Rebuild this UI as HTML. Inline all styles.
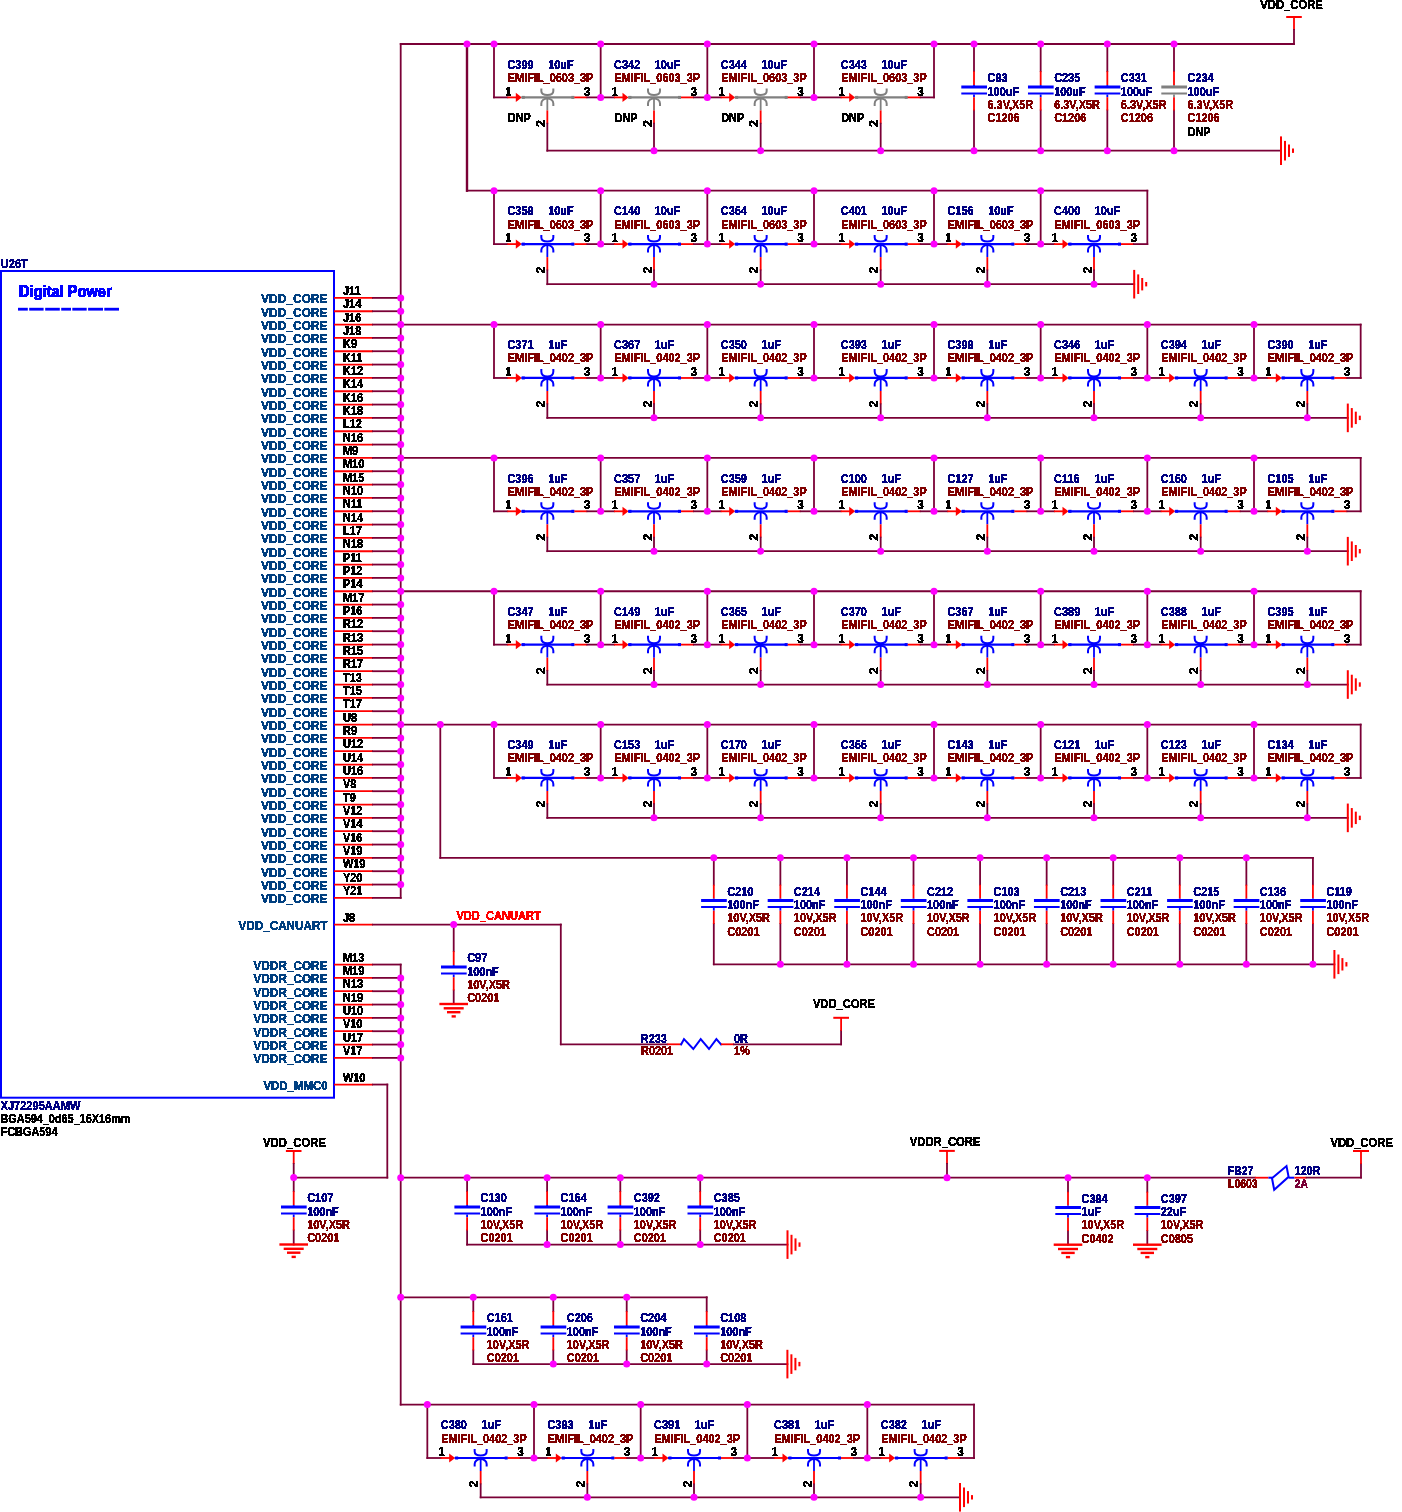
<!DOCTYPE html>
<html><head><meta charset="utf-8"><style>
html,body{margin:0;padding:0;background:#fff;width:1402px;height:1512px;overflow:hidden}
svg{display:block;font-family:"Liberation Sans",sans-serif}
text{stroke-width:0.2px}
</style></head><body>
<svg width="1402" height="1512" viewBox="0 0 1402 1512" font-family="Liberation Sans, sans-serif" font-weight="bold">
<defs><filter id="crisp" x="0" y="0" width="1402" height="1512" filterUnits="userSpaceOnUse"><feComponentTransfer><feFuncA type="discrete" tableValues="0 1 1"/></feComponentTransfer></filter></defs><rect x="1" y="271" width="333" height="826.7" fill="none" stroke="#0000ff" stroke-width="2"/>
<rect x="18" y="307.8" width="9.8" height="2.8" fill="#0000ff"/>
<rect x="29.2" y="307.8" width="14.4" height="2.8" fill="#0000ff"/>
<rect x="45.2" y="307.8" width="14.6" height="2.8" fill="#0000ff"/>
<rect x="61.2" y="307.8" width="9.8" height="2.8" fill="#0000ff"/>
<rect x="72.3" y="307.8" width="14.4" height="2.8" fill="#0000ff"/>
<rect x="88.1" y="307.8" width="14.9" height="2.8" fill="#0000ff"/>
<rect x="104.3" y="307.8" width="14.7" height="2.8" fill="#0000ff"/>
<line x1="334" y1="297.9" x2="373" y2="297.9" stroke="#ff0000" stroke-width="1.8"/>
<line x1="373" y1="297.9" x2="400.7" y2="297.9" stroke="#7a0036" stroke-width="1.8" stroke-linecap="square"/>
<line x1="334" y1="311.23" x2="373" y2="311.23" stroke="#ff0000" stroke-width="1.8"/>
<line x1="373" y1="311.23" x2="400.7" y2="311.23" stroke="#7a0036" stroke-width="1.8" stroke-linecap="square"/>
<line x1="334" y1="324.57" x2="373" y2="324.57" stroke="#ff0000" stroke-width="1.8"/>
<line x1="373" y1="324.57" x2="400.7" y2="324.57" stroke="#7a0036" stroke-width="1.8" stroke-linecap="square"/>
<line x1="334" y1="337.9" x2="373" y2="337.9" stroke="#ff0000" stroke-width="1.8"/>
<line x1="373" y1="337.9" x2="400.7" y2="337.9" stroke="#7a0036" stroke-width="1.8" stroke-linecap="square"/>
<line x1="334" y1="351.23" x2="373" y2="351.23" stroke="#ff0000" stroke-width="1.8"/>
<line x1="373" y1="351.23" x2="400.7" y2="351.23" stroke="#7a0036" stroke-width="1.8" stroke-linecap="square"/>
<line x1="334" y1="364.56" x2="373" y2="364.56" stroke="#ff0000" stroke-width="1.8"/>
<line x1="373" y1="364.56" x2="400.7" y2="364.56" stroke="#7a0036" stroke-width="1.8" stroke-linecap="square"/>
<line x1="334" y1="377.9" x2="373" y2="377.9" stroke="#ff0000" stroke-width="1.8"/>
<line x1="373" y1="377.9" x2="400.7" y2="377.9" stroke="#7a0036" stroke-width="1.8" stroke-linecap="square"/>
<line x1="334" y1="391.23" x2="373" y2="391.23" stroke="#ff0000" stroke-width="1.8"/>
<line x1="373" y1="391.23" x2="400.7" y2="391.23" stroke="#7a0036" stroke-width="1.8" stroke-linecap="square"/>
<line x1="334" y1="404.56" x2="373" y2="404.56" stroke="#ff0000" stroke-width="1.8"/>
<line x1="373" y1="404.56" x2="400.7" y2="404.56" stroke="#7a0036" stroke-width="1.8" stroke-linecap="square"/>
<line x1="334" y1="417.9" x2="373" y2="417.9" stroke="#ff0000" stroke-width="1.8"/>
<line x1="373" y1="417.9" x2="400.7" y2="417.9" stroke="#7a0036" stroke-width="1.8" stroke-linecap="square"/>
<line x1="334" y1="431.23" x2="373" y2="431.23" stroke="#ff0000" stroke-width="1.8"/>
<line x1="373" y1="431.23" x2="400.7" y2="431.23" stroke="#7a0036" stroke-width="1.8" stroke-linecap="square"/>
<line x1="334" y1="444.56" x2="373" y2="444.56" stroke="#ff0000" stroke-width="1.8"/>
<line x1="373" y1="444.56" x2="400.7" y2="444.56" stroke="#7a0036" stroke-width="1.8" stroke-linecap="square"/>
<line x1="334" y1="457.9" x2="373" y2="457.9" stroke="#ff0000" stroke-width="1.8"/>
<line x1="373" y1="457.9" x2="400.7" y2="457.9" stroke="#7a0036" stroke-width="1.8" stroke-linecap="square"/>
<line x1="334" y1="471.23" x2="373" y2="471.23" stroke="#ff0000" stroke-width="1.8"/>
<line x1="373" y1="471.23" x2="400.7" y2="471.23" stroke="#7a0036" stroke-width="1.8" stroke-linecap="square"/>
<line x1="334" y1="484.56" x2="373" y2="484.56" stroke="#ff0000" stroke-width="1.8"/>
<line x1="373" y1="484.56" x2="400.7" y2="484.56" stroke="#7a0036" stroke-width="1.8" stroke-linecap="square"/>
<line x1="334" y1="497.89" x2="373" y2="497.89" stroke="#ff0000" stroke-width="1.8"/>
<line x1="373" y1="497.89" x2="400.7" y2="497.89" stroke="#7a0036" stroke-width="1.8" stroke-linecap="square"/>
<line x1="334" y1="511.23" x2="373" y2="511.23" stroke="#ff0000" stroke-width="1.8"/>
<line x1="373" y1="511.23" x2="400.7" y2="511.23" stroke="#7a0036" stroke-width="1.8" stroke-linecap="square"/>
<line x1="334" y1="524.56" x2="373" y2="524.56" stroke="#ff0000" stroke-width="1.8"/>
<line x1="373" y1="524.56" x2="400.7" y2="524.56" stroke="#7a0036" stroke-width="1.8" stroke-linecap="square"/>
<line x1="334" y1="537.89" x2="373" y2="537.89" stroke="#ff0000" stroke-width="1.8"/>
<line x1="373" y1="537.89" x2="400.7" y2="537.89" stroke="#7a0036" stroke-width="1.8" stroke-linecap="square"/>
<line x1="334" y1="551.23" x2="373" y2="551.23" stroke="#ff0000" stroke-width="1.8"/>
<line x1="373" y1="551.23" x2="400.7" y2="551.23" stroke="#7a0036" stroke-width="1.8" stroke-linecap="square"/>
<line x1="334" y1="564.56" x2="373" y2="564.56" stroke="#ff0000" stroke-width="1.8"/>
<line x1="373" y1="564.56" x2="400.7" y2="564.56" stroke="#7a0036" stroke-width="1.8" stroke-linecap="square"/>
<line x1="334" y1="577.89" x2="373" y2="577.89" stroke="#ff0000" stroke-width="1.8"/>
<line x1="373" y1="577.89" x2="400.7" y2="577.89" stroke="#7a0036" stroke-width="1.8" stroke-linecap="square"/>
<line x1="334" y1="591.23" x2="373" y2="591.23" stroke="#ff0000" stroke-width="1.8"/>
<line x1="373" y1="591.23" x2="400.7" y2="591.23" stroke="#7a0036" stroke-width="1.8" stroke-linecap="square"/>
<line x1="334" y1="604.56" x2="373" y2="604.56" stroke="#ff0000" stroke-width="1.8"/>
<line x1="373" y1="604.56" x2="400.7" y2="604.56" stroke="#7a0036" stroke-width="1.8" stroke-linecap="square"/>
<line x1="334" y1="617.89" x2="373" y2="617.89" stroke="#ff0000" stroke-width="1.8"/>
<line x1="373" y1="617.89" x2="400.7" y2="617.89" stroke="#7a0036" stroke-width="1.8" stroke-linecap="square"/>
<line x1="334" y1="631.22" x2="373" y2="631.22" stroke="#ff0000" stroke-width="1.8"/>
<line x1="373" y1="631.22" x2="400.7" y2="631.22" stroke="#7a0036" stroke-width="1.8" stroke-linecap="square"/>
<line x1="334" y1="644.56" x2="373" y2="644.56" stroke="#ff0000" stroke-width="1.8"/>
<line x1="373" y1="644.56" x2="400.7" y2="644.56" stroke="#7a0036" stroke-width="1.8" stroke-linecap="square"/>
<line x1="334" y1="657.89" x2="373" y2="657.89" stroke="#ff0000" stroke-width="1.8"/>
<line x1="373" y1="657.89" x2="400.7" y2="657.89" stroke="#7a0036" stroke-width="1.8" stroke-linecap="square"/>
<line x1="334" y1="671.22" x2="373" y2="671.22" stroke="#ff0000" stroke-width="1.8"/>
<line x1="373" y1="671.22" x2="400.7" y2="671.22" stroke="#7a0036" stroke-width="1.8" stroke-linecap="square"/>
<line x1="334" y1="684.56" x2="373" y2="684.56" stroke="#ff0000" stroke-width="1.8"/>
<line x1="373" y1="684.56" x2="400.7" y2="684.56" stroke="#7a0036" stroke-width="1.8" stroke-linecap="square"/>
<line x1="334" y1="697.89" x2="373" y2="697.89" stroke="#ff0000" stroke-width="1.8"/>
<line x1="373" y1="697.89" x2="400.7" y2="697.89" stroke="#7a0036" stroke-width="1.8" stroke-linecap="square"/>
<line x1="334" y1="711.22" x2="373" y2="711.22" stroke="#ff0000" stroke-width="1.8"/>
<line x1="373" y1="711.22" x2="400.7" y2="711.22" stroke="#7a0036" stroke-width="1.8" stroke-linecap="square"/>
<line x1="334" y1="724.56" x2="373" y2="724.56" stroke="#ff0000" stroke-width="1.8"/>
<line x1="373" y1="724.56" x2="400.7" y2="724.56" stroke="#7a0036" stroke-width="1.8" stroke-linecap="square"/>
<line x1="334" y1="737.89" x2="373" y2="737.89" stroke="#ff0000" stroke-width="1.8"/>
<line x1="373" y1="737.89" x2="400.7" y2="737.89" stroke="#7a0036" stroke-width="1.8" stroke-linecap="square"/>
<line x1="334" y1="751.22" x2="373" y2="751.22" stroke="#ff0000" stroke-width="1.8"/>
<line x1="373" y1="751.22" x2="400.7" y2="751.22" stroke="#7a0036" stroke-width="1.8" stroke-linecap="square"/>
<line x1="334" y1="764.56" x2="373" y2="764.56" stroke="#ff0000" stroke-width="1.8"/>
<line x1="373" y1="764.56" x2="400.7" y2="764.56" stroke="#7a0036" stroke-width="1.8" stroke-linecap="square"/>
<line x1="334" y1="777.89" x2="373" y2="777.89" stroke="#ff0000" stroke-width="1.8"/>
<line x1="373" y1="777.89" x2="400.7" y2="777.89" stroke="#7a0036" stroke-width="1.8" stroke-linecap="square"/>
<line x1="334" y1="791.22" x2="373" y2="791.22" stroke="#ff0000" stroke-width="1.8"/>
<line x1="373" y1="791.22" x2="400.7" y2="791.22" stroke="#7a0036" stroke-width="1.8" stroke-linecap="square"/>
<line x1="334" y1="804.55" x2="373" y2="804.55" stroke="#ff0000" stroke-width="1.8"/>
<line x1="373" y1="804.55" x2="400.7" y2="804.55" stroke="#7a0036" stroke-width="1.8" stroke-linecap="square"/>
<line x1="334" y1="817.89" x2="373" y2="817.89" stroke="#ff0000" stroke-width="1.8"/>
<line x1="373" y1="817.89" x2="400.7" y2="817.89" stroke="#7a0036" stroke-width="1.8" stroke-linecap="square"/>
<line x1="334" y1="831.22" x2="373" y2="831.22" stroke="#ff0000" stroke-width="1.8"/>
<line x1="373" y1="831.22" x2="400.7" y2="831.22" stroke="#7a0036" stroke-width="1.8" stroke-linecap="square"/>
<line x1="334" y1="844.55" x2="373" y2="844.55" stroke="#ff0000" stroke-width="1.8"/>
<line x1="373" y1="844.55" x2="400.7" y2="844.55" stroke="#7a0036" stroke-width="1.8" stroke-linecap="square"/>
<line x1="334" y1="857.89" x2="373" y2="857.89" stroke="#ff0000" stroke-width="1.8"/>
<line x1="373" y1="857.89" x2="400.7" y2="857.89" stroke="#7a0036" stroke-width="1.8" stroke-linecap="square"/>
<line x1="334" y1="871.22" x2="373" y2="871.22" stroke="#ff0000" stroke-width="1.8"/>
<line x1="373" y1="871.22" x2="400.7" y2="871.22" stroke="#7a0036" stroke-width="1.8" stroke-linecap="square"/>
<line x1="334" y1="884.55" x2="373" y2="884.55" stroke="#ff0000" stroke-width="1.8"/>
<line x1="373" y1="884.55" x2="400.7" y2="884.55" stroke="#7a0036" stroke-width="1.8" stroke-linecap="square"/>
<line x1="334" y1="897.88" x2="373" y2="897.88" stroke="#ff0000" stroke-width="1.8"/>
<line x1="373" y1="897.88" x2="400.7" y2="897.88" stroke="#7a0036" stroke-width="1.8" stroke-linecap="square"/>
<line x1="400.7" y1="44" x2="400.7" y2="897.88" stroke="#7a0036" stroke-width="1.8" stroke-linecap="square"/>
<line x1="334" y1="924.55" x2="373" y2="924.55" stroke="#ff0000" stroke-width="1.8"/>
<line x1="373" y1="924.55" x2="560.8" y2="924.55" stroke="#7a0036" stroke-width="1.8" stroke-linecap="square"/>
<line x1="560.8" y1="924.55" x2="560.8" y2="1044.3" stroke="#7a0036" stroke-width="1.8" stroke-linecap="square"/>
<line x1="560.8" y1="1044.3" x2="667.3" y2="1044.3" stroke="#7a0036" stroke-width="1.8" stroke-linecap="square"/>
<line x1="334" y1="964.55" x2="373" y2="964.55" stroke="#ff0000" stroke-width="1.8"/>
<line x1="373" y1="964.55" x2="400.7" y2="964.55" stroke="#7a0036" stroke-width="1.8" stroke-linecap="square"/>
<line x1="334" y1="977.88" x2="373" y2="977.88" stroke="#ff0000" stroke-width="1.8"/>
<line x1="373" y1="977.88" x2="400.7" y2="977.88" stroke="#7a0036" stroke-width="1.8" stroke-linecap="square"/>
<line x1="334" y1="991.22" x2="373" y2="991.22" stroke="#ff0000" stroke-width="1.8"/>
<line x1="373" y1="991.22" x2="400.7" y2="991.22" stroke="#7a0036" stroke-width="1.8" stroke-linecap="square"/>
<line x1="334" y1="1004.55" x2="373" y2="1004.55" stroke="#ff0000" stroke-width="1.8"/>
<line x1="373" y1="1004.55" x2="400.7" y2="1004.55" stroke="#7a0036" stroke-width="1.8" stroke-linecap="square"/>
<line x1="334" y1="1017.88" x2="373" y2="1017.88" stroke="#ff0000" stroke-width="1.8"/>
<line x1="373" y1="1017.88" x2="400.7" y2="1017.88" stroke="#7a0036" stroke-width="1.8" stroke-linecap="square"/>
<line x1="334" y1="1031.22" x2="373" y2="1031.22" stroke="#ff0000" stroke-width="1.8"/>
<line x1="373" y1="1031.22" x2="400.7" y2="1031.22" stroke="#7a0036" stroke-width="1.8" stroke-linecap="square"/>
<line x1="334" y1="1044.55" x2="373" y2="1044.55" stroke="#ff0000" stroke-width="1.8"/>
<line x1="373" y1="1044.55" x2="400.7" y2="1044.55" stroke="#7a0036" stroke-width="1.8" stroke-linecap="square"/>
<line x1="334" y1="1057.88" x2="373" y2="1057.88" stroke="#ff0000" stroke-width="1.8"/>
<line x1="373" y1="1057.88" x2="400.7" y2="1057.88" stroke="#7a0036" stroke-width="1.8" stroke-linecap="square"/>
<line x1="400.7" y1="964.55" x2="400.7" y2="1404.6" stroke="#7a0036" stroke-width="1.8" stroke-linecap="square"/>
<line x1="334" y1="1084.55" x2="373" y2="1084.55" stroke="#ff0000" stroke-width="1.8"/>
<line x1="373" y1="1084.55" x2="387.3" y2="1084.55" stroke="#7a0036" stroke-width="1.8" stroke-linecap="square"/>
<line x1="387.3" y1="1084.55" x2="387.3" y2="1177.6" stroke="#7a0036" stroke-width="1.8" stroke-linecap="square"/>
<line x1="387.3" y1="1177.6" x2="293.7" y2="1177.6" stroke="#7a0036" stroke-width="1.8" stroke-linecap="square"/>
<line x1="400.7" y1="44" x2="1294" y2="44" stroke="#7a0036" stroke-width="1.8" stroke-linecap="square"/>
<line x1="467" y1="44" x2="467" y2="190.7" stroke="#7a0036" stroke-width="2.4" stroke-linecap="square"/>
<line x1="494" y1="44" x2="494" y2="97.4" stroke="#7a0036" stroke-width="1.8" stroke-linecap="square"/>
<line x1="600.67" y1="44" x2="600.67" y2="97.4" stroke="#7a0036" stroke-width="1.8" stroke-linecap="square"/>
<line x1="707.33" y1="44" x2="707.33" y2="97.4" stroke="#7a0036" stroke-width="1.8" stroke-linecap="square"/>
<line x1="814" y1="44" x2="814" y2="97.4" stroke="#7a0036" stroke-width="1.8" stroke-linecap="square"/>
<line x1="934" y1="44" x2="934" y2="97.4" stroke="#7a0036" stroke-width="1.8" stroke-linecap="square"/>
<line x1="494" y1="97.4" x2="507.33" y2="97.4" stroke="#7a0036" stroke-width="1.8" stroke-linecap="square"/>
<line x1="507.33" y1="97.4" x2="519.33" y2="97.4" stroke="#ff0000" stroke-width="1.8"/>
<polygon points="515.83,92.8 521.83,97.4 515.83,102" fill="#ff0000"/>
<line x1="521.33" y1="97.4" x2="574.33" y2="97.4" stroke="#808080" stroke-width="2.2"/>
<rect x="521.83" y="95.9" width="3" height="3" fill="#808080"/>
<rect x="571.33" y="95.9" width="3" height="3" fill="#808080"/>
<line x1="574.33" y1="97.4" x2="587.33" y2="97.4" stroke="#ff0000" stroke-width="1.8"/>
<line x1="587.33" y1="97.4" x2="600.67" y2="97.4" stroke="#7a0036" stroke-width="1.8" stroke-linecap="square"/>
<path d="M541.33,88.4 L541.33,90.9 C541.33,93.9 544.33,94.9 547.33,94.9 C550.33,94.9 553.33,93.9 553.33,90.9 L553.33,88.4" fill="none" stroke="#808080" stroke-width="2"/>
<path d="M541.33,105.9 L541.33,103.4 C541.33,100.4 544.33,98.4 547.33,98.4 C550.33,98.4 553.33,100.4 553.33,103.4 L553.33,105.9" fill="none" stroke="#808080" stroke-width="2"/>
<line x1="547.33" y1="97.4" x2="547.33" y2="110.4" stroke="#808080" stroke-width="1.8"/>
<line x1="547.33" y1="110.4" x2="547.33" y2="123.7" stroke="#ff0000" stroke-width="1.8"/>
<line x1="547.33" y1="123.7" x2="547.33" y2="150.7" stroke="#7a0036" stroke-width="1.8" stroke-linecap="square"/>
<line x1="600.67" y1="97.4" x2="614" y2="97.4" stroke="#7a0036" stroke-width="1.8" stroke-linecap="square"/>
<line x1="614" y1="97.4" x2="626" y2="97.4" stroke="#ff0000" stroke-width="1.8"/>
<polygon points="622.5,92.8 628.5,97.4 622.5,102" fill="#ff0000"/>
<line x1="628" y1="97.4" x2="681" y2="97.4" stroke="#808080" stroke-width="2.2"/>
<rect x="628.5" y="95.9" width="3" height="3" fill="#808080"/>
<rect x="678" y="95.9" width="3" height="3" fill="#808080"/>
<line x1="681" y1="97.4" x2="694" y2="97.4" stroke="#ff0000" stroke-width="1.8"/>
<line x1="694" y1="97.4" x2="707.33" y2="97.4" stroke="#7a0036" stroke-width="1.8" stroke-linecap="square"/>
<path d="M648,88.4 L648,90.9 C648,93.9 651,94.9 654,94.9 C657,94.9 660,93.9 660,90.9 L660,88.4" fill="none" stroke="#808080" stroke-width="2"/>
<path d="M648,105.9 L648,103.4 C648,100.4 651,98.4 654,98.4 C657,98.4 660,100.4 660,103.4 L660,105.9" fill="none" stroke="#808080" stroke-width="2"/>
<line x1="654" y1="97.4" x2="654" y2="110.4" stroke="#808080" stroke-width="1.8"/>
<line x1="654" y1="110.4" x2="654" y2="123.7" stroke="#ff0000" stroke-width="1.8"/>
<line x1="654" y1="123.7" x2="654" y2="150.7" stroke="#7a0036" stroke-width="1.8" stroke-linecap="square"/>
<line x1="707.33" y1="97.4" x2="720.66" y2="97.4" stroke="#7a0036" stroke-width="1.8" stroke-linecap="square"/>
<line x1="720.66" y1="97.4" x2="732.66" y2="97.4" stroke="#ff0000" stroke-width="1.8"/>
<polygon points="729.16,92.8 735.16,97.4 729.16,102" fill="#ff0000"/>
<line x1="734.66" y1="97.4" x2="787.66" y2="97.4" stroke="#808080" stroke-width="2.2"/>
<rect x="735.16" y="95.9" width="3" height="3" fill="#808080"/>
<rect x="784.66" y="95.9" width="3" height="3" fill="#808080"/>
<line x1="787.66" y1="97.4" x2="800.66" y2="97.4" stroke="#ff0000" stroke-width="1.8"/>
<line x1="800.66" y1="97.4" x2="814" y2="97.4" stroke="#7a0036" stroke-width="1.8" stroke-linecap="square"/>
<path d="M754.66,88.4 L754.66,90.9 C754.66,93.9 757.66,94.9 760.66,94.9 C763.66,94.9 766.66,93.9 766.66,90.9 L766.66,88.4" fill="none" stroke="#808080" stroke-width="2"/>
<path d="M754.66,105.9 L754.66,103.4 C754.66,100.4 757.66,98.4 760.66,98.4 C763.66,98.4 766.66,100.4 766.66,103.4 L766.66,105.9" fill="none" stroke="#808080" stroke-width="2"/>
<line x1="760.66" y1="97.4" x2="760.66" y2="110.4" stroke="#808080" stroke-width="1.8"/>
<line x1="760.66" y1="110.4" x2="760.66" y2="123.7" stroke="#ff0000" stroke-width="1.8"/>
<line x1="760.66" y1="123.7" x2="760.66" y2="150.7" stroke="#7a0036" stroke-width="1.8" stroke-linecap="square"/>
<line x1="814" y1="97.4" x2="840.67" y2="97.4" stroke="#7a0036" stroke-width="1.8" stroke-linecap="square"/>
<line x1="840.67" y1="97.4" x2="852.67" y2="97.4" stroke="#ff0000" stroke-width="1.8"/>
<polygon points="849.17,92.8 855.17,97.4 849.17,102" fill="#ff0000"/>
<line x1="854.67" y1="97.4" x2="907.67" y2="97.4" stroke="#808080" stroke-width="2.2"/>
<rect x="855.17" y="95.9" width="3" height="3" fill="#808080"/>
<rect x="904.67" y="95.9" width="3" height="3" fill="#808080"/>
<line x1="907.67" y1="97.4" x2="920.67" y2="97.4" stroke="#ff0000" stroke-width="1.8"/>
<line x1="920.67" y1="97.4" x2="934" y2="97.4" stroke="#7a0036" stroke-width="1.8" stroke-linecap="square"/>
<path d="M874.67,88.4 L874.67,90.9 C874.67,93.9 877.67,94.9 880.67,94.9 C883.67,94.9 886.67,93.9 886.67,90.9 L886.67,88.4" fill="none" stroke="#808080" stroke-width="2"/>
<path d="M874.67,105.9 L874.67,103.4 C874.67,100.4 877.67,98.4 880.67,98.4 C883.67,98.4 886.67,100.4 886.67,103.4 L886.67,105.9" fill="none" stroke="#808080" stroke-width="2"/>
<line x1="880.67" y1="97.4" x2="880.67" y2="110.4" stroke="#808080" stroke-width="1.8"/>
<line x1="880.67" y1="110.4" x2="880.67" y2="123.7" stroke="#ff0000" stroke-width="1.8"/>
<line x1="880.67" y1="123.7" x2="880.67" y2="150.7" stroke="#7a0036" stroke-width="1.8" stroke-linecap="square"/>
<line x1="547.33" y1="150.7" x2="1281" y2="150.7" stroke="#7a0036" stroke-width="1.8" stroke-linecap="square"/>
<rect x="1280" y="136.4" width="2" height="28.6" fill="#ff0000"/>
<rect x="1284" y="140.9" width="2" height="19.6" fill="#ff0000"/>
<rect x="1288" y="144.5" width="2" height="12.4" fill="#ff0000"/>
<rect x="1292" y="148.5" width="2" height="4.4" fill="#ff0000"/>
<line x1="974" y1="44" x2="974" y2="71.2" stroke="#7a0036" stroke-width="1.8" stroke-linecap="square"/>
<line x1="974" y1="110.4" x2="974" y2="150.7" stroke="#7a0036" stroke-width="1.8" stroke-linecap="square"/>
<line x1="974" y1="71.2" x2="974" y2="85.1" stroke="#ff0000" stroke-width="1.8"/>
<line x1="974" y1="85.1" x2="974" y2="86" stroke="#0000ff" stroke-width="1.8"/>
<rect x="961.3" y="85.5" width="25.7" height="3" fill="#0000ff"/>
<rect x="961.3" y="92.5" width="25.7" height="2" fill="#0000ff"/>
<line x1="974" y1="94.5" x2="974" y2="97.2" stroke="#0000ff" stroke-width="1.8"/>
<line x1="974" y1="97.2" x2="974" y2="110.4" stroke="#ff0000" stroke-width="1.8"/>
<line x1="1040.67" y1="44" x2="1040.67" y2="71.2" stroke="#7a0036" stroke-width="1.8" stroke-linecap="square"/>
<line x1="1040.67" y1="110.4" x2="1040.67" y2="150.7" stroke="#7a0036" stroke-width="1.8" stroke-linecap="square"/>
<line x1="1040.67" y1="71.2" x2="1040.67" y2="85.1" stroke="#ff0000" stroke-width="1.8"/>
<line x1="1040.67" y1="85.1" x2="1040.67" y2="86" stroke="#0000ff" stroke-width="1.8"/>
<rect x="1027.97" y="85.5" width="25.7" height="3" fill="#0000ff"/>
<rect x="1027.97" y="92.5" width="25.7" height="2" fill="#0000ff"/>
<line x1="1040.67" y1="94.5" x2="1040.67" y2="97.2" stroke="#0000ff" stroke-width="1.8"/>
<line x1="1040.67" y1="97.2" x2="1040.67" y2="110.4" stroke="#ff0000" stroke-width="1.8"/>
<line x1="1107.33" y1="44" x2="1107.33" y2="71.2" stroke="#7a0036" stroke-width="1.8" stroke-linecap="square"/>
<line x1="1107.33" y1="110.4" x2="1107.33" y2="150.7" stroke="#7a0036" stroke-width="1.8" stroke-linecap="square"/>
<line x1="1107.33" y1="71.2" x2="1107.33" y2="85.1" stroke="#ff0000" stroke-width="1.8"/>
<line x1="1107.33" y1="85.1" x2="1107.33" y2="86" stroke="#0000ff" stroke-width="1.8"/>
<rect x="1094.63" y="85.5" width="25.7" height="3" fill="#0000ff"/>
<rect x="1094.63" y="92.5" width="25.7" height="2" fill="#0000ff"/>
<line x1="1107.33" y1="94.5" x2="1107.33" y2="97.2" stroke="#0000ff" stroke-width="1.8"/>
<line x1="1107.33" y1="97.2" x2="1107.33" y2="110.4" stroke="#ff0000" stroke-width="1.8"/>
<line x1="1174" y1="44" x2="1174" y2="71.2" stroke="#7a0036" stroke-width="1.8" stroke-linecap="square"/>
<line x1="1174" y1="110.4" x2="1174" y2="150.7" stroke="#7a0036" stroke-width="1.8" stroke-linecap="square"/>
<line x1="1174" y1="71.2" x2="1174" y2="85.1" stroke="#ff0000" stroke-width="1.8"/>
<line x1="1174" y1="85.1" x2="1174" y2="86" stroke="#808080" stroke-width="1.8"/>
<rect x="1161.3" y="85.5" width="25.7" height="3" fill="#808080"/>
<rect x="1161.3" y="92.5" width="25.7" height="2" fill="#808080"/>
<line x1="1174" y1="94.5" x2="1174" y2="97.2" stroke="#808080" stroke-width="1.8"/>
<line x1="1174" y1="97.2" x2="1174" y2="110.4" stroke="#ff0000" stroke-width="1.8"/>
<rect x="1286.2" y="16" width="15.6" height="2" fill="#ff0000"/>
<line x1="1294" y1="17" x2="1294" y2="30" stroke="#ff0000" stroke-width="1.8"/>
<line x1="1294" y1="30" x2="1294" y2="44" stroke="#7a0036" stroke-width="1.8" stroke-linecap="square"/>
<line x1="467" y1="190.7" x2="1147.33" y2="190.7" stroke="#7a0036" stroke-width="1.8" stroke-linecap="square"/>
<line x1="494" y1="190.7" x2="494" y2="244.1" stroke="#7a0036" stroke-width="1.8" stroke-linecap="square"/>
<line x1="600.67" y1="190.7" x2="600.67" y2="244.1" stroke="#7a0036" stroke-width="1.8" stroke-linecap="square"/>
<line x1="707.33" y1="190.7" x2="707.33" y2="244.1" stroke="#7a0036" stroke-width="1.8" stroke-linecap="square"/>
<line x1="814" y1="190.7" x2="814" y2="244.1" stroke="#7a0036" stroke-width="1.8" stroke-linecap="square"/>
<line x1="934" y1="190.7" x2="934" y2="244.1" stroke="#7a0036" stroke-width="1.8" stroke-linecap="square"/>
<line x1="1040.67" y1="190.7" x2="1040.67" y2="244.1" stroke="#7a0036" stroke-width="1.8" stroke-linecap="square"/>
<line x1="1147.33" y1="190.7" x2="1147.33" y2="244.1" stroke="#7a0036" stroke-width="1.8" stroke-linecap="square"/>
<line x1="494" y1="244.1" x2="507.33" y2="244.1" stroke="#7a0036" stroke-width="1.8" stroke-linecap="square"/>
<line x1="507.33" y1="244.1" x2="519.33" y2="244.1" stroke="#ff0000" stroke-width="1.8"/>
<polygon points="515.83,239.5 521.83,244.1 515.83,248.7" fill="#ff0000"/>
<line x1="521.33" y1="244.1" x2="574.33" y2="244.1" stroke="#0000ff" stroke-width="2.2"/>
<rect x="521.83" y="242.6" width="3" height="3" fill="#0000ff"/>
<rect x="571.33" y="242.6" width="3" height="3" fill="#0000ff"/>
<line x1="574.33" y1="244.1" x2="587.33" y2="244.1" stroke="#ff0000" stroke-width="1.8"/>
<line x1="587.33" y1="244.1" x2="600.67" y2="244.1" stroke="#7a0036" stroke-width="1.8" stroke-linecap="square"/>
<path d="M541.33,235.1 L541.33,237.6 C541.33,240.6 544.33,241.6 547.33,241.6 C550.33,241.6 553.33,240.6 553.33,237.6 L553.33,235.1" fill="none" stroke="#0000ff" stroke-width="2"/>
<path d="M541.33,252.6 L541.33,250.1 C541.33,247.1 544.33,245.1 547.33,245.1 C550.33,245.1 553.33,247.1 553.33,250.1 L553.33,252.6" fill="none" stroke="#0000ff" stroke-width="2"/>
<line x1="547.33" y1="244.1" x2="547.33" y2="257.1" stroke="#0000ff" stroke-width="1.8"/>
<line x1="547.33" y1="257.1" x2="547.33" y2="270.4" stroke="#ff0000" stroke-width="1.8"/>
<line x1="547.33" y1="270.4" x2="547.33" y2="284.2" stroke="#7a0036" stroke-width="1.8" stroke-linecap="square"/>
<line x1="600.67" y1="244.1" x2="614" y2="244.1" stroke="#7a0036" stroke-width="1.8" stroke-linecap="square"/>
<line x1="614" y1="244.1" x2="626" y2="244.1" stroke="#ff0000" stroke-width="1.8"/>
<polygon points="622.5,239.5 628.5,244.1 622.5,248.7" fill="#ff0000"/>
<line x1="628" y1="244.1" x2="681" y2="244.1" stroke="#0000ff" stroke-width="2.2"/>
<rect x="628.5" y="242.6" width="3" height="3" fill="#0000ff"/>
<rect x="678" y="242.6" width="3" height="3" fill="#0000ff"/>
<line x1="681" y1="244.1" x2="694" y2="244.1" stroke="#ff0000" stroke-width="1.8"/>
<line x1="694" y1="244.1" x2="707.33" y2="244.1" stroke="#7a0036" stroke-width="1.8" stroke-linecap="square"/>
<path d="M648,235.1 L648,237.6 C648,240.6 651,241.6 654,241.6 C657,241.6 660,240.6 660,237.6 L660,235.1" fill="none" stroke="#0000ff" stroke-width="2"/>
<path d="M648,252.6 L648,250.1 C648,247.1 651,245.1 654,245.1 C657,245.1 660,247.1 660,250.1 L660,252.6" fill="none" stroke="#0000ff" stroke-width="2"/>
<line x1="654" y1="244.1" x2="654" y2="257.1" stroke="#0000ff" stroke-width="1.8"/>
<line x1="654" y1="257.1" x2="654" y2="270.4" stroke="#ff0000" stroke-width="1.8"/>
<line x1="654" y1="270.4" x2="654" y2="284.2" stroke="#7a0036" stroke-width="1.8" stroke-linecap="square"/>
<line x1="707.33" y1="244.1" x2="720.66" y2="244.1" stroke="#7a0036" stroke-width="1.8" stroke-linecap="square"/>
<line x1="720.66" y1="244.1" x2="732.66" y2="244.1" stroke="#ff0000" stroke-width="1.8"/>
<polygon points="729.16,239.5 735.16,244.1 729.16,248.7" fill="#ff0000"/>
<line x1="734.66" y1="244.1" x2="787.66" y2="244.1" stroke="#0000ff" stroke-width="2.2"/>
<rect x="735.16" y="242.6" width="3" height="3" fill="#0000ff"/>
<rect x="784.66" y="242.6" width="3" height="3" fill="#0000ff"/>
<line x1="787.66" y1="244.1" x2="800.66" y2="244.1" stroke="#ff0000" stroke-width="1.8"/>
<line x1="800.66" y1="244.1" x2="814" y2="244.1" stroke="#7a0036" stroke-width="1.8" stroke-linecap="square"/>
<path d="M754.66,235.1 L754.66,237.6 C754.66,240.6 757.66,241.6 760.66,241.6 C763.66,241.6 766.66,240.6 766.66,237.6 L766.66,235.1" fill="none" stroke="#0000ff" stroke-width="2"/>
<path d="M754.66,252.6 L754.66,250.1 C754.66,247.1 757.66,245.1 760.66,245.1 C763.66,245.1 766.66,247.1 766.66,250.1 L766.66,252.6" fill="none" stroke="#0000ff" stroke-width="2"/>
<line x1="760.66" y1="244.1" x2="760.66" y2="257.1" stroke="#0000ff" stroke-width="1.8"/>
<line x1="760.66" y1="257.1" x2="760.66" y2="270.4" stroke="#ff0000" stroke-width="1.8"/>
<line x1="760.66" y1="270.4" x2="760.66" y2="284.2" stroke="#7a0036" stroke-width="1.8" stroke-linecap="square"/>
<line x1="814" y1="244.1" x2="840.67" y2="244.1" stroke="#7a0036" stroke-width="1.8" stroke-linecap="square"/>
<line x1="840.67" y1="244.1" x2="852.67" y2="244.1" stroke="#ff0000" stroke-width="1.8"/>
<polygon points="849.17,239.5 855.17,244.1 849.17,248.7" fill="#ff0000"/>
<line x1="854.67" y1="244.1" x2="907.67" y2="244.1" stroke="#0000ff" stroke-width="2.2"/>
<rect x="855.17" y="242.6" width="3" height="3" fill="#0000ff"/>
<rect x="904.67" y="242.6" width="3" height="3" fill="#0000ff"/>
<line x1="907.67" y1="244.1" x2="920.67" y2="244.1" stroke="#ff0000" stroke-width="1.8"/>
<line x1="920.67" y1="244.1" x2="934" y2="244.1" stroke="#7a0036" stroke-width="1.8" stroke-linecap="square"/>
<path d="M874.67,235.1 L874.67,237.6 C874.67,240.6 877.67,241.6 880.67,241.6 C883.67,241.6 886.67,240.6 886.67,237.6 L886.67,235.1" fill="none" stroke="#0000ff" stroke-width="2"/>
<path d="M874.67,252.6 L874.67,250.1 C874.67,247.1 877.67,245.1 880.67,245.1 C883.67,245.1 886.67,247.1 886.67,250.1 L886.67,252.6" fill="none" stroke="#0000ff" stroke-width="2"/>
<line x1="880.67" y1="244.1" x2="880.67" y2="257.1" stroke="#0000ff" stroke-width="1.8"/>
<line x1="880.67" y1="257.1" x2="880.67" y2="270.4" stroke="#ff0000" stroke-width="1.8"/>
<line x1="880.67" y1="270.4" x2="880.67" y2="284.2" stroke="#7a0036" stroke-width="1.8" stroke-linecap="square"/>
<line x1="934" y1="244.1" x2="947.33" y2="244.1" stroke="#7a0036" stroke-width="1.8" stroke-linecap="square"/>
<line x1="947.33" y1="244.1" x2="959.33" y2="244.1" stroke="#ff0000" stroke-width="1.8"/>
<polygon points="955.83,239.5 961.83,244.1 955.83,248.7" fill="#ff0000"/>
<line x1="961.33" y1="244.1" x2="1014.33" y2="244.1" stroke="#0000ff" stroke-width="2.2"/>
<rect x="961.83" y="242.6" width="3" height="3" fill="#0000ff"/>
<rect x="1011.33" y="242.6" width="3" height="3" fill="#0000ff"/>
<line x1="1014.33" y1="244.1" x2="1027.33" y2="244.1" stroke="#ff0000" stroke-width="1.8"/>
<line x1="1027.33" y1="244.1" x2="1040.67" y2="244.1" stroke="#7a0036" stroke-width="1.8" stroke-linecap="square"/>
<path d="M981.33,235.1 L981.33,237.6 C981.33,240.6 984.33,241.6 987.33,241.6 C990.33,241.6 993.33,240.6 993.33,237.6 L993.33,235.1" fill="none" stroke="#0000ff" stroke-width="2"/>
<path d="M981.33,252.6 L981.33,250.1 C981.33,247.1 984.33,245.1 987.33,245.1 C990.33,245.1 993.33,247.1 993.33,250.1 L993.33,252.6" fill="none" stroke="#0000ff" stroke-width="2"/>
<line x1="987.33" y1="244.1" x2="987.33" y2="257.1" stroke="#0000ff" stroke-width="1.8"/>
<line x1="987.33" y1="257.1" x2="987.33" y2="270.4" stroke="#ff0000" stroke-width="1.8"/>
<line x1="987.33" y1="270.4" x2="987.33" y2="284.2" stroke="#7a0036" stroke-width="1.8" stroke-linecap="square"/>
<line x1="1040.67" y1="244.1" x2="1054" y2="244.1" stroke="#7a0036" stroke-width="1.8" stroke-linecap="square"/>
<line x1="1054" y1="244.1" x2="1066" y2="244.1" stroke="#ff0000" stroke-width="1.8"/>
<polygon points="1062.5,239.5 1068.5,244.1 1062.5,248.7" fill="#ff0000"/>
<line x1="1068" y1="244.1" x2="1121" y2="244.1" stroke="#0000ff" stroke-width="2.2"/>
<rect x="1068.5" y="242.6" width="3" height="3" fill="#0000ff"/>
<rect x="1118" y="242.6" width="3" height="3" fill="#0000ff"/>
<line x1="1121" y1="244.1" x2="1134" y2="244.1" stroke="#ff0000" stroke-width="1.8"/>
<line x1="1134" y1="244.1" x2="1147.33" y2="244.1" stroke="#7a0036" stroke-width="1.8" stroke-linecap="square"/>
<path d="M1088,235.1 L1088,237.6 C1088,240.6 1091,241.6 1094,241.6 C1097,241.6 1100,240.6 1100,237.6 L1100,235.1" fill="none" stroke="#0000ff" stroke-width="2"/>
<path d="M1088,252.6 L1088,250.1 C1088,247.1 1091,245.1 1094,245.1 C1097,245.1 1100,247.1 1100,250.1 L1100,252.6" fill="none" stroke="#0000ff" stroke-width="2"/>
<line x1="1094" y1="244.1" x2="1094" y2="257.1" stroke="#0000ff" stroke-width="1.8"/>
<line x1="1094" y1="257.1" x2="1094" y2="270.4" stroke="#ff0000" stroke-width="1.8"/>
<line x1="1094" y1="270.4" x2="1094" y2="284.2" stroke="#7a0036" stroke-width="1.8" stroke-linecap="square"/>
<line x1="547.33" y1="284.2" x2="1134.2" y2="284.2" stroke="#7a0036" stroke-width="1.8" stroke-linecap="square"/>
<rect x="1133.2" y="269.9" width="2" height="28.6" fill="#ff0000"/>
<rect x="1137.2" y="274.4" width="2" height="19.6" fill="#ff0000"/>
<rect x="1141.2" y="278" width="2" height="12.4" fill="#ff0000"/>
<rect x="1145.2" y="282" width="2" height="4.4" fill="#ff0000"/>
<line x1="400.7" y1="324.57" x2="1360.67" y2="324.57" stroke="#7a0036" stroke-width="1.8" stroke-linecap="square"/>
<line x1="494" y1="324.57" x2="494" y2="377.97" stroke="#7a0036" stroke-width="1.8" stroke-linecap="square"/>
<line x1="600.67" y1="324.57" x2="600.67" y2="377.97" stroke="#7a0036" stroke-width="1.8" stroke-linecap="square"/>
<line x1="707.33" y1="324.57" x2="707.33" y2="377.97" stroke="#7a0036" stroke-width="1.8" stroke-linecap="square"/>
<line x1="814" y1="324.57" x2="814" y2="377.97" stroke="#7a0036" stroke-width="1.8" stroke-linecap="square"/>
<line x1="934" y1="324.57" x2="934" y2="377.97" stroke="#7a0036" stroke-width="1.8" stroke-linecap="square"/>
<line x1="1040.67" y1="324.57" x2="1040.67" y2="377.97" stroke="#7a0036" stroke-width="1.8" stroke-linecap="square"/>
<line x1="1147.33" y1="324.57" x2="1147.33" y2="377.97" stroke="#7a0036" stroke-width="1.8" stroke-linecap="square"/>
<line x1="1254" y1="324.57" x2="1254" y2="377.97" stroke="#7a0036" stroke-width="1.8" stroke-linecap="square"/>
<line x1="1360.67" y1="324.57" x2="1360.67" y2="377.97" stroke="#7a0036" stroke-width="1.8" stroke-linecap="square"/>
<line x1="494" y1="377.97" x2="507.33" y2="377.97" stroke="#7a0036" stroke-width="1.8" stroke-linecap="square"/>
<line x1="507.33" y1="377.97" x2="519.33" y2="377.97" stroke="#ff0000" stroke-width="1.8"/>
<polygon points="515.83,373.37 521.83,377.97 515.83,382.57" fill="#ff0000"/>
<line x1="521.33" y1="377.97" x2="574.33" y2="377.97" stroke="#0000ff" stroke-width="2.2"/>
<rect x="521.83" y="376.47" width="3" height="3" fill="#0000ff"/>
<rect x="571.33" y="376.47" width="3" height="3" fill="#0000ff"/>
<line x1="574.33" y1="377.97" x2="587.33" y2="377.97" stroke="#ff0000" stroke-width="1.8"/>
<line x1="587.33" y1="377.97" x2="600.67" y2="377.97" stroke="#7a0036" stroke-width="1.8" stroke-linecap="square"/>
<path d="M541.33,368.97 L541.33,371.47 C541.33,375.47 544.33,376.47 547.33,376.47 C550.33,376.47 553.33,375.47 553.33,371.47 L553.33,368.97" fill="none" stroke="#0000ff" stroke-width="2"/>
<path d="M541.33,386.47 L541.33,383.97 C541.33,380.97 544.33,378.97 547.33,378.97 C550.33,378.97 553.33,380.97 553.33,383.97 L553.33,386.47" fill="none" stroke="#0000ff" stroke-width="2"/>
<line x1="547.33" y1="377.97" x2="547.33" y2="390.97" stroke="#0000ff" stroke-width="1.8"/>
<line x1="547.33" y1="390.97" x2="547.33" y2="404.27" stroke="#ff0000" stroke-width="1.8"/>
<line x1="547.33" y1="404.27" x2="547.33" y2="417.87" stroke="#7a0036" stroke-width="1.8" stroke-linecap="square"/>
<line x1="600.67" y1="377.97" x2="614" y2="377.97" stroke="#7a0036" stroke-width="1.8" stroke-linecap="square"/>
<line x1="614" y1="377.97" x2="626" y2="377.97" stroke="#ff0000" stroke-width="1.8"/>
<polygon points="622.5,373.37 628.5,377.97 622.5,382.57" fill="#ff0000"/>
<line x1="628" y1="377.97" x2="681" y2="377.97" stroke="#0000ff" stroke-width="2.2"/>
<rect x="628.5" y="376.47" width="3" height="3" fill="#0000ff"/>
<rect x="678" y="376.47" width="3" height="3" fill="#0000ff"/>
<line x1="681" y1="377.97" x2="694" y2="377.97" stroke="#ff0000" stroke-width="1.8"/>
<line x1="694" y1="377.97" x2="707.33" y2="377.97" stroke="#7a0036" stroke-width="1.8" stroke-linecap="square"/>
<path d="M648,368.97 L648,371.47 C648,375.47 651,376.47 654,376.47 C657,376.47 660,375.47 660,371.47 L660,368.97" fill="none" stroke="#0000ff" stroke-width="2"/>
<path d="M648,386.47 L648,383.97 C648,380.97 651,378.97 654,378.97 C657,378.97 660,380.97 660,383.97 L660,386.47" fill="none" stroke="#0000ff" stroke-width="2"/>
<line x1="654" y1="377.97" x2="654" y2="390.97" stroke="#0000ff" stroke-width="1.8"/>
<line x1="654" y1="390.97" x2="654" y2="404.27" stroke="#ff0000" stroke-width="1.8"/>
<line x1="654" y1="404.27" x2="654" y2="417.87" stroke="#7a0036" stroke-width="1.8" stroke-linecap="square"/>
<line x1="707.33" y1="377.97" x2="720.66" y2="377.97" stroke="#7a0036" stroke-width="1.8" stroke-linecap="square"/>
<line x1="720.66" y1="377.97" x2="732.66" y2="377.97" stroke="#ff0000" stroke-width="1.8"/>
<polygon points="729.16,373.37 735.16,377.97 729.16,382.57" fill="#ff0000"/>
<line x1="734.66" y1="377.97" x2="787.66" y2="377.97" stroke="#0000ff" stroke-width="2.2"/>
<rect x="735.16" y="376.47" width="3" height="3" fill="#0000ff"/>
<rect x="784.66" y="376.47" width="3" height="3" fill="#0000ff"/>
<line x1="787.66" y1="377.97" x2="800.66" y2="377.97" stroke="#ff0000" stroke-width="1.8"/>
<line x1="800.66" y1="377.97" x2="814" y2="377.97" stroke="#7a0036" stroke-width="1.8" stroke-linecap="square"/>
<path d="M754.66,368.97 L754.66,371.47 C754.66,375.47 757.66,376.47 760.66,376.47 C763.66,376.47 766.66,375.47 766.66,371.47 L766.66,368.97" fill="none" stroke="#0000ff" stroke-width="2"/>
<path d="M754.66,386.47 L754.66,383.97 C754.66,380.97 757.66,378.97 760.66,378.97 C763.66,378.97 766.66,380.97 766.66,383.97 L766.66,386.47" fill="none" stroke="#0000ff" stroke-width="2"/>
<line x1="760.66" y1="377.97" x2="760.66" y2="390.97" stroke="#0000ff" stroke-width="1.8"/>
<line x1="760.66" y1="390.97" x2="760.66" y2="404.27" stroke="#ff0000" stroke-width="1.8"/>
<line x1="760.66" y1="404.27" x2="760.66" y2="417.87" stroke="#7a0036" stroke-width="1.8" stroke-linecap="square"/>
<line x1="814" y1="377.97" x2="840.67" y2="377.97" stroke="#7a0036" stroke-width="1.8" stroke-linecap="square"/>
<line x1="840.67" y1="377.97" x2="852.67" y2="377.97" stroke="#ff0000" stroke-width="1.8"/>
<polygon points="849.17,373.37 855.17,377.97 849.17,382.57" fill="#ff0000"/>
<line x1="854.67" y1="377.97" x2="907.67" y2="377.97" stroke="#0000ff" stroke-width="2.2"/>
<rect x="855.17" y="376.47" width="3" height="3" fill="#0000ff"/>
<rect x="904.67" y="376.47" width="3" height="3" fill="#0000ff"/>
<line x1="907.67" y1="377.97" x2="920.67" y2="377.97" stroke="#ff0000" stroke-width="1.8"/>
<line x1="920.67" y1="377.97" x2="934" y2="377.97" stroke="#7a0036" stroke-width="1.8" stroke-linecap="square"/>
<path d="M874.67,368.97 L874.67,371.47 C874.67,375.47 877.67,376.47 880.67,376.47 C883.67,376.47 886.67,375.47 886.67,371.47 L886.67,368.97" fill="none" stroke="#0000ff" stroke-width="2"/>
<path d="M874.67,386.47 L874.67,383.97 C874.67,380.97 877.67,378.97 880.67,378.97 C883.67,378.97 886.67,380.97 886.67,383.97 L886.67,386.47" fill="none" stroke="#0000ff" stroke-width="2"/>
<line x1="880.67" y1="377.97" x2="880.67" y2="390.97" stroke="#0000ff" stroke-width="1.8"/>
<line x1="880.67" y1="390.97" x2="880.67" y2="404.27" stroke="#ff0000" stroke-width="1.8"/>
<line x1="880.67" y1="404.27" x2="880.67" y2="417.87" stroke="#7a0036" stroke-width="1.8" stroke-linecap="square"/>
<line x1="934" y1="377.97" x2="947.33" y2="377.97" stroke="#7a0036" stroke-width="1.8" stroke-linecap="square"/>
<line x1="947.33" y1="377.97" x2="959.33" y2="377.97" stroke="#ff0000" stroke-width="1.8"/>
<polygon points="955.83,373.37 961.83,377.97 955.83,382.57" fill="#ff0000"/>
<line x1="961.33" y1="377.97" x2="1014.33" y2="377.97" stroke="#0000ff" stroke-width="2.2"/>
<rect x="961.83" y="376.47" width="3" height="3" fill="#0000ff"/>
<rect x="1011.33" y="376.47" width="3" height="3" fill="#0000ff"/>
<line x1="1014.33" y1="377.97" x2="1027.33" y2="377.97" stroke="#ff0000" stroke-width="1.8"/>
<line x1="1027.33" y1="377.97" x2="1040.67" y2="377.97" stroke="#7a0036" stroke-width="1.8" stroke-linecap="square"/>
<path d="M981.33,368.97 L981.33,371.47 C981.33,375.47 984.33,376.47 987.33,376.47 C990.33,376.47 993.33,375.47 993.33,371.47 L993.33,368.97" fill="none" stroke="#0000ff" stroke-width="2"/>
<path d="M981.33,386.47 L981.33,383.97 C981.33,380.97 984.33,378.97 987.33,378.97 C990.33,378.97 993.33,380.97 993.33,383.97 L993.33,386.47" fill="none" stroke="#0000ff" stroke-width="2"/>
<line x1="987.33" y1="377.97" x2="987.33" y2="390.97" stroke="#0000ff" stroke-width="1.8"/>
<line x1="987.33" y1="390.97" x2="987.33" y2="404.27" stroke="#ff0000" stroke-width="1.8"/>
<line x1="987.33" y1="404.27" x2="987.33" y2="417.87" stroke="#7a0036" stroke-width="1.8" stroke-linecap="square"/>
<line x1="1040.67" y1="377.97" x2="1054" y2="377.97" stroke="#7a0036" stroke-width="1.8" stroke-linecap="square"/>
<line x1="1054" y1="377.97" x2="1066" y2="377.97" stroke="#ff0000" stroke-width="1.8"/>
<polygon points="1062.5,373.37 1068.5,377.97 1062.5,382.57" fill="#ff0000"/>
<line x1="1068" y1="377.97" x2="1121" y2="377.97" stroke="#0000ff" stroke-width="2.2"/>
<rect x="1068.5" y="376.47" width="3" height="3" fill="#0000ff"/>
<rect x="1118" y="376.47" width="3" height="3" fill="#0000ff"/>
<line x1="1121" y1="377.97" x2="1134" y2="377.97" stroke="#ff0000" stroke-width="1.8"/>
<line x1="1134" y1="377.97" x2="1147.33" y2="377.97" stroke="#7a0036" stroke-width="1.8" stroke-linecap="square"/>
<path d="M1088,368.97 L1088,371.47 C1088,375.47 1091,376.47 1094,376.47 C1097,376.47 1100,375.47 1100,371.47 L1100,368.97" fill="none" stroke="#0000ff" stroke-width="2"/>
<path d="M1088,386.47 L1088,383.97 C1088,380.97 1091,378.97 1094,378.97 C1097,378.97 1100,380.97 1100,383.97 L1100,386.47" fill="none" stroke="#0000ff" stroke-width="2"/>
<line x1="1094" y1="377.97" x2="1094" y2="390.97" stroke="#0000ff" stroke-width="1.8"/>
<line x1="1094" y1="390.97" x2="1094" y2="404.27" stroke="#ff0000" stroke-width="1.8"/>
<line x1="1094" y1="404.27" x2="1094" y2="417.87" stroke="#7a0036" stroke-width="1.8" stroke-linecap="square"/>
<line x1="1147.33" y1="377.97" x2="1160.66" y2="377.97" stroke="#7a0036" stroke-width="1.8" stroke-linecap="square"/>
<line x1="1160.66" y1="377.97" x2="1172.66" y2="377.97" stroke="#ff0000" stroke-width="1.8"/>
<polygon points="1169.16,373.37 1175.16,377.97 1169.16,382.57" fill="#ff0000"/>
<line x1="1174.66" y1="377.97" x2="1227.66" y2="377.97" stroke="#0000ff" stroke-width="2.2"/>
<rect x="1175.16" y="376.47" width="3" height="3" fill="#0000ff"/>
<rect x="1224.66" y="376.47" width="3" height="3" fill="#0000ff"/>
<line x1="1227.66" y1="377.97" x2="1240.66" y2="377.97" stroke="#ff0000" stroke-width="1.8"/>
<line x1="1240.66" y1="377.97" x2="1254" y2="377.97" stroke="#7a0036" stroke-width="1.8" stroke-linecap="square"/>
<path d="M1194.66,368.97 L1194.66,371.47 C1194.66,375.47 1197.66,376.47 1200.66,376.47 C1203.66,376.47 1206.66,375.47 1206.66,371.47 L1206.66,368.97" fill="none" stroke="#0000ff" stroke-width="2"/>
<path d="M1194.66,386.47 L1194.66,383.97 C1194.66,380.97 1197.66,378.97 1200.66,378.97 C1203.66,378.97 1206.66,380.97 1206.66,383.97 L1206.66,386.47" fill="none" stroke="#0000ff" stroke-width="2"/>
<line x1="1200.66" y1="377.97" x2="1200.66" y2="390.97" stroke="#0000ff" stroke-width="1.8"/>
<line x1="1200.66" y1="390.97" x2="1200.66" y2="404.27" stroke="#ff0000" stroke-width="1.8"/>
<line x1="1200.66" y1="404.27" x2="1200.66" y2="417.87" stroke="#7a0036" stroke-width="1.8" stroke-linecap="square"/>
<line x1="1254" y1="377.97" x2="1267.33" y2="377.97" stroke="#7a0036" stroke-width="1.8" stroke-linecap="square"/>
<line x1="1267.33" y1="377.97" x2="1279.33" y2="377.97" stroke="#ff0000" stroke-width="1.8"/>
<polygon points="1275.83,373.37 1281.83,377.97 1275.83,382.57" fill="#ff0000"/>
<line x1="1281.33" y1="377.97" x2="1334.33" y2="377.97" stroke="#0000ff" stroke-width="2.2"/>
<rect x="1281.83" y="376.47" width="3" height="3" fill="#0000ff"/>
<rect x="1331.33" y="376.47" width="3" height="3" fill="#0000ff"/>
<line x1="1334.33" y1="377.97" x2="1347.33" y2="377.97" stroke="#ff0000" stroke-width="1.8"/>
<line x1="1347.33" y1="377.97" x2="1360.67" y2="377.97" stroke="#7a0036" stroke-width="1.8" stroke-linecap="square"/>
<path d="M1301.33,368.97 L1301.33,371.47 C1301.33,375.47 1304.33,376.47 1307.33,376.47 C1310.33,376.47 1313.33,375.47 1313.33,371.47 L1313.33,368.97" fill="none" stroke="#0000ff" stroke-width="2"/>
<path d="M1301.33,386.47 L1301.33,383.97 C1301.33,380.97 1304.33,378.97 1307.33,378.97 C1310.33,378.97 1313.33,380.97 1313.33,383.97 L1313.33,386.47" fill="none" stroke="#0000ff" stroke-width="2"/>
<line x1="1307.33" y1="377.97" x2="1307.33" y2="390.97" stroke="#0000ff" stroke-width="1.8"/>
<line x1="1307.33" y1="390.97" x2="1307.33" y2="404.27" stroke="#ff0000" stroke-width="1.8"/>
<line x1="1307.33" y1="404.27" x2="1307.33" y2="417.87" stroke="#7a0036" stroke-width="1.8" stroke-linecap="square"/>
<line x1="547.33" y1="417.87" x2="1347.8" y2="417.87" stroke="#7a0036" stroke-width="1.8" stroke-linecap="square"/>
<rect x="1346.8" y="403.57" width="2" height="28.6" fill="#ff0000"/>
<rect x="1350.8" y="408.07" width="2" height="19.6" fill="#ff0000"/>
<rect x="1354.8" y="411.67" width="2" height="12.4" fill="#ff0000"/>
<rect x="1358.8" y="415.67" width="2" height="4.4" fill="#ff0000"/>
<line x1="400.7" y1="457.9" x2="1360.67" y2="457.9" stroke="#7a0036" stroke-width="1.8" stroke-linecap="square"/>
<line x1="494" y1="457.9" x2="494" y2="511.3" stroke="#7a0036" stroke-width="1.8" stroke-linecap="square"/>
<line x1="600.67" y1="457.9" x2="600.67" y2="511.3" stroke="#7a0036" stroke-width="1.8" stroke-linecap="square"/>
<line x1="707.33" y1="457.9" x2="707.33" y2="511.3" stroke="#7a0036" stroke-width="1.8" stroke-linecap="square"/>
<line x1="814" y1="457.9" x2="814" y2="511.3" stroke="#7a0036" stroke-width="1.8" stroke-linecap="square"/>
<line x1="934" y1="457.9" x2="934" y2="511.3" stroke="#7a0036" stroke-width="1.8" stroke-linecap="square"/>
<line x1="1040.67" y1="457.9" x2="1040.67" y2="511.3" stroke="#7a0036" stroke-width="1.8" stroke-linecap="square"/>
<line x1="1147.33" y1="457.9" x2="1147.33" y2="511.3" stroke="#7a0036" stroke-width="1.8" stroke-linecap="square"/>
<line x1="1254" y1="457.9" x2="1254" y2="511.3" stroke="#7a0036" stroke-width="1.8" stroke-linecap="square"/>
<line x1="1360.67" y1="457.9" x2="1360.67" y2="511.3" stroke="#7a0036" stroke-width="1.8" stroke-linecap="square"/>
<line x1="494" y1="511.3" x2="507.33" y2="511.3" stroke="#7a0036" stroke-width="1.8" stroke-linecap="square"/>
<line x1="507.33" y1="511.3" x2="519.33" y2="511.3" stroke="#ff0000" stroke-width="1.8"/>
<polygon points="515.83,506.7 521.83,511.3 515.83,515.9" fill="#ff0000"/>
<line x1="521.33" y1="511.3" x2="574.33" y2="511.3" stroke="#0000ff" stroke-width="2.2"/>
<rect x="521.83" y="509.8" width="3" height="3" fill="#0000ff"/>
<rect x="571.33" y="509.8" width="3" height="3" fill="#0000ff"/>
<line x1="574.33" y1="511.3" x2="587.33" y2="511.3" stroke="#ff0000" stroke-width="1.8"/>
<line x1="587.33" y1="511.3" x2="600.67" y2="511.3" stroke="#7a0036" stroke-width="1.8" stroke-linecap="square"/>
<path d="M541.33,502.3 L541.33,504.8 C541.33,507.8 544.33,508.8 547.33,508.8 C550.33,508.8 553.33,507.8 553.33,504.8 L553.33,502.3" fill="none" stroke="#0000ff" stroke-width="2"/>
<path d="M541.33,519.8 L541.33,517.3 C541.33,514.3 544.33,512.3 547.33,512.3 C550.33,512.3 553.33,514.3 553.33,517.3 L553.33,519.8" fill="none" stroke="#0000ff" stroke-width="2"/>
<line x1="547.33" y1="511.3" x2="547.33" y2="524.3" stroke="#0000ff" stroke-width="1.8"/>
<line x1="547.33" y1="524.3" x2="547.33" y2="537.6" stroke="#ff0000" stroke-width="1.8"/>
<line x1="547.33" y1="537.6" x2="547.33" y2="551.2" stroke="#7a0036" stroke-width="1.8" stroke-linecap="square"/>
<line x1="600.67" y1="511.3" x2="614" y2="511.3" stroke="#7a0036" stroke-width="1.8" stroke-linecap="square"/>
<line x1="614" y1="511.3" x2="626" y2="511.3" stroke="#ff0000" stroke-width="1.8"/>
<polygon points="622.5,506.7 628.5,511.3 622.5,515.9" fill="#ff0000"/>
<line x1="628" y1="511.3" x2="681" y2="511.3" stroke="#0000ff" stroke-width="2.2"/>
<rect x="628.5" y="509.8" width="3" height="3" fill="#0000ff"/>
<rect x="678" y="509.8" width="3" height="3" fill="#0000ff"/>
<line x1="681" y1="511.3" x2="694" y2="511.3" stroke="#ff0000" stroke-width="1.8"/>
<line x1="694" y1="511.3" x2="707.33" y2="511.3" stroke="#7a0036" stroke-width="1.8" stroke-linecap="square"/>
<path d="M648,502.3 L648,504.8 C648,507.8 651,508.8 654,508.8 C657,508.8 660,507.8 660,504.8 L660,502.3" fill="none" stroke="#0000ff" stroke-width="2"/>
<path d="M648,519.8 L648,517.3 C648,514.3 651,512.3 654,512.3 C657,512.3 660,514.3 660,517.3 L660,519.8" fill="none" stroke="#0000ff" stroke-width="2"/>
<line x1="654" y1="511.3" x2="654" y2="524.3" stroke="#0000ff" stroke-width="1.8"/>
<line x1="654" y1="524.3" x2="654" y2="537.6" stroke="#ff0000" stroke-width="1.8"/>
<line x1="654" y1="537.6" x2="654" y2="551.2" stroke="#7a0036" stroke-width="1.8" stroke-linecap="square"/>
<line x1="707.33" y1="511.3" x2="720.66" y2="511.3" stroke="#7a0036" stroke-width="1.8" stroke-linecap="square"/>
<line x1="720.66" y1="511.3" x2="732.66" y2="511.3" stroke="#ff0000" stroke-width="1.8"/>
<polygon points="729.16,506.7 735.16,511.3 729.16,515.9" fill="#ff0000"/>
<line x1="734.66" y1="511.3" x2="787.66" y2="511.3" stroke="#0000ff" stroke-width="2.2"/>
<rect x="735.16" y="509.8" width="3" height="3" fill="#0000ff"/>
<rect x="784.66" y="509.8" width="3" height="3" fill="#0000ff"/>
<line x1="787.66" y1="511.3" x2="800.66" y2="511.3" stroke="#ff0000" stroke-width="1.8"/>
<line x1="800.66" y1="511.3" x2="814" y2="511.3" stroke="#7a0036" stroke-width="1.8" stroke-linecap="square"/>
<path d="M754.66,502.3 L754.66,504.8 C754.66,507.8 757.66,508.8 760.66,508.8 C763.66,508.8 766.66,507.8 766.66,504.8 L766.66,502.3" fill="none" stroke="#0000ff" stroke-width="2"/>
<path d="M754.66,519.8 L754.66,517.3 C754.66,514.3 757.66,512.3 760.66,512.3 C763.66,512.3 766.66,514.3 766.66,517.3 L766.66,519.8" fill="none" stroke="#0000ff" stroke-width="2"/>
<line x1="760.66" y1="511.3" x2="760.66" y2="524.3" stroke="#0000ff" stroke-width="1.8"/>
<line x1="760.66" y1="524.3" x2="760.66" y2="537.6" stroke="#ff0000" stroke-width="1.8"/>
<line x1="760.66" y1="537.6" x2="760.66" y2="551.2" stroke="#7a0036" stroke-width="1.8" stroke-linecap="square"/>
<line x1="814" y1="511.3" x2="840.67" y2="511.3" stroke="#7a0036" stroke-width="1.8" stroke-linecap="square"/>
<line x1="840.67" y1="511.3" x2="852.67" y2="511.3" stroke="#ff0000" stroke-width="1.8"/>
<polygon points="849.17,506.7 855.17,511.3 849.17,515.9" fill="#ff0000"/>
<line x1="854.67" y1="511.3" x2="907.67" y2="511.3" stroke="#0000ff" stroke-width="2.2"/>
<rect x="855.17" y="509.8" width="3" height="3" fill="#0000ff"/>
<rect x="904.67" y="509.8" width="3" height="3" fill="#0000ff"/>
<line x1="907.67" y1="511.3" x2="920.67" y2="511.3" stroke="#ff0000" stroke-width="1.8"/>
<line x1="920.67" y1="511.3" x2="934" y2="511.3" stroke="#7a0036" stroke-width="1.8" stroke-linecap="square"/>
<path d="M874.67,502.3 L874.67,504.8 C874.67,507.8 877.67,508.8 880.67,508.8 C883.67,508.8 886.67,507.8 886.67,504.8 L886.67,502.3" fill="none" stroke="#0000ff" stroke-width="2"/>
<path d="M874.67,519.8 L874.67,517.3 C874.67,514.3 877.67,512.3 880.67,512.3 C883.67,512.3 886.67,514.3 886.67,517.3 L886.67,519.8" fill="none" stroke="#0000ff" stroke-width="2"/>
<line x1="880.67" y1="511.3" x2="880.67" y2="524.3" stroke="#0000ff" stroke-width="1.8"/>
<line x1="880.67" y1="524.3" x2="880.67" y2="537.6" stroke="#ff0000" stroke-width="1.8"/>
<line x1="880.67" y1="537.6" x2="880.67" y2="551.2" stroke="#7a0036" stroke-width="1.8" stroke-linecap="square"/>
<line x1="934" y1="511.3" x2="947.33" y2="511.3" stroke="#7a0036" stroke-width="1.8" stroke-linecap="square"/>
<line x1="947.33" y1="511.3" x2="959.33" y2="511.3" stroke="#ff0000" stroke-width="1.8"/>
<polygon points="955.83,506.7 961.83,511.3 955.83,515.9" fill="#ff0000"/>
<line x1="961.33" y1="511.3" x2="1014.33" y2="511.3" stroke="#0000ff" stroke-width="2.2"/>
<rect x="961.83" y="509.8" width="3" height="3" fill="#0000ff"/>
<rect x="1011.33" y="509.8" width="3" height="3" fill="#0000ff"/>
<line x1="1014.33" y1="511.3" x2="1027.33" y2="511.3" stroke="#ff0000" stroke-width="1.8"/>
<line x1="1027.33" y1="511.3" x2="1040.67" y2="511.3" stroke="#7a0036" stroke-width="1.8" stroke-linecap="square"/>
<path d="M981.33,502.3 L981.33,504.8 C981.33,507.8 984.33,508.8 987.33,508.8 C990.33,508.8 993.33,507.8 993.33,504.8 L993.33,502.3" fill="none" stroke="#0000ff" stroke-width="2"/>
<path d="M981.33,519.8 L981.33,517.3 C981.33,514.3 984.33,512.3 987.33,512.3 C990.33,512.3 993.33,514.3 993.33,517.3 L993.33,519.8" fill="none" stroke="#0000ff" stroke-width="2"/>
<line x1="987.33" y1="511.3" x2="987.33" y2="524.3" stroke="#0000ff" stroke-width="1.8"/>
<line x1="987.33" y1="524.3" x2="987.33" y2="537.6" stroke="#ff0000" stroke-width="1.8"/>
<line x1="987.33" y1="537.6" x2="987.33" y2="551.2" stroke="#7a0036" stroke-width="1.8" stroke-linecap="square"/>
<line x1="1040.67" y1="511.3" x2="1054" y2="511.3" stroke="#7a0036" stroke-width="1.8" stroke-linecap="square"/>
<line x1="1054" y1="511.3" x2="1066" y2="511.3" stroke="#ff0000" stroke-width="1.8"/>
<polygon points="1062.5,506.7 1068.5,511.3 1062.5,515.9" fill="#ff0000"/>
<line x1="1068" y1="511.3" x2="1121" y2="511.3" stroke="#0000ff" stroke-width="2.2"/>
<rect x="1068.5" y="509.8" width="3" height="3" fill="#0000ff"/>
<rect x="1118" y="509.8" width="3" height="3" fill="#0000ff"/>
<line x1="1121" y1="511.3" x2="1134" y2="511.3" stroke="#ff0000" stroke-width="1.8"/>
<line x1="1134" y1="511.3" x2="1147.33" y2="511.3" stroke="#7a0036" stroke-width="1.8" stroke-linecap="square"/>
<path d="M1088,502.3 L1088,504.8 C1088,507.8 1091,508.8 1094,508.8 C1097,508.8 1100,507.8 1100,504.8 L1100,502.3" fill="none" stroke="#0000ff" stroke-width="2"/>
<path d="M1088,519.8 L1088,517.3 C1088,514.3 1091,512.3 1094,512.3 C1097,512.3 1100,514.3 1100,517.3 L1100,519.8" fill="none" stroke="#0000ff" stroke-width="2"/>
<line x1="1094" y1="511.3" x2="1094" y2="524.3" stroke="#0000ff" stroke-width="1.8"/>
<line x1="1094" y1="524.3" x2="1094" y2="537.6" stroke="#ff0000" stroke-width="1.8"/>
<line x1="1094" y1="537.6" x2="1094" y2="551.2" stroke="#7a0036" stroke-width="1.8" stroke-linecap="square"/>
<line x1="1147.33" y1="511.3" x2="1160.66" y2="511.3" stroke="#7a0036" stroke-width="1.8" stroke-linecap="square"/>
<line x1="1160.66" y1="511.3" x2="1172.66" y2="511.3" stroke="#ff0000" stroke-width="1.8"/>
<polygon points="1169.16,506.7 1175.16,511.3 1169.16,515.9" fill="#ff0000"/>
<line x1="1174.66" y1="511.3" x2="1227.66" y2="511.3" stroke="#0000ff" stroke-width="2.2"/>
<rect x="1175.16" y="509.8" width="3" height="3" fill="#0000ff"/>
<rect x="1224.66" y="509.8" width="3" height="3" fill="#0000ff"/>
<line x1="1227.66" y1="511.3" x2="1240.66" y2="511.3" stroke="#ff0000" stroke-width="1.8"/>
<line x1="1240.66" y1="511.3" x2="1254" y2="511.3" stroke="#7a0036" stroke-width="1.8" stroke-linecap="square"/>
<path d="M1194.66,502.3 L1194.66,504.8 C1194.66,507.8 1197.66,508.8 1200.66,508.8 C1203.66,508.8 1206.66,507.8 1206.66,504.8 L1206.66,502.3" fill="none" stroke="#0000ff" stroke-width="2"/>
<path d="M1194.66,519.8 L1194.66,517.3 C1194.66,514.3 1197.66,512.3 1200.66,512.3 C1203.66,512.3 1206.66,514.3 1206.66,517.3 L1206.66,519.8" fill="none" stroke="#0000ff" stroke-width="2"/>
<line x1="1200.66" y1="511.3" x2="1200.66" y2="524.3" stroke="#0000ff" stroke-width="1.8"/>
<line x1="1200.66" y1="524.3" x2="1200.66" y2="537.6" stroke="#ff0000" stroke-width="1.8"/>
<line x1="1200.66" y1="537.6" x2="1200.66" y2="551.2" stroke="#7a0036" stroke-width="1.8" stroke-linecap="square"/>
<line x1="1254" y1="511.3" x2="1267.33" y2="511.3" stroke="#7a0036" stroke-width="1.8" stroke-linecap="square"/>
<line x1="1267.33" y1="511.3" x2="1279.33" y2="511.3" stroke="#ff0000" stroke-width="1.8"/>
<polygon points="1275.83,506.7 1281.83,511.3 1275.83,515.9" fill="#ff0000"/>
<line x1="1281.33" y1="511.3" x2="1334.33" y2="511.3" stroke="#0000ff" stroke-width="2.2"/>
<rect x="1281.83" y="509.8" width="3" height="3" fill="#0000ff"/>
<rect x="1331.33" y="509.8" width="3" height="3" fill="#0000ff"/>
<line x1="1334.33" y1="511.3" x2="1347.33" y2="511.3" stroke="#ff0000" stroke-width="1.8"/>
<line x1="1347.33" y1="511.3" x2="1360.67" y2="511.3" stroke="#7a0036" stroke-width="1.8" stroke-linecap="square"/>
<path d="M1301.33,502.3 L1301.33,504.8 C1301.33,507.8 1304.33,508.8 1307.33,508.8 C1310.33,508.8 1313.33,507.8 1313.33,504.8 L1313.33,502.3" fill="none" stroke="#0000ff" stroke-width="2"/>
<path d="M1301.33,519.8 L1301.33,517.3 C1301.33,514.3 1304.33,512.3 1307.33,512.3 C1310.33,512.3 1313.33,514.3 1313.33,517.3 L1313.33,519.8" fill="none" stroke="#0000ff" stroke-width="2"/>
<line x1="1307.33" y1="511.3" x2="1307.33" y2="524.3" stroke="#0000ff" stroke-width="1.8"/>
<line x1="1307.33" y1="524.3" x2="1307.33" y2="537.6" stroke="#ff0000" stroke-width="1.8"/>
<line x1="1307.33" y1="537.6" x2="1307.33" y2="551.2" stroke="#7a0036" stroke-width="1.8" stroke-linecap="square"/>
<line x1="547.33" y1="551.2" x2="1347.8" y2="551.2" stroke="#7a0036" stroke-width="1.8" stroke-linecap="square"/>
<rect x="1346.8" y="536.9" width="2" height="28.6" fill="#ff0000"/>
<rect x="1350.8" y="541.4" width="2" height="19.6" fill="#ff0000"/>
<rect x="1354.8" y="545" width="2" height="12.4" fill="#ff0000"/>
<rect x="1358.8" y="549" width="2" height="4.4" fill="#ff0000"/>
<line x1="400.7" y1="591.23" x2="1360.67" y2="591.23" stroke="#7a0036" stroke-width="1.8" stroke-linecap="square"/>
<line x1="494" y1="591.23" x2="494" y2="644.63" stroke="#7a0036" stroke-width="1.8" stroke-linecap="square"/>
<line x1="600.67" y1="591.23" x2="600.67" y2="644.63" stroke="#7a0036" stroke-width="1.8" stroke-linecap="square"/>
<line x1="707.33" y1="591.23" x2="707.33" y2="644.63" stroke="#7a0036" stroke-width="1.8" stroke-linecap="square"/>
<line x1="814" y1="591.23" x2="814" y2="644.63" stroke="#7a0036" stroke-width="1.8" stroke-linecap="square"/>
<line x1="934" y1="591.23" x2="934" y2="644.63" stroke="#7a0036" stroke-width="1.8" stroke-linecap="square"/>
<line x1="1040.67" y1="591.23" x2="1040.67" y2="644.63" stroke="#7a0036" stroke-width="1.8" stroke-linecap="square"/>
<line x1="1147.33" y1="591.23" x2="1147.33" y2="644.63" stroke="#7a0036" stroke-width="1.8" stroke-linecap="square"/>
<line x1="1254" y1="591.23" x2="1254" y2="644.63" stroke="#7a0036" stroke-width="1.8" stroke-linecap="square"/>
<line x1="1360.67" y1="591.23" x2="1360.67" y2="644.63" stroke="#7a0036" stroke-width="1.8" stroke-linecap="square"/>
<line x1="494" y1="644.63" x2="507.33" y2="644.63" stroke="#7a0036" stroke-width="1.8" stroke-linecap="square"/>
<line x1="507.33" y1="644.63" x2="519.33" y2="644.63" stroke="#ff0000" stroke-width="1.8"/>
<polygon points="515.83,640.03 521.83,644.63 515.83,649.23" fill="#ff0000"/>
<line x1="521.33" y1="644.63" x2="574.33" y2="644.63" stroke="#0000ff" stroke-width="2.2"/>
<rect x="521.83" y="643.13" width="3" height="3" fill="#0000ff"/>
<rect x="571.33" y="643.13" width="3" height="3" fill="#0000ff"/>
<line x1="574.33" y1="644.63" x2="587.33" y2="644.63" stroke="#ff0000" stroke-width="1.8"/>
<line x1="587.33" y1="644.63" x2="600.67" y2="644.63" stroke="#7a0036" stroke-width="1.8" stroke-linecap="square"/>
<path d="M541.33,635.63 L541.33,638.13 C541.33,642.13 544.33,643.13 547.33,643.13 C550.33,643.13 553.33,642.13 553.33,638.13 L553.33,635.63" fill="none" stroke="#0000ff" stroke-width="2"/>
<path d="M541.33,653.13 L541.33,650.63 C541.33,647.63 544.33,645.63 547.33,645.63 C550.33,645.63 553.33,647.63 553.33,650.63 L553.33,653.13" fill="none" stroke="#0000ff" stroke-width="2"/>
<line x1="547.33" y1="644.63" x2="547.33" y2="657.63" stroke="#0000ff" stroke-width="1.8"/>
<line x1="547.33" y1="657.63" x2="547.33" y2="670.93" stroke="#ff0000" stroke-width="1.8"/>
<line x1="547.33" y1="670.93" x2="547.33" y2="684.53" stroke="#7a0036" stroke-width="1.8" stroke-linecap="square"/>
<line x1="600.67" y1="644.63" x2="614" y2="644.63" stroke="#7a0036" stroke-width="1.8" stroke-linecap="square"/>
<line x1="614" y1="644.63" x2="626" y2="644.63" stroke="#ff0000" stroke-width="1.8"/>
<polygon points="622.5,640.03 628.5,644.63 622.5,649.23" fill="#ff0000"/>
<line x1="628" y1="644.63" x2="681" y2="644.63" stroke="#0000ff" stroke-width="2.2"/>
<rect x="628.5" y="643.13" width="3" height="3" fill="#0000ff"/>
<rect x="678" y="643.13" width="3" height="3" fill="#0000ff"/>
<line x1="681" y1="644.63" x2="694" y2="644.63" stroke="#ff0000" stroke-width="1.8"/>
<line x1="694" y1="644.63" x2="707.33" y2="644.63" stroke="#7a0036" stroke-width="1.8" stroke-linecap="square"/>
<path d="M648,635.63 L648,638.13 C648,642.13 651,643.13 654,643.13 C657,643.13 660,642.13 660,638.13 L660,635.63" fill="none" stroke="#0000ff" stroke-width="2"/>
<path d="M648,653.13 L648,650.63 C648,647.63 651,645.63 654,645.63 C657,645.63 660,647.63 660,650.63 L660,653.13" fill="none" stroke="#0000ff" stroke-width="2"/>
<line x1="654" y1="644.63" x2="654" y2="657.63" stroke="#0000ff" stroke-width="1.8"/>
<line x1="654" y1="657.63" x2="654" y2="670.93" stroke="#ff0000" stroke-width="1.8"/>
<line x1="654" y1="670.93" x2="654" y2="684.53" stroke="#7a0036" stroke-width="1.8" stroke-linecap="square"/>
<line x1="707.33" y1="644.63" x2="720.66" y2="644.63" stroke="#7a0036" stroke-width="1.8" stroke-linecap="square"/>
<line x1="720.66" y1="644.63" x2="732.66" y2="644.63" stroke="#ff0000" stroke-width="1.8"/>
<polygon points="729.16,640.03 735.16,644.63 729.16,649.23" fill="#ff0000"/>
<line x1="734.66" y1="644.63" x2="787.66" y2="644.63" stroke="#0000ff" stroke-width="2.2"/>
<rect x="735.16" y="643.13" width="3" height="3" fill="#0000ff"/>
<rect x="784.66" y="643.13" width="3" height="3" fill="#0000ff"/>
<line x1="787.66" y1="644.63" x2="800.66" y2="644.63" stroke="#ff0000" stroke-width="1.8"/>
<line x1="800.66" y1="644.63" x2="814" y2="644.63" stroke="#7a0036" stroke-width="1.8" stroke-linecap="square"/>
<path d="M754.66,635.63 L754.66,638.13 C754.66,642.13 757.66,643.13 760.66,643.13 C763.66,643.13 766.66,642.13 766.66,638.13 L766.66,635.63" fill="none" stroke="#0000ff" stroke-width="2"/>
<path d="M754.66,653.13 L754.66,650.63 C754.66,647.63 757.66,645.63 760.66,645.63 C763.66,645.63 766.66,647.63 766.66,650.63 L766.66,653.13" fill="none" stroke="#0000ff" stroke-width="2"/>
<line x1="760.66" y1="644.63" x2="760.66" y2="657.63" stroke="#0000ff" stroke-width="1.8"/>
<line x1="760.66" y1="657.63" x2="760.66" y2="670.93" stroke="#ff0000" stroke-width="1.8"/>
<line x1="760.66" y1="670.93" x2="760.66" y2="684.53" stroke="#7a0036" stroke-width="1.8" stroke-linecap="square"/>
<line x1="814" y1="644.63" x2="840.67" y2="644.63" stroke="#7a0036" stroke-width="1.8" stroke-linecap="square"/>
<line x1="840.67" y1="644.63" x2="852.67" y2="644.63" stroke="#ff0000" stroke-width="1.8"/>
<polygon points="849.17,640.03 855.17,644.63 849.17,649.23" fill="#ff0000"/>
<line x1="854.67" y1="644.63" x2="907.67" y2="644.63" stroke="#0000ff" stroke-width="2.2"/>
<rect x="855.17" y="643.13" width="3" height="3" fill="#0000ff"/>
<rect x="904.67" y="643.13" width="3" height="3" fill="#0000ff"/>
<line x1="907.67" y1="644.63" x2="920.67" y2="644.63" stroke="#ff0000" stroke-width="1.8"/>
<line x1="920.67" y1="644.63" x2="934" y2="644.63" stroke="#7a0036" stroke-width="1.8" stroke-linecap="square"/>
<path d="M874.67,635.63 L874.67,638.13 C874.67,642.13 877.67,643.13 880.67,643.13 C883.67,643.13 886.67,642.13 886.67,638.13 L886.67,635.63" fill="none" stroke="#0000ff" stroke-width="2"/>
<path d="M874.67,653.13 L874.67,650.63 C874.67,647.63 877.67,645.63 880.67,645.63 C883.67,645.63 886.67,647.63 886.67,650.63 L886.67,653.13" fill="none" stroke="#0000ff" stroke-width="2"/>
<line x1="880.67" y1="644.63" x2="880.67" y2="657.63" stroke="#0000ff" stroke-width="1.8"/>
<line x1="880.67" y1="657.63" x2="880.67" y2="670.93" stroke="#ff0000" stroke-width="1.8"/>
<line x1="880.67" y1="670.93" x2="880.67" y2="684.53" stroke="#7a0036" stroke-width="1.8" stroke-linecap="square"/>
<line x1="934" y1="644.63" x2="947.33" y2="644.63" stroke="#7a0036" stroke-width="1.8" stroke-linecap="square"/>
<line x1="947.33" y1="644.63" x2="959.33" y2="644.63" stroke="#ff0000" stroke-width="1.8"/>
<polygon points="955.83,640.03 961.83,644.63 955.83,649.23" fill="#ff0000"/>
<line x1="961.33" y1="644.63" x2="1014.33" y2="644.63" stroke="#0000ff" stroke-width="2.2"/>
<rect x="961.83" y="643.13" width="3" height="3" fill="#0000ff"/>
<rect x="1011.33" y="643.13" width="3" height="3" fill="#0000ff"/>
<line x1="1014.33" y1="644.63" x2="1027.33" y2="644.63" stroke="#ff0000" stroke-width="1.8"/>
<line x1="1027.33" y1="644.63" x2="1040.67" y2="644.63" stroke="#7a0036" stroke-width="1.8" stroke-linecap="square"/>
<path d="M981.33,635.63 L981.33,638.13 C981.33,642.13 984.33,643.13 987.33,643.13 C990.33,643.13 993.33,642.13 993.33,638.13 L993.33,635.63" fill="none" stroke="#0000ff" stroke-width="2"/>
<path d="M981.33,653.13 L981.33,650.63 C981.33,647.63 984.33,645.63 987.33,645.63 C990.33,645.63 993.33,647.63 993.33,650.63 L993.33,653.13" fill="none" stroke="#0000ff" stroke-width="2"/>
<line x1="987.33" y1="644.63" x2="987.33" y2="657.63" stroke="#0000ff" stroke-width="1.8"/>
<line x1="987.33" y1="657.63" x2="987.33" y2="670.93" stroke="#ff0000" stroke-width="1.8"/>
<line x1="987.33" y1="670.93" x2="987.33" y2="684.53" stroke="#7a0036" stroke-width="1.8" stroke-linecap="square"/>
<line x1="1040.67" y1="644.63" x2="1054" y2="644.63" stroke="#7a0036" stroke-width="1.8" stroke-linecap="square"/>
<line x1="1054" y1="644.63" x2="1066" y2="644.63" stroke="#ff0000" stroke-width="1.8"/>
<polygon points="1062.5,640.03 1068.5,644.63 1062.5,649.23" fill="#ff0000"/>
<line x1="1068" y1="644.63" x2="1121" y2="644.63" stroke="#0000ff" stroke-width="2.2"/>
<rect x="1068.5" y="643.13" width="3" height="3" fill="#0000ff"/>
<rect x="1118" y="643.13" width="3" height="3" fill="#0000ff"/>
<line x1="1121" y1="644.63" x2="1134" y2="644.63" stroke="#ff0000" stroke-width="1.8"/>
<line x1="1134" y1="644.63" x2="1147.33" y2="644.63" stroke="#7a0036" stroke-width="1.8" stroke-linecap="square"/>
<path d="M1088,635.63 L1088,638.13 C1088,642.13 1091,643.13 1094,643.13 C1097,643.13 1100,642.13 1100,638.13 L1100,635.63" fill="none" stroke="#0000ff" stroke-width="2"/>
<path d="M1088,653.13 L1088,650.63 C1088,647.63 1091,645.63 1094,645.63 C1097,645.63 1100,647.63 1100,650.63 L1100,653.13" fill="none" stroke="#0000ff" stroke-width="2"/>
<line x1="1094" y1="644.63" x2="1094" y2="657.63" stroke="#0000ff" stroke-width="1.8"/>
<line x1="1094" y1="657.63" x2="1094" y2="670.93" stroke="#ff0000" stroke-width="1.8"/>
<line x1="1094" y1="670.93" x2="1094" y2="684.53" stroke="#7a0036" stroke-width="1.8" stroke-linecap="square"/>
<line x1="1147.33" y1="644.63" x2="1160.66" y2="644.63" stroke="#7a0036" stroke-width="1.8" stroke-linecap="square"/>
<line x1="1160.66" y1="644.63" x2="1172.66" y2="644.63" stroke="#ff0000" stroke-width="1.8"/>
<polygon points="1169.16,640.03 1175.16,644.63 1169.16,649.23" fill="#ff0000"/>
<line x1="1174.66" y1="644.63" x2="1227.66" y2="644.63" stroke="#0000ff" stroke-width="2.2"/>
<rect x="1175.16" y="643.13" width="3" height="3" fill="#0000ff"/>
<rect x="1224.66" y="643.13" width="3" height="3" fill="#0000ff"/>
<line x1="1227.66" y1="644.63" x2="1240.66" y2="644.63" stroke="#ff0000" stroke-width="1.8"/>
<line x1="1240.66" y1="644.63" x2="1254" y2="644.63" stroke="#7a0036" stroke-width="1.8" stroke-linecap="square"/>
<path d="M1194.66,635.63 L1194.66,638.13 C1194.66,642.13 1197.66,643.13 1200.66,643.13 C1203.66,643.13 1206.66,642.13 1206.66,638.13 L1206.66,635.63" fill="none" stroke="#0000ff" stroke-width="2"/>
<path d="M1194.66,653.13 L1194.66,650.63 C1194.66,647.63 1197.66,645.63 1200.66,645.63 C1203.66,645.63 1206.66,647.63 1206.66,650.63 L1206.66,653.13" fill="none" stroke="#0000ff" stroke-width="2"/>
<line x1="1200.66" y1="644.63" x2="1200.66" y2="657.63" stroke="#0000ff" stroke-width="1.8"/>
<line x1="1200.66" y1="657.63" x2="1200.66" y2="670.93" stroke="#ff0000" stroke-width="1.8"/>
<line x1="1200.66" y1="670.93" x2="1200.66" y2="684.53" stroke="#7a0036" stroke-width="1.8" stroke-linecap="square"/>
<line x1="1254" y1="644.63" x2="1267.33" y2="644.63" stroke="#7a0036" stroke-width="1.8" stroke-linecap="square"/>
<line x1="1267.33" y1="644.63" x2="1279.33" y2="644.63" stroke="#ff0000" stroke-width="1.8"/>
<polygon points="1275.83,640.03 1281.83,644.63 1275.83,649.23" fill="#ff0000"/>
<line x1="1281.33" y1="644.63" x2="1334.33" y2="644.63" stroke="#0000ff" stroke-width="2.2"/>
<rect x="1281.83" y="643.13" width="3" height="3" fill="#0000ff"/>
<rect x="1331.33" y="643.13" width="3" height="3" fill="#0000ff"/>
<line x1="1334.33" y1="644.63" x2="1347.33" y2="644.63" stroke="#ff0000" stroke-width="1.8"/>
<line x1="1347.33" y1="644.63" x2="1360.67" y2="644.63" stroke="#7a0036" stroke-width="1.8" stroke-linecap="square"/>
<path d="M1301.33,635.63 L1301.33,638.13 C1301.33,642.13 1304.33,643.13 1307.33,643.13 C1310.33,643.13 1313.33,642.13 1313.33,638.13 L1313.33,635.63" fill="none" stroke="#0000ff" stroke-width="2"/>
<path d="M1301.33,653.13 L1301.33,650.63 C1301.33,647.63 1304.33,645.63 1307.33,645.63 C1310.33,645.63 1313.33,647.63 1313.33,650.63 L1313.33,653.13" fill="none" stroke="#0000ff" stroke-width="2"/>
<line x1="1307.33" y1="644.63" x2="1307.33" y2="657.63" stroke="#0000ff" stroke-width="1.8"/>
<line x1="1307.33" y1="657.63" x2="1307.33" y2="670.93" stroke="#ff0000" stroke-width="1.8"/>
<line x1="1307.33" y1="670.93" x2="1307.33" y2="684.53" stroke="#7a0036" stroke-width="1.8" stroke-linecap="square"/>
<line x1="547.33" y1="684.53" x2="1347.8" y2="684.53" stroke="#7a0036" stroke-width="1.8" stroke-linecap="square"/>
<rect x="1346.8" y="670.23" width="2" height="28.6" fill="#ff0000"/>
<rect x="1350.8" y="674.73" width="2" height="19.6" fill="#ff0000"/>
<rect x="1354.8" y="678.33" width="2" height="12.4" fill="#ff0000"/>
<rect x="1358.8" y="682.33" width="2" height="4.4" fill="#ff0000"/>
<line x1="400.7" y1="724.56" x2="1360.67" y2="724.56" stroke="#7a0036" stroke-width="1.8" stroke-linecap="square"/>
<line x1="494" y1="724.56" x2="494" y2="777.96" stroke="#7a0036" stroke-width="1.8" stroke-linecap="square"/>
<line x1="600.67" y1="724.56" x2="600.67" y2="777.96" stroke="#7a0036" stroke-width="1.8" stroke-linecap="square"/>
<line x1="707.33" y1="724.56" x2="707.33" y2="777.96" stroke="#7a0036" stroke-width="1.8" stroke-linecap="square"/>
<line x1="814" y1="724.56" x2="814" y2="777.96" stroke="#7a0036" stroke-width="1.8" stroke-linecap="square"/>
<line x1="934" y1="724.56" x2="934" y2="777.96" stroke="#7a0036" stroke-width="1.8" stroke-linecap="square"/>
<line x1="1040.67" y1="724.56" x2="1040.67" y2="777.96" stroke="#7a0036" stroke-width="1.8" stroke-linecap="square"/>
<line x1="1147.33" y1="724.56" x2="1147.33" y2="777.96" stroke="#7a0036" stroke-width="1.8" stroke-linecap="square"/>
<line x1="1254" y1="724.56" x2="1254" y2="777.96" stroke="#7a0036" stroke-width="1.8" stroke-linecap="square"/>
<line x1="1360.67" y1="724.56" x2="1360.67" y2="777.96" stroke="#7a0036" stroke-width="1.8" stroke-linecap="square"/>
<line x1="494" y1="777.96" x2="507.33" y2="777.96" stroke="#7a0036" stroke-width="1.8" stroke-linecap="square"/>
<line x1="507.33" y1="777.96" x2="519.33" y2="777.96" stroke="#ff0000" stroke-width="1.8"/>
<polygon points="515.83,773.36 521.83,777.96 515.83,782.56" fill="#ff0000"/>
<line x1="521.33" y1="777.96" x2="574.33" y2="777.96" stroke="#0000ff" stroke-width="2.2"/>
<rect x="521.83" y="776.46" width="3" height="3" fill="#0000ff"/>
<rect x="571.33" y="776.46" width="3" height="3" fill="#0000ff"/>
<line x1="574.33" y1="777.96" x2="587.33" y2="777.96" stroke="#ff0000" stroke-width="1.8"/>
<line x1="587.33" y1="777.96" x2="600.67" y2="777.96" stroke="#7a0036" stroke-width="1.8" stroke-linecap="square"/>
<path d="M541.33,768.96 L541.33,771.46 C541.33,774.46 544.33,775.46 547.33,775.46 C550.33,775.46 553.33,774.46 553.33,771.46 L553.33,768.96" fill="none" stroke="#0000ff" stroke-width="2"/>
<path d="M541.33,786.46 L541.33,783.96 C541.33,780.96 544.33,778.96 547.33,778.96 C550.33,778.96 553.33,780.96 553.33,783.96 L553.33,786.46" fill="none" stroke="#0000ff" stroke-width="2"/>
<line x1="547.33" y1="777.96" x2="547.33" y2="790.96" stroke="#0000ff" stroke-width="1.8"/>
<line x1="547.33" y1="790.96" x2="547.33" y2="804.26" stroke="#ff0000" stroke-width="1.8"/>
<line x1="547.33" y1="804.26" x2="547.33" y2="817.86" stroke="#7a0036" stroke-width="1.8" stroke-linecap="square"/>
<line x1="600.67" y1="777.96" x2="614" y2="777.96" stroke="#7a0036" stroke-width="1.8" stroke-linecap="square"/>
<line x1="614" y1="777.96" x2="626" y2="777.96" stroke="#ff0000" stroke-width="1.8"/>
<polygon points="622.5,773.36 628.5,777.96 622.5,782.56" fill="#ff0000"/>
<line x1="628" y1="777.96" x2="681" y2="777.96" stroke="#0000ff" stroke-width="2.2"/>
<rect x="628.5" y="776.46" width="3" height="3" fill="#0000ff"/>
<rect x="678" y="776.46" width="3" height="3" fill="#0000ff"/>
<line x1="681" y1="777.96" x2="694" y2="777.96" stroke="#ff0000" stroke-width="1.8"/>
<line x1="694" y1="777.96" x2="707.33" y2="777.96" stroke="#7a0036" stroke-width="1.8" stroke-linecap="square"/>
<path d="M648,768.96 L648,771.46 C648,774.46 651,775.46 654,775.46 C657,775.46 660,774.46 660,771.46 L660,768.96" fill="none" stroke="#0000ff" stroke-width="2"/>
<path d="M648,786.46 L648,783.96 C648,780.96 651,778.96 654,778.96 C657,778.96 660,780.96 660,783.96 L660,786.46" fill="none" stroke="#0000ff" stroke-width="2"/>
<line x1="654" y1="777.96" x2="654" y2="790.96" stroke="#0000ff" stroke-width="1.8"/>
<line x1="654" y1="790.96" x2="654" y2="804.26" stroke="#ff0000" stroke-width="1.8"/>
<line x1="654" y1="804.26" x2="654" y2="817.86" stroke="#7a0036" stroke-width="1.8" stroke-linecap="square"/>
<line x1="707.33" y1="777.96" x2="720.66" y2="777.96" stroke="#7a0036" stroke-width="1.8" stroke-linecap="square"/>
<line x1="720.66" y1="777.96" x2="732.66" y2="777.96" stroke="#ff0000" stroke-width="1.8"/>
<polygon points="729.16,773.36 735.16,777.96 729.16,782.56" fill="#ff0000"/>
<line x1="734.66" y1="777.96" x2="787.66" y2="777.96" stroke="#0000ff" stroke-width="2.2"/>
<rect x="735.16" y="776.46" width="3" height="3" fill="#0000ff"/>
<rect x="784.66" y="776.46" width="3" height="3" fill="#0000ff"/>
<line x1="787.66" y1="777.96" x2="800.66" y2="777.96" stroke="#ff0000" stroke-width="1.8"/>
<line x1="800.66" y1="777.96" x2="814" y2="777.96" stroke="#7a0036" stroke-width="1.8" stroke-linecap="square"/>
<path d="M754.66,768.96 L754.66,771.46 C754.66,774.46 757.66,775.46 760.66,775.46 C763.66,775.46 766.66,774.46 766.66,771.46 L766.66,768.96" fill="none" stroke="#0000ff" stroke-width="2"/>
<path d="M754.66,786.46 L754.66,783.96 C754.66,780.96 757.66,778.96 760.66,778.96 C763.66,778.96 766.66,780.96 766.66,783.96 L766.66,786.46" fill="none" stroke="#0000ff" stroke-width="2"/>
<line x1="760.66" y1="777.96" x2="760.66" y2="790.96" stroke="#0000ff" stroke-width="1.8"/>
<line x1="760.66" y1="790.96" x2="760.66" y2="804.26" stroke="#ff0000" stroke-width="1.8"/>
<line x1="760.66" y1="804.26" x2="760.66" y2="817.86" stroke="#7a0036" stroke-width="1.8" stroke-linecap="square"/>
<line x1="814" y1="777.96" x2="840.67" y2="777.96" stroke="#7a0036" stroke-width="1.8" stroke-linecap="square"/>
<line x1="840.67" y1="777.96" x2="852.67" y2="777.96" stroke="#ff0000" stroke-width="1.8"/>
<polygon points="849.17,773.36 855.17,777.96 849.17,782.56" fill="#ff0000"/>
<line x1="854.67" y1="777.96" x2="907.67" y2="777.96" stroke="#0000ff" stroke-width="2.2"/>
<rect x="855.17" y="776.46" width="3" height="3" fill="#0000ff"/>
<rect x="904.67" y="776.46" width="3" height="3" fill="#0000ff"/>
<line x1="907.67" y1="777.96" x2="920.67" y2="777.96" stroke="#ff0000" stroke-width="1.8"/>
<line x1="920.67" y1="777.96" x2="934" y2="777.96" stroke="#7a0036" stroke-width="1.8" stroke-linecap="square"/>
<path d="M874.67,768.96 L874.67,771.46 C874.67,774.46 877.67,775.46 880.67,775.46 C883.67,775.46 886.67,774.46 886.67,771.46 L886.67,768.96" fill="none" stroke="#0000ff" stroke-width="2"/>
<path d="M874.67,786.46 L874.67,783.96 C874.67,780.96 877.67,778.96 880.67,778.96 C883.67,778.96 886.67,780.96 886.67,783.96 L886.67,786.46" fill="none" stroke="#0000ff" stroke-width="2"/>
<line x1="880.67" y1="777.96" x2="880.67" y2="790.96" stroke="#0000ff" stroke-width="1.8"/>
<line x1="880.67" y1="790.96" x2="880.67" y2="804.26" stroke="#ff0000" stroke-width="1.8"/>
<line x1="880.67" y1="804.26" x2="880.67" y2="817.86" stroke="#7a0036" stroke-width="1.8" stroke-linecap="square"/>
<line x1="934" y1="777.96" x2="947.33" y2="777.96" stroke="#7a0036" stroke-width="1.8" stroke-linecap="square"/>
<line x1="947.33" y1="777.96" x2="959.33" y2="777.96" stroke="#ff0000" stroke-width="1.8"/>
<polygon points="955.83,773.36 961.83,777.96 955.83,782.56" fill="#ff0000"/>
<line x1="961.33" y1="777.96" x2="1014.33" y2="777.96" stroke="#0000ff" stroke-width="2.2"/>
<rect x="961.83" y="776.46" width="3" height="3" fill="#0000ff"/>
<rect x="1011.33" y="776.46" width="3" height="3" fill="#0000ff"/>
<line x1="1014.33" y1="777.96" x2="1027.33" y2="777.96" stroke="#ff0000" stroke-width="1.8"/>
<line x1="1027.33" y1="777.96" x2="1040.67" y2="777.96" stroke="#7a0036" stroke-width="1.8" stroke-linecap="square"/>
<path d="M981.33,768.96 L981.33,771.46 C981.33,774.46 984.33,775.46 987.33,775.46 C990.33,775.46 993.33,774.46 993.33,771.46 L993.33,768.96" fill="none" stroke="#0000ff" stroke-width="2"/>
<path d="M981.33,786.46 L981.33,783.96 C981.33,780.96 984.33,778.96 987.33,778.96 C990.33,778.96 993.33,780.96 993.33,783.96 L993.33,786.46" fill="none" stroke="#0000ff" stroke-width="2"/>
<line x1="987.33" y1="777.96" x2="987.33" y2="790.96" stroke="#0000ff" stroke-width="1.8"/>
<line x1="987.33" y1="790.96" x2="987.33" y2="804.26" stroke="#ff0000" stroke-width="1.8"/>
<line x1="987.33" y1="804.26" x2="987.33" y2="817.86" stroke="#7a0036" stroke-width="1.8" stroke-linecap="square"/>
<line x1="1040.67" y1="777.96" x2="1054" y2="777.96" stroke="#7a0036" stroke-width="1.8" stroke-linecap="square"/>
<line x1="1054" y1="777.96" x2="1066" y2="777.96" stroke="#ff0000" stroke-width="1.8"/>
<polygon points="1062.5,773.36 1068.5,777.96 1062.5,782.56" fill="#ff0000"/>
<line x1="1068" y1="777.96" x2="1121" y2="777.96" stroke="#0000ff" stroke-width="2.2"/>
<rect x="1068.5" y="776.46" width="3" height="3" fill="#0000ff"/>
<rect x="1118" y="776.46" width="3" height="3" fill="#0000ff"/>
<line x1="1121" y1="777.96" x2="1134" y2="777.96" stroke="#ff0000" stroke-width="1.8"/>
<line x1="1134" y1="777.96" x2="1147.33" y2="777.96" stroke="#7a0036" stroke-width="1.8" stroke-linecap="square"/>
<path d="M1088,768.96 L1088,771.46 C1088,774.46 1091,775.46 1094,775.46 C1097,775.46 1100,774.46 1100,771.46 L1100,768.96" fill="none" stroke="#0000ff" stroke-width="2"/>
<path d="M1088,786.46 L1088,783.96 C1088,780.96 1091,778.96 1094,778.96 C1097,778.96 1100,780.96 1100,783.96 L1100,786.46" fill="none" stroke="#0000ff" stroke-width="2"/>
<line x1="1094" y1="777.96" x2="1094" y2="790.96" stroke="#0000ff" stroke-width="1.8"/>
<line x1="1094" y1="790.96" x2="1094" y2="804.26" stroke="#ff0000" stroke-width="1.8"/>
<line x1="1094" y1="804.26" x2="1094" y2="817.86" stroke="#7a0036" stroke-width="1.8" stroke-linecap="square"/>
<line x1="1147.33" y1="777.96" x2="1160.66" y2="777.96" stroke="#7a0036" stroke-width="1.8" stroke-linecap="square"/>
<line x1="1160.66" y1="777.96" x2="1172.66" y2="777.96" stroke="#ff0000" stroke-width="1.8"/>
<polygon points="1169.16,773.36 1175.16,777.96 1169.16,782.56" fill="#ff0000"/>
<line x1="1174.66" y1="777.96" x2="1227.66" y2="777.96" stroke="#0000ff" stroke-width="2.2"/>
<rect x="1175.16" y="776.46" width="3" height="3" fill="#0000ff"/>
<rect x="1224.66" y="776.46" width="3" height="3" fill="#0000ff"/>
<line x1="1227.66" y1="777.96" x2="1240.66" y2="777.96" stroke="#ff0000" stroke-width="1.8"/>
<line x1="1240.66" y1="777.96" x2="1254" y2="777.96" stroke="#7a0036" stroke-width="1.8" stroke-linecap="square"/>
<path d="M1194.66,768.96 L1194.66,771.46 C1194.66,774.46 1197.66,775.46 1200.66,775.46 C1203.66,775.46 1206.66,774.46 1206.66,771.46 L1206.66,768.96" fill="none" stroke="#0000ff" stroke-width="2"/>
<path d="M1194.66,786.46 L1194.66,783.96 C1194.66,780.96 1197.66,778.96 1200.66,778.96 C1203.66,778.96 1206.66,780.96 1206.66,783.96 L1206.66,786.46" fill="none" stroke="#0000ff" stroke-width="2"/>
<line x1="1200.66" y1="777.96" x2="1200.66" y2="790.96" stroke="#0000ff" stroke-width="1.8"/>
<line x1="1200.66" y1="790.96" x2="1200.66" y2="804.26" stroke="#ff0000" stroke-width="1.8"/>
<line x1="1200.66" y1="804.26" x2="1200.66" y2="817.86" stroke="#7a0036" stroke-width="1.8" stroke-linecap="square"/>
<line x1="1254" y1="777.96" x2="1267.33" y2="777.96" stroke="#7a0036" stroke-width="1.8" stroke-linecap="square"/>
<line x1="1267.33" y1="777.96" x2="1279.33" y2="777.96" stroke="#ff0000" stroke-width="1.8"/>
<polygon points="1275.83,773.36 1281.83,777.96 1275.83,782.56" fill="#ff0000"/>
<line x1="1281.33" y1="777.96" x2="1334.33" y2="777.96" stroke="#0000ff" stroke-width="2.2"/>
<rect x="1281.83" y="776.46" width="3" height="3" fill="#0000ff"/>
<rect x="1331.33" y="776.46" width="3" height="3" fill="#0000ff"/>
<line x1="1334.33" y1="777.96" x2="1347.33" y2="777.96" stroke="#ff0000" stroke-width="1.8"/>
<line x1="1347.33" y1="777.96" x2="1360.67" y2="777.96" stroke="#7a0036" stroke-width="1.8" stroke-linecap="square"/>
<path d="M1301.33,768.96 L1301.33,771.46 C1301.33,774.46 1304.33,775.46 1307.33,775.46 C1310.33,775.46 1313.33,774.46 1313.33,771.46 L1313.33,768.96" fill="none" stroke="#0000ff" stroke-width="2"/>
<path d="M1301.33,786.46 L1301.33,783.96 C1301.33,780.96 1304.33,778.96 1307.33,778.96 C1310.33,778.96 1313.33,780.96 1313.33,783.96 L1313.33,786.46" fill="none" stroke="#0000ff" stroke-width="2"/>
<line x1="1307.33" y1="777.96" x2="1307.33" y2="790.96" stroke="#0000ff" stroke-width="1.8"/>
<line x1="1307.33" y1="790.96" x2="1307.33" y2="804.26" stroke="#ff0000" stroke-width="1.8"/>
<line x1="1307.33" y1="804.26" x2="1307.33" y2="817.86" stroke="#7a0036" stroke-width="1.8" stroke-linecap="square"/>
<line x1="547.33" y1="817.86" x2="1347.8" y2="817.86" stroke="#7a0036" stroke-width="1.8" stroke-linecap="square"/>
<rect x="1346.8" y="803.56" width="2" height="28.6" fill="#ff0000"/>
<rect x="1350.8" y="808.06" width="2" height="19.6" fill="#ff0000"/>
<rect x="1354.8" y="811.66" width="2" height="12.4" fill="#ff0000"/>
<rect x="1358.8" y="815.66" width="2" height="4.4" fill="#ff0000"/>
<line x1="440.3" y1="724.56" x2="440.3" y2="857.8" stroke="#7a0036" stroke-width="1.8" stroke-linecap="square"/>
<line x1="440.3" y1="857.8" x2="1312.93" y2="857.8" stroke="#7a0036" stroke-width="1.8" stroke-linecap="square"/>
<line x1="713.8" y1="857.8" x2="713.8" y2="884.7" stroke="#7a0036" stroke-width="1.8" stroke-linecap="square"/>
<line x1="713.8" y1="923.9" x2="713.8" y2="964.3" stroke="#7a0036" stroke-width="1.8" stroke-linecap="square"/>
<line x1="713.8" y1="884.7" x2="713.8" y2="898.6" stroke="#ff0000" stroke-width="1.8"/>
<line x1="713.8" y1="898.6" x2="713.8" y2="899.5" stroke="#0000ff" stroke-width="1.8"/>
<rect x="701.1" y="899" width="25.7" height="3" fill="#0000ff"/>
<rect x="701.1" y="906" width="25.7" height="2" fill="#0000ff"/>
<line x1="713.8" y1="908" x2="713.8" y2="910.7" stroke="#0000ff" stroke-width="1.8"/>
<line x1="713.8" y1="910.7" x2="713.8" y2="923.9" stroke="#ff0000" stroke-width="1.8"/>
<line x1="780.37" y1="857.8" x2="780.37" y2="884.7" stroke="#7a0036" stroke-width="1.8" stroke-linecap="square"/>
<line x1="780.37" y1="923.9" x2="780.37" y2="964.3" stroke="#7a0036" stroke-width="1.8" stroke-linecap="square"/>
<line x1="780.37" y1="884.7" x2="780.37" y2="898.6" stroke="#ff0000" stroke-width="1.8"/>
<line x1="780.37" y1="898.6" x2="780.37" y2="899.5" stroke="#0000ff" stroke-width="1.8"/>
<rect x="767.67" y="899" width="25.7" height="3" fill="#0000ff"/>
<rect x="767.67" y="906" width="25.7" height="2" fill="#0000ff"/>
<line x1="780.37" y1="908" x2="780.37" y2="910.7" stroke="#0000ff" stroke-width="1.8"/>
<line x1="780.37" y1="910.7" x2="780.37" y2="923.9" stroke="#ff0000" stroke-width="1.8"/>
<line x1="846.94" y1="857.8" x2="846.94" y2="884.7" stroke="#7a0036" stroke-width="1.8" stroke-linecap="square"/>
<line x1="846.94" y1="923.9" x2="846.94" y2="964.3" stroke="#7a0036" stroke-width="1.8" stroke-linecap="square"/>
<line x1="846.94" y1="884.7" x2="846.94" y2="898.6" stroke="#ff0000" stroke-width="1.8"/>
<line x1="846.94" y1="898.6" x2="846.94" y2="899.5" stroke="#0000ff" stroke-width="1.8"/>
<rect x="834.24" y="899" width="25.7" height="3" fill="#0000ff"/>
<rect x="834.24" y="906" width="25.7" height="2" fill="#0000ff"/>
<line x1="846.94" y1="908" x2="846.94" y2="910.7" stroke="#0000ff" stroke-width="1.8"/>
<line x1="846.94" y1="910.7" x2="846.94" y2="923.9" stroke="#ff0000" stroke-width="1.8"/>
<line x1="913.51" y1="857.8" x2="913.51" y2="884.7" stroke="#7a0036" stroke-width="1.8" stroke-linecap="square"/>
<line x1="913.51" y1="923.9" x2="913.51" y2="964.3" stroke="#7a0036" stroke-width="1.8" stroke-linecap="square"/>
<line x1="913.51" y1="884.7" x2="913.51" y2="898.6" stroke="#ff0000" stroke-width="1.8"/>
<line x1="913.51" y1="898.6" x2="913.51" y2="899.5" stroke="#0000ff" stroke-width="1.8"/>
<rect x="900.81" y="899" width="25.7" height="3" fill="#0000ff"/>
<rect x="900.81" y="906" width="25.7" height="2" fill="#0000ff"/>
<line x1="913.51" y1="908" x2="913.51" y2="910.7" stroke="#0000ff" stroke-width="1.8"/>
<line x1="913.51" y1="910.7" x2="913.51" y2="923.9" stroke="#ff0000" stroke-width="1.8"/>
<line x1="980.08" y1="857.8" x2="980.08" y2="884.7" stroke="#7a0036" stroke-width="1.8" stroke-linecap="square"/>
<line x1="980.08" y1="923.9" x2="980.08" y2="964.3" stroke="#7a0036" stroke-width="1.8" stroke-linecap="square"/>
<line x1="980.08" y1="884.7" x2="980.08" y2="898.6" stroke="#ff0000" stroke-width="1.8"/>
<line x1="980.08" y1="898.6" x2="980.08" y2="899.5" stroke="#0000ff" stroke-width="1.8"/>
<rect x="967.38" y="899" width="25.7" height="3" fill="#0000ff"/>
<rect x="967.38" y="906" width="25.7" height="2" fill="#0000ff"/>
<line x1="980.08" y1="908" x2="980.08" y2="910.7" stroke="#0000ff" stroke-width="1.8"/>
<line x1="980.08" y1="910.7" x2="980.08" y2="923.9" stroke="#ff0000" stroke-width="1.8"/>
<line x1="1046.65" y1="857.8" x2="1046.65" y2="884.7" stroke="#7a0036" stroke-width="1.8" stroke-linecap="square"/>
<line x1="1046.65" y1="923.9" x2="1046.65" y2="964.3" stroke="#7a0036" stroke-width="1.8" stroke-linecap="square"/>
<line x1="1046.65" y1="884.7" x2="1046.65" y2="898.6" stroke="#ff0000" stroke-width="1.8"/>
<line x1="1046.65" y1="898.6" x2="1046.65" y2="899.5" stroke="#0000ff" stroke-width="1.8"/>
<rect x="1033.95" y="899" width="25.7" height="3" fill="#0000ff"/>
<rect x="1033.95" y="906" width="25.7" height="2" fill="#0000ff"/>
<line x1="1046.65" y1="908" x2="1046.65" y2="910.7" stroke="#0000ff" stroke-width="1.8"/>
<line x1="1046.65" y1="910.7" x2="1046.65" y2="923.9" stroke="#ff0000" stroke-width="1.8"/>
<line x1="1113.22" y1="857.8" x2="1113.22" y2="884.7" stroke="#7a0036" stroke-width="1.8" stroke-linecap="square"/>
<line x1="1113.22" y1="923.9" x2="1113.22" y2="964.3" stroke="#7a0036" stroke-width="1.8" stroke-linecap="square"/>
<line x1="1113.22" y1="884.7" x2="1113.22" y2="898.6" stroke="#ff0000" stroke-width="1.8"/>
<line x1="1113.22" y1="898.6" x2="1113.22" y2="899.5" stroke="#0000ff" stroke-width="1.8"/>
<rect x="1100.52" y="899" width="25.7" height="3" fill="#0000ff"/>
<rect x="1100.52" y="906" width="25.7" height="2" fill="#0000ff"/>
<line x1="1113.22" y1="908" x2="1113.22" y2="910.7" stroke="#0000ff" stroke-width="1.8"/>
<line x1="1113.22" y1="910.7" x2="1113.22" y2="923.9" stroke="#ff0000" stroke-width="1.8"/>
<line x1="1179.79" y1="857.8" x2="1179.79" y2="884.7" stroke="#7a0036" stroke-width="1.8" stroke-linecap="square"/>
<line x1="1179.79" y1="923.9" x2="1179.79" y2="964.3" stroke="#7a0036" stroke-width="1.8" stroke-linecap="square"/>
<line x1="1179.79" y1="884.7" x2="1179.79" y2="898.6" stroke="#ff0000" stroke-width="1.8"/>
<line x1="1179.79" y1="898.6" x2="1179.79" y2="899.5" stroke="#0000ff" stroke-width="1.8"/>
<rect x="1167.09" y="899" width="25.7" height="3" fill="#0000ff"/>
<rect x="1167.09" y="906" width="25.7" height="2" fill="#0000ff"/>
<line x1="1179.79" y1="908" x2="1179.79" y2="910.7" stroke="#0000ff" stroke-width="1.8"/>
<line x1="1179.79" y1="910.7" x2="1179.79" y2="923.9" stroke="#ff0000" stroke-width="1.8"/>
<line x1="1246.36" y1="857.8" x2="1246.36" y2="884.7" stroke="#7a0036" stroke-width="1.8" stroke-linecap="square"/>
<line x1="1246.36" y1="923.9" x2="1246.36" y2="964.3" stroke="#7a0036" stroke-width="1.8" stroke-linecap="square"/>
<line x1="1246.36" y1="884.7" x2="1246.36" y2="898.6" stroke="#ff0000" stroke-width="1.8"/>
<line x1="1246.36" y1="898.6" x2="1246.36" y2="899.5" stroke="#0000ff" stroke-width="1.8"/>
<rect x="1233.66" y="899" width="25.7" height="3" fill="#0000ff"/>
<rect x="1233.66" y="906" width="25.7" height="2" fill="#0000ff"/>
<line x1="1246.36" y1="908" x2="1246.36" y2="910.7" stroke="#0000ff" stroke-width="1.8"/>
<line x1="1246.36" y1="910.7" x2="1246.36" y2="923.9" stroke="#ff0000" stroke-width="1.8"/>
<line x1="1312.93" y1="857.8" x2="1312.93" y2="884.7" stroke="#7a0036" stroke-width="1.8" stroke-linecap="square"/>
<line x1="1312.93" y1="923.9" x2="1312.93" y2="964.3" stroke="#7a0036" stroke-width="1.8" stroke-linecap="square"/>
<line x1="1312.93" y1="884.7" x2="1312.93" y2="898.6" stroke="#ff0000" stroke-width="1.8"/>
<line x1="1312.93" y1="898.6" x2="1312.93" y2="899.5" stroke="#0000ff" stroke-width="1.8"/>
<rect x="1300.23" y="899" width="25.7" height="3" fill="#0000ff"/>
<rect x="1300.23" y="906" width="25.7" height="2" fill="#0000ff"/>
<line x1="1312.93" y1="908" x2="1312.93" y2="910.7" stroke="#0000ff" stroke-width="1.8"/>
<line x1="1312.93" y1="910.7" x2="1312.93" y2="923.9" stroke="#ff0000" stroke-width="1.8"/>
<line x1="713.8" y1="964.3" x2="1334.4" y2="964.3" stroke="#7a0036" stroke-width="1.8" stroke-linecap="square"/>
<rect x="1333.4" y="950" width="2" height="28.6" fill="#ff0000"/>
<rect x="1337.4" y="954.5" width="2" height="19.6" fill="#ff0000"/>
<rect x="1341.4" y="958.1" width="2" height="12.4" fill="#ff0000"/>
<rect x="1345.4" y="962.1" width="2" height="4.4" fill="#ff0000"/>
<line x1="453.7" y1="924.55" x2="453.7" y2="951.2" stroke="#7a0036" stroke-width="1.8" stroke-linecap="square"/>
<line x1="453.7" y1="990.4" x2="453.7" y2="1004" stroke="#7a0036" stroke-width="1.8" stroke-linecap="square"/>
<line x1="453.7" y1="951.2" x2="453.7" y2="965.1" stroke="#ff0000" stroke-width="1.8"/>
<line x1="453.7" y1="965.1" x2="453.7" y2="966" stroke="#0000ff" stroke-width="1.8"/>
<rect x="441" y="965.5" width="25.7" height="3" fill="#0000ff"/>
<rect x="441" y="972.5" width="25.7" height="2" fill="#0000ff"/>
<line x1="453.7" y1="974.5" x2="453.7" y2="977.2" stroke="#0000ff" stroke-width="1.8"/>
<line x1="453.7" y1="977.2" x2="453.7" y2="990.4" stroke="#ff0000" stroke-width="1.8"/>
<rect x="439.4" y="1002.8" width="28.6" height="2.4" fill="#ff0000"/>
<rect x="443.7" y="1007.1" width="20" height="2.4" fill="#ff0000"/>
<rect x="447" y="1011" width="13.4" height="2.4" fill="#ff0000"/>
<rect x="451.6" y="1015.2" width="4.2" height="2.4" fill="#ff0000"/>
<line x1="667.3" y1="1044.3" x2="681.2" y2="1044.3" stroke="#ff0000" stroke-width="1.8"/>
<polyline points="681.2,1044.3 684,1039.1 693.3,1049 700.7,1039.1 709,1049 716.4,1039.1 721,1044.3" fill="none" stroke="#0000ff" stroke-width="2" stroke-linejoin="miter" stroke-linecap="square"/>
<line x1="721" y1="1044.3" x2="734" y2="1044.3" stroke="#ff0000" stroke-width="1.8"/>
<line x1="734" y1="1044.3" x2="841.1" y2="1044.3" stroke="#7a0036" stroke-width="1.8" stroke-linecap="square"/>
<line x1="841.1" y1="1044.3" x2="841.1" y2="1030.8" stroke="#7a0036" stroke-width="1.8" stroke-linecap="square"/>
<rect x="833.3" y="1016.8" width="15.7" height="2" fill="#ff0000"/>
<line x1="841.1" y1="1017.8" x2="841.1" y2="1030.8" stroke="#ff0000" stroke-width="1.8"/>
<rect x="285.9" y="1150" width="15.6" height="2" fill="#ff0000"/>
<line x1="293.7" y1="1151" x2="293.7" y2="1164" stroke="#ff0000" stroke-width="1.8"/>
<line x1="293.7" y1="1164" x2="293.7" y2="1177.6" stroke="#7a0036" stroke-width="1.8" stroke-linecap="square"/>
<line x1="293.7" y1="1177.6" x2="293.7" y2="1191.2" stroke="#7a0036" stroke-width="1.8" stroke-linecap="square"/>
<line x1="293.7" y1="1230.4" x2="293.7" y2="1244.5" stroke="#7a0036" stroke-width="1.8" stroke-linecap="square"/>
<line x1="293.7" y1="1191.2" x2="293.7" y2="1205.1" stroke="#ff0000" stroke-width="1.8"/>
<line x1="293.7" y1="1205.1" x2="293.7" y2="1206" stroke="#0000ff" stroke-width="1.8"/>
<rect x="281" y="1205.5" width="25.7" height="3" fill="#0000ff"/>
<rect x="281" y="1212.5" width="25.7" height="2" fill="#0000ff"/>
<line x1="293.7" y1="1214.5" x2="293.7" y2="1217.2" stroke="#0000ff" stroke-width="1.8"/>
<line x1="293.7" y1="1217.2" x2="293.7" y2="1230.4" stroke="#ff0000" stroke-width="1.8"/>
<rect x="279.4" y="1243.3" width="28.6" height="2.4" fill="#ff0000"/>
<rect x="283.7" y="1247.6" width="20" height="2.4" fill="#ff0000"/>
<rect x="287" y="1251.5" width="13.4" height="2.4" fill="#ff0000"/>
<rect x="291.6" y="1255.7" width="4.2" height="2.4" fill="#ff0000"/>
<line x1="400.7" y1="1177.7" x2="1254.8" y2="1177.7" stroke="#7a0036" stroke-width="1.8" stroke-linecap="square"/>
<line x1="467.1" y1="1177.7" x2="467.1" y2="1191.2" stroke="#7a0036" stroke-width="1.8" stroke-linecap="square"/>
<line x1="467.1" y1="1230.4" x2="467.1" y2="1244.6" stroke="#7a0036" stroke-width="1.8" stroke-linecap="square"/>
<line x1="467.1" y1="1191.2" x2="467.1" y2="1205.1" stroke="#ff0000" stroke-width="1.8"/>
<line x1="467.1" y1="1205.1" x2="467.1" y2="1206" stroke="#0000ff" stroke-width="1.8"/>
<rect x="454.4" y="1205.5" width="25.7" height="3" fill="#0000ff"/>
<rect x="454.4" y="1212.5" width="25.7" height="2" fill="#0000ff"/>
<line x1="467.1" y1="1214.5" x2="467.1" y2="1217.2" stroke="#0000ff" stroke-width="1.8"/>
<line x1="467.1" y1="1217.2" x2="467.1" y2="1230.4" stroke="#ff0000" stroke-width="1.8"/>
<line x1="547.1" y1="1177.7" x2="547.1" y2="1191.2" stroke="#7a0036" stroke-width="1.8" stroke-linecap="square"/>
<line x1="547.1" y1="1230.4" x2="547.1" y2="1244.6" stroke="#7a0036" stroke-width="1.8" stroke-linecap="square"/>
<line x1="547.1" y1="1191.2" x2="547.1" y2="1205.1" stroke="#ff0000" stroke-width="1.8"/>
<line x1="547.1" y1="1205.1" x2="547.1" y2="1206" stroke="#0000ff" stroke-width="1.8"/>
<rect x="534.4" y="1205.5" width="25.7" height="3" fill="#0000ff"/>
<rect x="534.4" y="1212.5" width="25.7" height="2" fill="#0000ff"/>
<line x1="547.1" y1="1214.5" x2="547.1" y2="1217.2" stroke="#0000ff" stroke-width="1.8"/>
<line x1="547.1" y1="1217.2" x2="547.1" y2="1230.4" stroke="#ff0000" stroke-width="1.8"/>
<line x1="620.3" y1="1177.7" x2="620.3" y2="1191.2" stroke="#7a0036" stroke-width="1.8" stroke-linecap="square"/>
<line x1="620.3" y1="1230.4" x2="620.3" y2="1244.6" stroke="#7a0036" stroke-width="1.8" stroke-linecap="square"/>
<line x1="620.3" y1="1191.2" x2="620.3" y2="1205.1" stroke="#ff0000" stroke-width="1.8"/>
<line x1="620.3" y1="1205.1" x2="620.3" y2="1206" stroke="#0000ff" stroke-width="1.8"/>
<rect x="607.6" y="1205.5" width="25.7" height="3" fill="#0000ff"/>
<rect x="607.6" y="1212.5" width="25.7" height="2" fill="#0000ff"/>
<line x1="620.3" y1="1214.5" x2="620.3" y2="1217.2" stroke="#0000ff" stroke-width="1.8"/>
<line x1="620.3" y1="1217.2" x2="620.3" y2="1230.4" stroke="#ff0000" stroke-width="1.8"/>
<line x1="700.2" y1="1177.7" x2="700.2" y2="1191.2" stroke="#7a0036" stroke-width="1.8" stroke-linecap="square"/>
<line x1="700.2" y1="1230.4" x2="700.2" y2="1244.6" stroke="#7a0036" stroke-width="1.8" stroke-linecap="square"/>
<line x1="700.2" y1="1191.2" x2="700.2" y2="1205.1" stroke="#ff0000" stroke-width="1.8"/>
<line x1="700.2" y1="1205.1" x2="700.2" y2="1206" stroke="#0000ff" stroke-width="1.8"/>
<rect x="687.5" y="1205.5" width="25.7" height="3" fill="#0000ff"/>
<rect x="687.5" y="1212.5" width="25.7" height="2" fill="#0000ff"/>
<line x1="700.2" y1="1214.5" x2="700.2" y2="1217.2" stroke="#0000ff" stroke-width="1.8"/>
<line x1="700.2" y1="1217.2" x2="700.2" y2="1230.4" stroke="#ff0000" stroke-width="1.8"/>
<line x1="467.1" y1="1244.6" x2="787.5" y2="1244.6" stroke="#7a0036" stroke-width="1.8" stroke-linecap="square"/>
<rect x="786.5" y="1230.3" width="2" height="28.6" fill="#ff0000"/>
<rect x="790.5" y="1234.8" width="2" height="19.6" fill="#ff0000"/>
<rect x="794.5" y="1238.4" width="2" height="12.4" fill="#ff0000"/>
<rect x="798.5" y="1242.4" width="2" height="4.4" fill="#ff0000"/>
<rect x="939.2" y="1149.9" width="15.6" height="2" fill="#ff0000"/>
<line x1="947" y1="1150.9" x2="947" y2="1163.9" stroke="#ff0000" stroke-width="1.8"/>
<line x1="947" y1="1163.9" x2="947" y2="1177.7" stroke="#7a0036" stroke-width="1.8" stroke-linecap="square"/>
<line x1="1068" y1="1177.7" x2="1068" y2="1191.7" stroke="#7a0036" stroke-width="1.8" stroke-linecap="square"/>
<line x1="1068" y1="1230.9" x2="1068" y2="1244.7" stroke="#7a0036" stroke-width="1.8" stroke-linecap="square"/>
<line x1="1068" y1="1191.7" x2="1068" y2="1205.6" stroke="#ff0000" stroke-width="1.8"/>
<line x1="1068" y1="1205.6" x2="1068" y2="1206.5" stroke="#0000ff" stroke-width="1.8"/>
<rect x="1055.3" y="1206" width="25.7" height="3" fill="#0000ff"/>
<rect x="1055.3" y="1213" width="25.7" height="2" fill="#0000ff"/>
<line x1="1068" y1="1215" x2="1068" y2="1217.7" stroke="#0000ff" stroke-width="1.8"/>
<line x1="1068" y1="1217.7" x2="1068" y2="1230.9" stroke="#ff0000" stroke-width="1.8"/>
<rect x="1053.7" y="1243.5" width="28.6" height="2.4" fill="#ff0000"/>
<rect x="1058" y="1247.8" width="20" height="2.4" fill="#ff0000"/>
<rect x="1061.3" y="1251.7" width="13.4" height="2.4" fill="#ff0000"/>
<rect x="1065.9" y="1255.9" width="4.2" height="2.4" fill="#ff0000"/>
<line x1="1147.3" y1="1177.7" x2="1147.3" y2="1191.7" stroke="#7a0036" stroke-width="1.8" stroke-linecap="square"/>
<line x1="1147.3" y1="1230.9" x2="1147.3" y2="1244.7" stroke="#7a0036" stroke-width="1.8" stroke-linecap="square"/>
<line x1="1147.3" y1="1191.7" x2="1147.3" y2="1205.6" stroke="#ff0000" stroke-width="1.8"/>
<line x1="1147.3" y1="1205.6" x2="1147.3" y2="1206.5" stroke="#0000ff" stroke-width="1.8"/>
<rect x="1134.6" y="1206" width="25.7" height="3" fill="#0000ff"/>
<rect x="1134.6" y="1213" width="25.7" height="2" fill="#0000ff"/>
<line x1="1147.3" y1="1215" x2="1147.3" y2="1217.7" stroke="#0000ff" stroke-width="1.8"/>
<line x1="1147.3" y1="1217.7" x2="1147.3" y2="1230.9" stroke="#ff0000" stroke-width="1.8"/>
<rect x="1133" y="1243.5" width="28.6" height="2.4" fill="#ff0000"/>
<rect x="1137.3" y="1247.8" width="20" height="2.4" fill="#ff0000"/>
<rect x="1140.6" y="1251.7" width="13.4" height="2.4" fill="#ff0000"/>
<rect x="1145.2" y="1255.9" width="4.2" height="2.4" fill="#ff0000"/>
<line x1="1254.8" y1="1177.7" x2="1268.4" y2="1177.7" stroke="#ff0000" stroke-width="1.8"/>
<line x1="1268.4" y1="1177.7" x2="1272.5" y2="1177.7" stroke="#0000ff" stroke-width="2"/>
<polygon points="1272,1178.3 1286.5,1166 1288.6,1176.8 1274.2,1189.8" fill="none" stroke="#0000ff" stroke-width="2"/>
<line x1="1288.6" y1="1177.7" x2="1294.4" y2="1177.7" stroke="#0000ff" stroke-width="2"/>
<line x1="1294.4" y1="1177.7" x2="1306.6" y2="1177.7" stroke="#ff0000" stroke-width="1.8"/>
<line x1="1306.6" y1="1177.7" x2="1361" y2="1177.7" stroke="#7a0036" stroke-width="1.8" stroke-linecap="square"/>
<line x1="1361" y1="1177.7" x2="1361" y2="1164" stroke="#7a0036" stroke-width="1.8" stroke-linecap="square"/>
<line x1="1361" y1="1151" x2="1361" y2="1164" stroke="#ff0000" stroke-width="1.8"/>
<rect x="1353" y="1150" width="16" height="2" fill="#ff0000"/>
<line x1="400.7" y1="1297.3" x2="706.7" y2="1297.3" stroke="#7a0036" stroke-width="1.8" stroke-linecap="square"/>
<line x1="473.3" y1="1297.3" x2="473.3" y2="1311.2" stroke="#7a0036" stroke-width="1.8" stroke-linecap="square"/>
<line x1="473.3" y1="1350.4" x2="473.3" y2="1364.1" stroke="#7a0036" stroke-width="1.8" stroke-linecap="square"/>
<line x1="473.3" y1="1311.2" x2="473.3" y2="1325.1" stroke="#ff0000" stroke-width="1.8"/>
<line x1="473.3" y1="1325.1" x2="473.3" y2="1326" stroke="#0000ff" stroke-width="1.8"/>
<rect x="460.6" y="1325.5" width="25.7" height="3" fill="#0000ff"/>
<rect x="460.6" y="1332.5" width="25.7" height="2" fill="#0000ff"/>
<line x1="473.3" y1="1334.5" x2="473.3" y2="1337.2" stroke="#0000ff" stroke-width="1.8"/>
<line x1="473.3" y1="1337.2" x2="473.3" y2="1350.4" stroke="#ff0000" stroke-width="1.8"/>
<line x1="553.3" y1="1297.3" x2="553.3" y2="1311.2" stroke="#7a0036" stroke-width="1.8" stroke-linecap="square"/>
<line x1="553.3" y1="1350.4" x2="553.3" y2="1364.1" stroke="#7a0036" stroke-width="1.8" stroke-linecap="square"/>
<line x1="553.3" y1="1311.2" x2="553.3" y2="1325.1" stroke="#ff0000" stroke-width="1.8"/>
<line x1="553.3" y1="1325.1" x2="553.3" y2="1326" stroke="#0000ff" stroke-width="1.8"/>
<rect x="540.6" y="1325.5" width="25.7" height="3" fill="#0000ff"/>
<rect x="540.6" y="1332.5" width="25.7" height="2" fill="#0000ff"/>
<line x1="553.3" y1="1334.5" x2="553.3" y2="1337.2" stroke="#0000ff" stroke-width="1.8"/>
<line x1="553.3" y1="1337.2" x2="553.3" y2="1350.4" stroke="#ff0000" stroke-width="1.8"/>
<line x1="626.7" y1="1297.3" x2="626.7" y2="1311.2" stroke="#7a0036" stroke-width="1.8" stroke-linecap="square"/>
<line x1="626.7" y1="1350.4" x2="626.7" y2="1364.1" stroke="#7a0036" stroke-width="1.8" stroke-linecap="square"/>
<line x1="626.7" y1="1311.2" x2="626.7" y2="1325.1" stroke="#ff0000" stroke-width="1.8"/>
<line x1="626.7" y1="1325.1" x2="626.7" y2="1326" stroke="#0000ff" stroke-width="1.8"/>
<rect x="614" y="1325.5" width="25.7" height="3" fill="#0000ff"/>
<rect x="614" y="1332.5" width="25.7" height="2" fill="#0000ff"/>
<line x1="626.7" y1="1334.5" x2="626.7" y2="1337.2" stroke="#0000ff" stroke-width="1.8"/>
<line x1="626.7" y1="1337.2" x2="626.7" y2="1350.4" stroke="#ff0000" stroke-width="1.8"/>
<line x1="706.7" y1="1297.3" x2="706.7" y2="1311.2" stroke="#7a0036" stroke-width="1.8" stroke-linecap="square"/>
<line x1="706.7" y1="1350.4" x2="706.7" y2="1364.1" stroke="#7a0036" stroke-width="1.8" stroke-linecap="square"/>
<line x1="706.7" y1="1311.2" x2="706.7" y2="1325.1" stroke="#ff0000" stroke-width="1.8"/>
<line x1="706.7" y1="1325.1" x2="706.7" y2="1326" stroke="#0000ff" stroke-width="1.8"/>
<rect x="694" y="1325.5" width="25.7" height="3" fill="#0000ff"/>
<rect x="694" y="1332.5" width="25.7" height="2" fill="#0000ff"/>
<line x1="706.7" y1="1334.5" x2="706.7" y2="1337.2" stroke="#0000ff" stroke-width="1.8"/>
<line x1="706.7" y1="1337.2" x2="706.7" y2="1350.4" stroke="#ff0000" stroke-width="1.8"/>
<line x1="473.3" y1="1364.1" x2="787.4" y2="1364.1" stroke="#7a0036" stroke-width="1.8" stroke-linecap="square"/>
<rect x="786.4" y="1349.8" width="2" height="28.6" fill="#ff0000"/>
<rect x="790.4" y="1354.3" width="2" height="19.6" fill="#ff0000"/>
<rect x="794.4" y="1357.9" width="2" height="12.4" fill="#ff0000"/>
<rect x="798.4" y="1361.9" width="2" height="4.4" fill="#ff0000"/>
<line x1="400.7" y1="1404.6" x2="974" y2="1404.6" stroke="#7a0036" stroke-width="1.8" stroke-linecap="square"/>
<line x1="427.33" y1="1404.6" x2="427.33" y2="1458" stroke="#7a0036" stroke-width="1.8" stroke-linecap="square"/>
<line x1="534" y1="1404.6" x2="534" y2="1458" stroke="#7a0036" stroke-width="1.8" stroke-linecap="square"/>
<line x1="640.67" y1="1404.6" x2="640.67" y2="1458" stroke="#7a0036" stroke-width="1.8" stroke-linecap="square"/>
<line x1="747.33" y1="1404.6" x2="747.33" y2="1458" stroke="#7a0036" stroke-width="1.8" stroke-linecap="square"/>
<line x1="867.33" y1="1404.6" x2="867.33" y2="1458" stroke="#7a0036" stroke-width="1.8" stroke-linecap="square"/>
<line x1="974" y1="1404.6" x2="974" y2="1458" stroke="#7a0036" stroke-width="1.8" stroke-linecap="square"/>
<line x1="427.33" y1="1458" x2="440.66" y2="1458" stroke="#7a0036" stroke-width="1.8" stroke-linecap="square"/>
<line x1="440.66" y1="1458" x2="452.66" y2="1458" stroke="#ff0000" stroke-width="1.8"/>
<polygon points="449.16,1453.4 455.16,1458 449.16,1462.6" fill="#ff0000"/>
<line x1="454.66" y1="1458" x2="507.66" y2="1458" stroke="#0000ff" stroke-width="2.2"/>
<rect x="455.16" y="1456.5" width="3" height="3" fill="#0000ff"/>
<rect x="504.66" y="1456.5" width="3" height="3" fill="#0000ff"/>
<line x1="507.66" y1="1458" x2="520.66" y2="1458" stroke="#ff0000" stroke-width="1.8"/>
<line x1="520.66" y1="1458" x2="534" y2="1458" stroke="#7a0036" stroke-width="1.8" stroke-linecap="square"/>
<path d="M474.66,1449 L474.66,1451.5 C474.66,1454.5 477.66,1455.5 480.66,1455.5 C483.66,1455.5 486.66,1454.5 486.66,1451.5 L486.66,1449" fill="none" stroke="#0000ff" stroke-width="2"/>
<path d="M474.66,1466.5 L474.66,1464 C474.66,1461 477.66,1459 480.66,1459 C483.66,1459 486.66,1461 486.66,1464 L486.66,1466.5" fill="none" stroke="#0000ff" stroke-width="2"/>
<line x1="480.66" y1="1458" x2="480.66" y2="1471" stroke="#0000ff" stroke-width="1.8"/>
<line x1="480.66" y1="1471" x2="480.66" y2="1484.3" stroke="#ff0000" stroke-width="1.8"/>
<line x1="480.66" y1="1484.3" x2="480.66" y2="1497.3" stroke="#7a0036" stroke-width="1.8" stroke-linecap="square"/>
<line x1="534" y1="1458" x2="547.33" y2="1458" stroke="#7a0036" stroke-width="1.8" stroke-linecap="square"/>
<line x1="547.33" y1="1458" x2="559.33" y2="1458" stroke="#ff0000" stroke-width="1.8"/>
<polygon points="555.83,1453.4 561.83,1458 555.83,1462.6" fill="#ff0000"/>
<line x1="561.33" y1="1458" x2="614.33" y2="1458" stroke="#0000ff" stroke-width="2.2"/>
<rect x="561.83" y="1456.5" width="3" height="3" fill="#0000ff"/>
<rect x="611.33" y="1456.5" width="3" height="3" fill="#0000ff"/>
<line x1="614.33" y1="1458" x2="627.33" y2="1458" stroke="#ff0000" stroke-width="1.8"/>
<line x1="627.33" y1="1458" x2="640.67" y2="1458" stroke="#7a0036" stroke-width="1.8" stroke-linecap="square"/>
<path d="M581.33,1449 L581.33,1451.5 C581.33,1454.5 584.33,1455.5 587.33,1455.5 C590.33,1455.5 593.33,1454.5 593.33,1451.5 L593.33,1449" fill="none" stroke="#0000ff" stroke-width="2"/>
<path d="M581.33,1466.5 L581.33,1464 C581.33,1461 584.33,1459 587.33,1459 C590.33,1459 593.33,1461 593.33,1464 L593.33,1466.5" fill="none" stroke="#0000ff" stroke-width="2"/>
<line x1="587.33" y1="1458" x2="587.33" y2="1471" stroke="#0000ff" stroke-width="1.8"/>
<line x1="587.33" y1="1471" x2="587.33" y2="1484.3" stroke="#ff0000" stroke-width="1.8"/>
<line x1="587.33" y1="1484.3" x2="587.33" y2="1497.3" stroke="#7a0036" stroke-width="1.8" stroke-linecap="square"/>
<line x1="640.67" y1="1458" x2="654" y2="1458" stroke="#7a0036" stroke-width="1.8" stroke-linecap="square"/>
<line x1="654" y1="1458" x2="666" y2="1458" stroke="#ff0000" stroke-width="1.8"/>
<polygon points="662.5,1453.4 668.5,1458 662.5,1462.6" fill="#ff0000"/>
<line x1="668" y1="1458" x2="721" y2="1458" stroke="#0000ff" stroke-width="2.2"/>
<rect x="668.5" y="1456.5" width="3" height="3" fill="#0000ff"/>
<rect x="718" y="1456.5" width="3" height="3" fill="#0000ff"/>
<line x1="721" y1="1458" x2="734" y2="1458" stroke="#ff0000" stroke-width="1.8"/>
<line x1="734" y1="1458" x2="747.33" y2="1458" stroke="#7a0036" stroke-width="1.8" stroke-linecap="square"/>
<path d="M688,1449 L688,1451.5 C688,1454.5 691,1455.5 694,1455.5 C697,1455.5 700,1454.5 700,1451.5 L700,1449" fill="none" stroke="#0000ff" stroke-width="2"/>
<path d="M688,1466.5 L688,1464 C688,1461 691,1459 694,1459 C697,1459 700,1461 700,1464 L700,1466.5" fill="none" stroke="#0000ff" stroke-width="2"/>
<line x1="694" y1="1458" x2="694" y2="1471" stroke="#0000ff" stroke-width="1.8"/>
<line x1="694" y1="1471" x2="694" y2="1484.3" stroke="#ff0000" stroke-width="1.8"/>
<line x1="694" y1="1484.3" x2="694" y2="1497.3" stroke="#7a0036" stroke-width="1.8" stroke-linecap="square"/>
<line x1="747.33" y1="1458" x2="774" y2="1458" stroke="#7a0036" stroke-width="1.8" stroke-linecap="square"/>
<line x1="774" y1="1458" x2="786" y2="1458" stroke="#ff0000" stroke-width="1.8"/>
<polygon points="782.5,1453.4 788.5,1458 782.5,1462.6" fill="#ff0000"/>
<line x1="788" y1="1458" x2="841" y2="1458" stroke="#0000ff" stroke-width="2.2"/>
<rect x="788.5" y="1456.5" width="3" height="3" fill="#0000ff"/>
<rect x="838" y="1456.5" width="3" height="3" fill="#0000ff"/>
<line x1="841" y1="1458" x2="854" y2="1458" stroke="#ff0000" stroke-width="1.8"/>
<line x1="854" y1="1458" x2="867.33" y2="1458" stroke="#7a0036" stroke-width="1.8" stroke-linecap="square"/>
<path d="M808,1449 L808,1451.5 C808,1454.5 811,1455.5 814,1455.5 C817,1455.5 820,1454.5 820,1451.5 L820,1449" fill="none" stroke="#0000ff" stroke-width="2"/>
<path d="M808,1466.5 L808,1464 C808,1461 811,1459 814,1459 C817,1459 820,1461 820,1464 L820,1466.5" fill="none" stroke="#0000ff" stroke-width="2"/>
<line x1="814" y1="1458" x2="814" y2="1471" stroke="#0000ff" stroke-width="1.8"/>
<line x1="814" y1="1471" x2="814" y2="1484.3" stroke="#ff0000" stroke-width="1.8"/>
<line x1="814" y1="1484.3" x2="814" y2="1497.3" stroke="#7a0036" stroke-width="1.8" stroke-linecap="square"/>
<line x1="867.33" y1="1458" x2="880.66" y2="1458" stroke="#7a0036" stroke-width="1.8" stroke-linecap="square"/>
<line x1="880.66" y1="1458" x2="892.66" y2="1458" stroke="#ff0000" stroke-width="1.8"/>
<polygon points="889.16,1453.4 895.16,1458 889.16,1462.6" fill="#ff0000"/>
<line x1="894.66" y1="1458" x2="947.66" y2="1458" stroke="#0000ff" stroke-width="2.2"/>
<rect x="895.16" y="1456.5" width="3" height="3" fill="#0000ff"/>
<rect x="944.66" y="1456.5" width="3" height="3" fill="#0000ff"/>
<line x1="947.66" y1="1458" x2="960.66" y2="1458" stroke="#ff0000" stroke-width="1.8"/>
<line x1="960.66" y1="1458" x2="974" y2="1458" stroke="#7a0036" stroke-width="1.8" stroke-linecap="square"/>
<path d="M914.66,1449 L914.66,1451.5 C914.66,1454.5 917.66,1455.5 920.66,1455.5 C923.66,1455.5 926.66,1454.5 926.66,1451.5 L926.66,1449" fill="none" stroke="#0000ff" stroke-width="2"/>
<path d="M914.66,1466.5 L914.66,1464 C914.66,1461 917.66,1459 920.66,1459 C923.66,1459 926.66,1461 926.66,1464 L926.66,1466.5" fill="none" stroke="#0000ff" stroke-width="2"/>
<line x1="920.66" y1="1458" x2="920.66" y2="1471" stroke="#0000ff" stroke-width="1.8"/>
<line x1="920.66" y1="1471" x2="920.66" y2="1484.3" stroke="#ff0000" stroke-width="1.8"/>
<line x1="920.66" y1="1484.3" x2="920.66" y2="1497.3" stroke="#7a0036" stroke-width="1.8" stroke-linecap="square"/>
<line x1="480.66" y1="1497.3" x2="960" y2="1497.3" stroke="#7a0036" stroke-width="1.8" stroke-linecap="square"/>
<rect x="959" y="1483" width="2" height="28.6" fill="#ff0000"/>
<rect x="963" y="1487.5" width="2" height="19.6" fill="#ff0000"/>
<rect x="967" y="1491.1" width="2" height="12.4" fill="#ff0000"/>
<rect x="971" y="1495.1" width="2" height="4.4" fill="#ff0000"/>
<circle cx="400.7" cy="297.9" r="3.5" fill="#ff00ff"/>
<circle cx="400.7" cy="311.23" r="3.5" fill="#ff00ff"/>
<circle cx="400.7" cy="324.57" r="3.5" fill="#ff00ff"/>
<circle cx="400.7" cy="337.9" r="3.5" fill="#ff00ff"/>
<circle cx="400.7" cy="351.23" r="3.5" fill="#ff00ff"/>
<circle cx="400.7" cy="364.56" r="3.5" fill="#ff00ff"/>
<circle cx="400.7" cy="377.9" r="3.5" fill="#ff00ff"/>
<circle cx="400.7" cy="391.23" r="3.5" fill="#ff00ff"/>
<circle cx="400.7" cy="404.56" r="3.5" fill="#ff00ff"/>
<circle cx="400.7" cy="417.9" r="3.5" fill="#ff00ff"/>
<circle cx="400.7" cy="431.23" r="3.5" fill="#ff00ff"/>
<circle cx="400.7" cy="444.56" r="3.5" fill="#ff00ff"/>
<circle cx="400.7" cy="457.9" r="3.5" fill="#ff00ff"/>
<circle cx="400.7" cy="471.23" r="3.5" fill="#ff00ff"/>
<circle cx="400.7" cy="484.56" r="3.5" fill="#ff00ff"/>
<circle cx="400.7" cy="497.89" r="3.5" fill="#ff00ff"/>
<circle cx="400.7" cy="511.23" r="3.5" fill="#ff00ff"/>
<circle cx="400.7" cy="524.56" r="3.5" fill="#ff00ff"/>
<circle cx="400.7" cy="537.89" r="3.5" fill="#ff00ff"/>
<circle cx="400.7" cy="551.23" r="3.5" fill="#ff00ff"/>
<circle cx="400.7" cy="564.56" r="3.5" fill="#ff00ff"/>
<circle cx="400.7" cy="577.89" r="3.5" fill="#ff00ff"/>
<circle cx="400.7" cy="591.23" r="3.5" fill="#ff00ff"/>
<circle cx="400.7" cy="604.56" r="3.5" fill="#ff00ff"/>
<circle cx="400.7" cy="617.89" r="3.5" fill="#ff00ff"/>
<circle cx="400.7" cy="631.22" r="3.5" fill="#ff00ff"/>
<circle cx="400.7" cy="644.56" r="3.5" fill="#ff00ff"/>
<circle cx="400.7" cy="657.89" r="3.5" fill="#ff00ff"/>
<circle cx="400.7" cy="671.22" r="3.5" fill="#ff00ff"/>
<circle cx="400.7" cy="684.56" r="3.5" fill="#ff00ff"/>
<circle cx="400.7" cy="697.89" r="3.5" fill="#ff00ff"/>
<circle cx="400.7" cy="711.22" r="3.5" fill="#ff00ff"/>
<circle cx="400.7" cy="724.56" r="3.5" fill="#ff00ff"/>
<circle cx="400.7" cy="737.89" r="3.5" fill="#ff00ff"/>
<circle cx="400.7" cy="751.22" r="3.5" fill="#ff00ff"/>
<circle cx="400.7" cy="764.56" r="3.5" fill="#ff00ff"/>
<circle cx="400.7" cy="777.89" r="3.5" fill="#ff00ff"/>
<circle cx="400.7" cy="791.22" r="3.5" fill="#ff00ff"/>
<circle cx="400.7" cy="804.55" r="3.5" fill="#ff00ff"/>
<circle cx="400.7" cy="817.89" r="3.5" fill="#ff00ff"/>
<circle cx="400.7" cy="831.22" r="3.5" fill="#ff00ff"/>
<circle cx="400.7" cy="844.55" r="3.5" fill="#ff00ff"/>
<circle cx="400.7" cy="857.89" r="3.5" fill="#ff00ff"/>
<circle cx="400.7" cy="871.22" r="3.5" fill="#ff00ff"/>
<circle cx="400.7" cy="884.55" r="3.5" fill="#ff00ff"/>
<circle cx="453.7" cy="924.55" r="3.5" fill="#ff00ff"/>
<circle cx="400.7" cy="977.88" r="3.5" fill="#ff00ff"/>
<circle cx="400.7" cy="991.22" r="3.5" fill="#ff00ff"/>
<circle cx="400.7" cy="1004.55" r="3.5" fill="#ff00ff"/>
<circle cx="400.7" cy="1017.88" r="3.5" fill="#ff00ff"/>
<circle cx="400.7" cy="1031.22" r="3.5" fill="#ff00ff"/>
<circle cx="400.7" cy="1044.55" r="3.5" fill="#ff00ff"/>
<circle cx="400.7" cy="1057.88" r="3.5" fill="#ff00ff"/>
<circle cx="467" cy="44" r="3.5" fill="#ff00ff"/>
<circle cx="494" cy="44" r="3.5" fill="#ff00ff"/>
<circle cx="600.67" cy="44" r="3.5" fill="#ff00ff"/>
<circle cx="707.33" cy="44" r="3.5" fill="#ff00ff"/>
<circle cx="814" cy="44" r="3.5" fill="#ff00ff"/>
<circle cx="600.67" cy="97.4" r="3.5" fill="#ff00ff"/>
<circle cx="654" cy="150.7" r="3.5" fill="#ff00ff"/>
<circle cx="707.33" cy="97.4" r="3.5" fill="#ff00ff"/>
<circle cx="760.66" cy="150.7" r="3.5" fill="#ff00ff"/>
<circle cx="814" cy="97.4" r="3.5" fill="#ff00ff"/>
<circle cx="880.67" cy="150.7" r="3.5" fill="#ff00ff"/>
<circle cx="974" cy="44" r="3.5" fill="#ff00ff"/>
<circle cx="974" cy="150.7" r="3.5" fill="#ff00ff"/>
<circle cx="1040.67" cy="44" r="3.5" fill="#ff00ff"/>
<circle cx="1040.67" cy="150.7" r="3.5" fill="#ff00ff"/>
<circle cx="1107.33" cy="44" r="3.5" fill="#ff00ff"/>
<circle cx="1107.33" cy="150.7" r="3.5" fill="#ff00ff"/>
<circle cx="1174" cy="44" r="3.5" fill="#ff00ff"/>
<circle cx="1174" cy="150.7" r="3.5" fill="#ff00ff"/>
<circle cx="934" cy="44" r="3.5" fill="#ff00ff"/>
<circle cx="494" cy="190.7" r="3.5" fill="#ff00ff"/>
<circle cx="600.67" cy="190.7" r="3.5" fill="#ff00ff"/>
<circle cx="707.33" cy="190.7" r="3.5" fill="#ff00ff"/>
<circle cx="814" cy="190.7" r="3.5" fill="#ff00ff"/>
<circle cx="934" cy="190.7" r="3.5" fill="#ff00ff"/>
<circle cx="1040.67" cy="190.7" r="3.5" fill="#ff00ff"/>
<circle cx="600.67" cy="244.1" r="3.5" fill="#ff00ff"/>
<circle cx="654" cy="284.2" r="3.5" fill="#ff00ff"/>
<circle cx="707.33" cy="244.1" r="3.5" fill="#ff00ff"/>
<circle cx="760.66" cy="284.2" r="3.5" fill="#ff00ff"/>
<circle cx="814" cy="244.1" r="3.5" fill="#ff00ff"/>
<circle cx="880.67" cy="284.2" r="3.5" fill="#ff00ff"/>
<circle cx="934" cy="244.1" r="3.5" fill="#ff00ff"/>
<circle cx="987.33" cy="284.2" r="3.5" fill="#ff00ff"/>
<circle cx="1040.67" cy="244.1" r="3.5" fill="#ff00ff"/>
<circle cx="1094" cy="284.2" r="3.5" fill="#ff00ff"/>
<circle cx="494" cy="324.57" r="3.5" fill="#ff00ff"/>
<circle cx="600.67" cy="324.57" r="3.5" fill="#ff00ff"/>
<circle cx="707.33" cy="324.57" r="3.5" fill="#ff00ff"/>
<circle cx="814" cy="324.57" r="3.5" fill="#ff00ff"/>
<circle cx="934" cy="324.57" r="3.5" fill="#ff00ff"/>
<circle cx="1040.67" cy="324.57" r="3.5" fill="#ff00ff"/>
<circle cx="1147.33" cy="324.57" r="3.5" fill="#ff00ff"/>
<circle cx="1254" cy="324.57" r="3.5" fill="#ff00ff"/>
<circle cx="600.67" cy="377.97" r="3.5" fill="#ff00ff"/>
<circle cx="654" cy="417.87" r="3.5" fill="#ff00ff"/>
<circle cx="707.33" cy="377.97" r="3.5" fill="#ff00ff"/>
<circle cx="760.66" cy="417.87" r="3.5" fill="#ff00ff"/>
<circle cx="814" cy="377.97" r="3.5" fill="#ff00ff"/>
<circle cx="880.67" cy="417.87" r="3.5" fill="#ff00ff"/>
<circle cx="934" cy="377.97" r="3.5" fill="#ff00ff"/>
<circle cx="987.33" cy="417.87" r="3.5" fill="#ff00ff"/>
<circle cx="1040.67" cy="377.97" r="3.5" fill="#ff00ff"/>
<circle cx="1094" cy="417.87" r="3.5" fill="#ff00ff"/>
<circle cx="1147.33" cy="377.97" r="3.5" fill="#ff00ff"/>
<circle cx="1200.66" cy="417.87" r="3.5" fill="#ff00ff"/>
<circle cx="1254" cy="377.97" r="3.5" fill="#ff00ff"/>
<circle cx="1307.33" cy="417.87" r="3.5" fill="#ff00ff"/>
<circle cx="494" cy="457.9" r="3.5" fill="#ff00ff"/>
<circle cx="600.67" cy="457.9" r="3.5" fill="#ff00ff"/>
<circle cx="707.33" cy="457.9" r="3.5" fill="#ff00ff"/>
<circle cx="814" cy="457.9" r="3.5" fill="#ff00ff"/>
<circle cx="934" cy="457.9" r="3.5" fill="#ff00ff"/>
<circle cx="1040.67" cy="457.9" r="3.5" fill="#ff00ff"/>
<circle cx="1147.33" cy="457.9" r="3.5" fill="#ff00ff"/>
<circle cx="1254" cy="457.9" r="3.5" fill="#ff00ff"/>
<circle cx="600.67" cy="511.3" r="3.5" fill="#ff00ff"/>
<circle cx="654" cy="551.2" r="3.5" fill="#ff00ff"/>
<circle cx="707.33" cy="511.3" r="3.5" fill="#ff00ff"/>
<circle cx="760.66" cy="551.2" r="3.5" fill="#ff00ff"/>
<circle cx="814" cy="511.3" r="3.5" fill="#ff00ff"/>
<circle cx="880.67" cy="551.2" r="3.5" fill="#ff00ff"/>
<circle cx="934" cy="511.3" r="3.5" fill="#ff00ff"/>
<circle cx="987.33" cy="551.2" r="3.5" fill="#ff00ff"/>
<circle cx="1040.67" cy="511.3" r="3.5" fill="#ff00ff"/>
<circle cx="1094" cy="551.2" r="3.5" fill="#ff00ff"/>
<circle cx="1147.33" cy="511.3" r="3.5" fill="#ff00ff"/>
<circle cx="1200.66" cy="551.2" r="3.5" fill="#ff00ff"/>
<circle cx="1254" cy="511.3" r="3.5" fill="#ff00ff"/>
<circle cx="1307.33" cy="551.2" r="3.5" fill="#ff00ff"/>
<circle cx="494" cy="591.23" r="3.5" fill="#ff00ff"/>
<circle cx="600.67" cy="591.23" r="3.5" fill="#ff00ff"/>
<circle cx="707.33" cy="591.23" r="3.5" fill="#ff00ff"/>
<circle cx="814" cy="591.23" r="3.5" fill="#ff00ff"/>
<circle cx="934" cy="591.23" r="3.5" fill="#ff00ff"/>
<circle cx="1040.67" cy="591.23" r="3.5" fill="#ff00ff"/>
<circle cx="1147.33" cy="591.23" r="3.5" fill="#ff00ff"/>
<circle cx="1254" cy="591.23" r="3.5" fill="#ff00ff"/>
<circle cx="600.67" cy="644.63" r="3.5" fill="#ff00ff"/>
<circle cx="654" cy="684.53" r="3.5" fill="#ff00ff"/>
<circle cx="707.33" cy="644.63" r="3.5" fill="#ff00ff"/>
<circle cx="760.66" cy="684.53" r="3.5" fill="#ff00ff"/>
<circle cx="814" cy="644.63" r="3.5" fill="#ff00ff"/>
<circle cx="880.67" cy="684.53" r="3.5" fill="#ff00ff"/>
<circle cx="934" cy="644.63" r="3.5" fill="#ff00ff"/>
<circle cx="987.33" cy="684.53" r="3.5" fill="#ff00ff"/>
<circle cx="1040.67" cy="644.63" r="3.5" fill="#ff00ff"/>
<circle cx="1094" cy="684.53" r="3.5" fill="#ff00ff"/>
<circle cx="1147.33" cy="644.63" r="3.5" fill="#ff00ff"/>
<circle cx="1200.66" cy="684.53" r="3.5" fill="#ff00ff"/>
<circle cx="1254" cy="644.63" r="3.5" fill="#ff00ff"/>
<circle cx="1307.33" cy="684.53" r="3.5" fill="#ff00ff"/>
<circle cx="494" cy="724.56" r="3.5" fill="#ff00ff"/>
<circle cx="600.67" cy="724.56" r="3.5" fill="#ff00ff"/>
<circle cx="707.33" cy="724.56" r="3.5" fill="#ff00ff"/>
<circle cx="814" cy="724.56" r="3.5" fill="#ff00ff"/>
<circle cx="934" cy="724.56" r="3.5" fill="#ff00ff"/>
<circle cx="1040.67" cy="724.56" r="3.5" fill="#ff00ff"/>
<circle cx="1147.33" cy="724.56" r="3.5" fill="#ff00ff"/>
<circle cx="1254" cy="724.56" r="3.5" fill="#ff00ff"/>
<circle cx="600.67" cy="777.96" r="3.5" fill="#ff00ff"/>
<circle cx="654" cy="817.86" r="3.5" fill="#ff00ff"/>
<circle cx="707.33" cy="777.96" r="3.5" fill="#ff00ff"/>
<circle cx="760.66" cy="817.86" r="3.5" fill="#ff00ff"/>
<circle cx="814" cy="777.96" r="3.5" fill="#ff00ff"/>
<circle cx="880.67" cy="817.86" r="3.5" fill="#ff00ff"/>
<circle cx="934" cy="777.96" r="3.5" fill="#ff00ff"/>
<circle cx="987.33" cy="817.86" r="3.5" fill="#ff00ff"/>
<circle cx="1040.67" cy="777.96" r="3.5" fill="#ff00ff"/>
<circle cx="1094" cy="817.86" r="3.5" fill="#ff00ff"/>
<circle cx="1147.33" cy="777.96" r="3.5" fill="#ff00ff"/>
<circle cx="1200.66" cy="817.86" r="3.5" fill="#ff00ff"/>
<circle cx="1254" cy="777.96" r="3.5" fill="#ff00ff"/>
<circle cx="1307.33" cy="817.86" r="3.5" fill="#ff00ff"/>
<circle cx="440.3" cy="724.56" r="3.5" fill="#ff00ff"/>
<circle cx="713.8" cy="857.8" r="3.5" fill="#ff00ff"/>
<circle cx="780.37" cy="857.8" r="3.5" fill="#ff00ff"/>
<circle cx="780.37" cy="964.3" r="3.5" fill="#ff00ff"/>
<circle cx="846.94" cy="857.8" r="3.5" fill="#ff00ff"/>
<circle cx="846.94" cy="964.3" r="3.5" fill="#ff00ff"/>
<circle cx="913.51" cy="857.8" r="3.5" fill="#ff00ff"/>
<circle cx="913.51" cy="964.3" r="3.5" fill="#ff00ff"/>
<circle cx="980.08" cy="857.8" r="3.5" fill="#ff00ff"/>
<circle cx="980.08" cy="964.3" r="3.5" fill="#ff00ff"/>
<circle cx="1046.65" cy="857.8" r="3.5" fill="#ff00ff"/>
<circle cx="1046.65" cy="964.3" r="3.5" fill="#ff00ff"/>
<circle cx="1113.22" cy="857.8" r="3.5" fill="#ff00ff"/>
<circle cx="1113.22" cy="964.3" r="3.5" fill="#ff00ff"/>
<circle cx="1179.79" cy="857.8" r="3.5" fill="#ff00ff"/>
<circle cx="1179.79" cy="964.3" r="3.5" fill="#ff00ff"/>
<circle cx="1246.36" cy="857.8" r="3.5" fill="#ff00ff"/>
<circle cx="1246.36" cy="964.3" r="3.5" fill="#ff00ff"/>
<circle cx="1312.93" cy="964.3" r="3.5" fill="#ff00ff"/>
<circle cx="293.7" cy="1177.6" r="3.5" fill="#ff00ff"/>
<circle cx="400.7" cy="1177.7" r="3.5" fill="#ff00ff"/>
<circle cx="467.1" cy="1177.7" r="3.5" fill="#ff00ff"/>
<circle cx="547.1" cy="1177.7" r="3.5" fill="#ff00ff"/>
<circle cx="547.1" cy="1244.6" r="3.5" fill="#ff00ff"/>
<circle cx="620.3" cy="1177.7" r="3.5" fill="#ff00ff"/>
<circle cx="620.3" cy="1244.6" r="3.5" fill="#ff00ff"/>
<circle cx="700.2" cy="1177.7" r="3.5" fill="#ff00ff"/>
<circle cx="700.2" cy="1244.6" r="3.5" fill="#ff00ff"/>
<circle cx="947" cy="1177.7" r="3.5" fill="#ff00ff"/>
<circle cx="1068" cy="1177.7" r="3.5" fill="#ff00ff"/>
<circle cx="1147.3" cy="1177.7" r="3.5" fill="#ff00ff"/>
<circle cx="400.7" cy="1297.3" r="3.5" fill="#ff00ff"/>
<circle cx="473.3" cy="1297.3" r="3.5" fill="#ff00ff"/>
<circle cx="553.3" cy="1297.3" r="3.5" fill="#ff00ff"/>
<circle cx="553.3" cy="1364.1" r="3.5" fill="#ff00ff"/>
<circle cx="626.7" cy="1297.3" r="3.5" fill="#ff00ff"/>
<circle cx="626.7" cy="1364.1" r="3.5" fill="#ff00ff"/>
<circle cx="706.7" cy="1364.1" r="3.5" fill="#ff00ff"/>
<circle cx="427.33" cy="1404.6" r="3.5" fill="#ff00ff"/>
<circle cx="534" cy="1404.6" r="3.5" fill="#ff00ff"/>
<circle cx="640.67" cy="1404.6" r="3.5" fill="#ff00ff"/>
<circle cx="747.33" cy="1404.6" r="3.5" fill="#ff00ff"/>
<circle cx="867.33" cy="1404.6" r="3.5" fill="#ff00ff"/>
<circle cx="534" cy="1458" r="3.5" fill="#ff00ff"/>
<circle cx="587.33" cy="1497.3" r="3.5" fill="#ff00ff"/>
<circle cx="640.67" cy="1458" r="3.5" fill="#ff00ff"/>
<circle cx="694" cy="1497.3" r="3.5" fill="#ff00ff"/>
<circle cx="747.33" cy="1458" r="3.5" fill="#ff00ff"/>
<circle cx="814" cy="1497.3" r="3.5" fill="#ff00ff"/>
<circle cx="867.33" cy="1458" r="3.5" fill="#ff00ff"/>
<circle cx="920.66" cy="1497.3" r="3.5" fill="#ff00ff"/>
<g filter="url(#crisp)"><text x="0.8" y="268.4" fill="#000080" stroke="#000080" font-size="12" textLength="27" lengthAdjust="spacingAndGlyphs">U26T</text>
<text x="19" y="296.7" fill="#0000ff" stroke="#0000ff" font-size="16" textLength="92.7" lengthAdjust="spacingAndGlyphs" style="stroke-width:0.7px">Digital Power</text>
<text x="0.5" y="1109.7" fill="#000080" stroke="#000080" font-size="12" textLength="80" lengthAdjust="spacingAndGlyphs">XJ72295AAMW</text>
<text x="0.5" y="1123" fill="#000000" stroke="#000000" font-size="12" textLength="130" lengthAdjust="spacingAndGlyphs">BGA594_0d65_16X16mm</text>
<text x="0.5" y="1136" fill="#000000" stroke="#000000" font-size="12" textLength="57" lengthAdjust="spacingAndGlyphs">FCBGA594</text>
<text x="327.5" y="303.3" fill="#004080" stroke="#004080" font-size="12" text-anchor="end" textLength="66.4" lengthAdjust="spacingAndGlyphs">VDD_CORE</text>
<text x="343" y="294.9" fill="#000000" stroke="#000000" font-size="12" textLength="17.62" lengthAdjust="spacingAndGlyphs">J11</text>
<text x="327.5" y="316.63" fill="#004080" stroke="#004080" font-size="12" text-anchor="end" textLength="66.4" lengthAdjust="spacingAndGlyphs">VDD_CORE</text>
<text x="343" y="308.23" fill="#000000" stroke="#000000" font-size="12" textLength="18.21" lengthAdjust="spacingAndGlyphs">J14</text>
<text x="327.5" y="329.97" fill="#004080" stroke="#004080" font-size="12" text-anchor="end" textLength="66.4" lengthAdjust="spacingAndGlyphs">VDD_CORE</text>
<text x="343" y="321.57" fill="#000000" stroke="#000000" font-size="12" textLength="18.21" lengthAdjust="spacingAndGlyphs">J16</text>
<text x="327.5" y="343.3" fill="#004080" stroke="#004080" font-size="12" text-anchor="end" textLength="66.4" lengthAdjust="spacingAndGlyphs">VDD_CORE</text>
<text x="343" y="334.9" fill="#000000" stroke="#000000" font-size="12" textLength="18.21" lengthAdjust="spacingAndGlyphs">J18</text>
<text x="327.5" y="356.63" fill="#004080" stroke="#004080" font-size="12" text-anchor="end" textLength="66.4" lengthAdjust="spacingAndGlyphs">VDD_CORE</text>
<text x="343" y="348.23" fill="#000000" stroke="#000000" font-size="12" textLength="13.96" lengthAdjust="spacingAndGlyphs">K9</text>
<text x="327.5" y="369.96" fill="#004080" stroke="#004080" font-size="12" text-anchor="end" textLength="66.4" lengthAdjust="spacingAndGlyphs">VDD_CORE</text>
<text x="343" y="361.56" fill="#000000" stroke="#000000" font-size="12" textLength="19.44" lengthAdjust="spacingAndGlyphs">K11</text>
<text x="327.5" y="383.3" fill="#004080" stroke="#004080" font-size="12" text-anchor="end" textLength="66.4" lengthAdjust="spacingAndGlyphs">VDD_CORE</text>
<text x="343" y="374.9" fill="#000000" stroke="#000000" font-size="12" textLength="20.03" lengthAdjust="spacingAndGlyphs">K12</text>
<text x="327.5" y="396.63" fill="#004080" stroke="#004080" font-size="12" text-anchor="end" textLength="66.4" lengthAdjust="spacingAndGlyphs">VDD_CORE</text>
<text x="343" y="388.23" fill="#000000" stroke="#000000" font-size="12" textLength="20.03" lengthAdjust="spacingAndGlyphs">K14</text>
<text x="327.5" y="409.96" fill="#004080" stroke="#004080" font-size="12" text-anchor="end" textLength="66.4" lengthAdjust="spacingAndGlyphs">VDD_CORE</text>
<text x="343" y="401.56" fill="#000000" stroke="#000000" font-size="12" textLength="20.03" lengthAdjust="spacingAndGlyphs">K16</text>
<text x="327.5" y="423.3" fill="#004080" stroke="#004080" font-size="12" text-anchor="end" textLength="66.4" lengthAdjust="spacingAndGlyphs">VDD_CORE</text>
<text x="343" y="414.9" fill="#000000" stroke="#000000" font-size="12" textLength="20.03" lengthAdjust="spacingAndGlyphs">K18</text>
<text x="327.5" y="436.63" fill="#004080" stroke="#004080" font-size="12" text-anchor="end" textLength="66.4" lengthAdjust="spacingAndGlyphs">VDD_CORE</text>
<text x="343" y="428.23" fill="#000000" stroke="#000000" font-size="12" textLength="18.81" lengthAdjust="spacingAndGlyphs">L12</text>
<text x="327.5" y="449.96" fill="#004080" stroke="#004080" font-size="12" text-anchor="end" textLength="66.4" lengthAdjust="spacingAndGlyphs">VDD_CORE</text>
<text x="343" y="441.56" fill="#000000" stroke="#000000" font-size="12" textLength="20.03" lengthAdjust="spacingAndGlyphs">N16</text>
<text x="327.5" y="463.3" fill="#004080" stroke="#004080" font-size="12" text-anchor="end" textLength="66.4" lengthAdjust="spacingAndGlyphs">VDD_CORE</text>
<text x="343" y="454.9" fill="#000000" stroke="#000000" font-size="12" textLength="15.17" lengthAdjust="spacingAndGlyphs">M9</text>
<text x="327.5" y="476.63" fill="#004080" stroke="#004080" font-size="12" text-anchor="end" textLength="66.4" lengthAdjust="spacingAndGlyphs">VDD_CORE</text>
<text x="343" y="468.23" fill="#000000" stroke="#000000" font-size="12" textLength="21.24" lengthAdjust="spacingAndGlyphs">M10</text>
<text x="327.5" y="489.96" fill="#004080" stroke="#004080" font-size="12" text-anchor="end" textLength="66.4" lengthAdjust="spacingAndGlyphs">VDD_CORE</text>
<text x="343" y="481.56" fill="#000000" stroke="#000000" font-size="12" textLength="21.24" lengthAdjust="spacingAndGlyphs">M15</text>
<text x="327.5" y="503.29" fill="#004080" stroke="#004080" font-size="12" text-anchor="end" textLength="66.4" lengthAdjust="spacingAndGlyphs">VDD_CORE</text>
<text x="343" y="494.89" fill="#000000" stroke="#000000" font-size="12" textLength="20.03" lengthAdjust="spacingAndGlyphs">N10</text>
<text x="327.5" y="516.63" fill="#004080" stroke="#004080" font-size="12" text-anchor="end" textLength="66.4" lengthAdjust="spacingAndGlyphs">VDD_CORE</text>
<text x="343" y="508.23" fill="#000000" stroke="#000000" font-size="12" textLength="19.44" lengthAdjust="spacingAndGlyphs">N11</text>
<text x="327.5" y="529.96" fill="#004080" stroke="#004080" font-size="12" text-anchor="end" textLength="66.4" lengthAdjust="spacingAndGlyphs">VDD_CORE</text>
<text x="343" y="521.56" fill="#000000" stroke="#000000" font-size="12" textLength="20.03" lengthAdjust="spacingAndGlyphs">N14</text>
<text x="327.5" y="543.29" fill="#004080" stroke="#004080" font-size="12" text-anchor="end" textLength="66.4" lengthAdjust="spacingAndGlyphs">VDD_CORE</text>
<text x="343" y="534.89" fill="#000000" stroke="#000000" font-size="12" textLength="18.81" lengthAdjust="spacingAndGlyphs">L17</text>
<text x="327.5" y="556.63" fill="#004080" stroke="#004080" font-size="12" text-anchor="end" textLength="66.4" lengthAdjust="spacingAndGlyphs">VDD_CORE</text>
<text x="343" y="548.23" fill="#000000" stroke="#000000" font-size="12" textLength="20.03" lengthAdjust="spacingAndGlyphs">N18</text>
<text x="327.5" y="569.96" fill="#004080" stroke="#004080" font-size="12" text-anchor="end" textLength="66.4" lengthAdjust="spacingAndGlyphs">VDD_CORE</text>
<text x="343" y="561.56" fill="#000000" stroke="#000000" font-size="12" textLength="18.83" lengthAdjust="spacingAndGlyphs">P11</text>
<text x="327.5" y="583.29" fill="#004080" stroke="#004080" font-size="12" text-anchor="end" textLength="66.4" lengthAdjust="spacingAndGlyphs">VDD_CORE</text>
<text x="343" y="574.89" fill="#000000" stroke="#000000" font-size="12" textLength="19.42" lengthAdjust="spacingAndGlyphs">P12</text>
<text x="327.5" y="596.63" fill="#004080" stroke="#004080" font-size="12" text-anchor="end" textLength="66.4" lengthAdjust="spacingAndGlyphs">VDD_CORE</text>
<text x="343" y="588.23" fill="#000000" stroke="#000000" font-size="12" textLength="19.42" lengthAdjust="spacingAndGlyphs">P14</text>
<text x="327.5" y="609.96" fill="#004080" stroke="#004080" font-size="12" text-anchor="end" textLength="66.4" lengthAdjust="spacingAndGlyphs">VDD_CORE</text>
<text x="343" y="601.56" fill="#000000" stroke="#000000" font-size="12" textLength="21.24" lengthAdjust="spacingAndGlyphs">M17</text>
<text x="327.5" y="623.29" fill="#004080" stroke="#004080" font-size="12" text-anchor="end" textLength="66.4" lengthAdjust="spacingAndGlyphs">VDD_CORE</text>
<text x="343" y="614.89" fill="#000000" stroke="#000000" font-size="12" textLength="19.42" lengthAdjust="spacingAndGlyphs">P16</text>
<text x="327.5" y="636.62" fill="#004080" stroke="#004080" font-size="12" text-anchor="end" textLength="66.4" lengthAdjust="spacingAndGlyphs">VDD_CORE</text>
<text x="343" y="628.22" fill="#000000" stroke="#000000" font-size="12" textLength="20.03" lengthAdjust="spacingAndGlyphs">R12</text>
<text x="327.5" y="649.96" fill="#004080" stroke="#004080" font-size="12" text-anchor="end" textLength="66.4" lengthAdjust="spacingAndGlyphs">VDD_CORE</text>
<text x="343" y="641.56" fill="#000000" stroke="#000000" font-size="12" textLength="20.03" lengthAdjust="spacingAndGlyphs">R13</text>
<text x="327.5" y="663.29" fill="#004080" stroke="#004080" font-size="12" text-anchor="end" textLength="66.4" lengthAdjust="spacingAndGlyphs">VDD_CORE</text>
<text x="343" y="654.89" fill="#000000" stroke="#000000" font-size="12" textLength="20.03" lengthAdjust="spacingAndGlyphs">R15</text>
<text x="327.5" y="676.62" fill="#004080" stroke="#004080" font-size="12" text-anchor="end" textLength="66.4" lengthAdjust="spacingAndGlyphs">VDD_CORE</text>
<text x="343" y="668.22" fill="#000000" stroke="#000000" font-size="12" textLength="20.03" lengthAdjust="spacingAndGlyphs">R17</text>
<text x="327.5" y="689.96" fill="#004080" stroke="#004080" font-size="12" text-anchor="end" textLength="66.4" lengthAdjust="spacingAndGlyphs">VDD_CORE</text>
<text x="343" y="681.56" fill="#000000" stroke="#000000" font-size="12" textLength="18.81" lengthAdjust="spacingAndGlyphs">T13</text>
<text x="327.5" y="703.29" fill="#004080" stroke="#004080" font-size="12" text-anchor="end" textLength="66.4" lengthAdjust="spacingAndGlyphs">VDD_CORE</text>
<text x="343" y="694.89" fill="#000000" stroke="#000000" font-size="12" textLength="18.81" lengthAdjust="spacingAndGlyphs">T15</text>
<text x="327.5" y="716.62" fill="#004080" stroke="#004080" font-size="12" text-anchor="end" textLength="66.4" lengthAdjust="spacingAndGlyphs">VDD_CORE</text>
<text x="343" y="708.22" fill="#000000" stroke="#000000" font-size="12" textLength="18.81" lengthAdjust="spacingAndGlyphs">T17</text>
<text x="327.5" y="729.96" fill="#004080" stroke="#004080" font-size="12" text-anchor="end" textLength="66.4" lengthAdjust="spacingAndGlyphs">VDD_CORE</text>
<text x="343" y="721.56" fill="#000000" stroke="#000000" font-size="12" textLength="13.96" lengthAdjust="spacingAndGlyphs">U8</text>
<text x="327.5" y="743.29" fill="#004080" stroke="#004080" font-size="12" text-anchor="end" textLength="66.4" lengthAdjust="spacingAndGlyphs">VDD_CORE</text>
<text x="343" y="734.89" fill="#000000" stroke="#000000" font-size="12" textLength="13.96" lengthAdjust="spacingAndGlyphs">R9</text>
<text x="327.5" y="756.62" fill="#004080" stroke="#004080" font-size="12" text-anchor="end" textLength="66.4" lengthAdjust="spacingAndGlyphs">VDD_CORE</text>
<text x="343" y="748.22" fill="#000000" stroke="#000000" font-size="12" textLength="20.03" lengthAdjust="spacingAndGlyphs">U12</text>
<text x="327.5" y="769.96" fill="#004080" stroke="#004080" font-size="12" text-anchor="end" textLength="66.4" lengthAdjust="spacingAndGlyphs">VDD_CORE</text>
<text x="343" y="761.56" fill="#000000" stroke="#000000" font-size="12" textLength="20.03" lengthAdjust="spacingAndGlyphs">U14</text>
<text x="327.5" y="783.29" fill="#004080" stroke="#004080" font-size="12" text-anchor="end" textLength="66.4" lengthAdjust="spacingAndGlyphs">VDD_CORE</text>
<text x="343" y="774.89" fill="#000000" stroke="#000000" font-size="12" textLength="20.03" lengthAdjust="spacingAndGlyphs">U16</text>
<text x="327.5" y="796.62" fill="#004080" stroke="#004080" font-size="12" text-anchor="end" textLength="66.4" lengthAdjust="spacingAndGlyphs">VDD_CORE</text>
<text x="343" y="788.22" fill="#000000" stroke="#000000" font-size="12" textLength="13.35" lengthAdjust="spacingAndGlyphs">V8</text>
<text x="327.5" y="809.95" fill="#004080" stroke="#004080" font-size="12" text-anchor="end" textLength="66.4" lengthAdjust="spacingAndGlyphs">VDD_CORE</text>
<text x="343" y="801.55" fill="#000000" stroke="#000000" font-size="12" textLength="12.74" lengthAdjust="spacingAndGlyphs">T9</text>
<text x="327.5" y="823.29" fill="#004080" stroke="#004080" font-size="12" text-anchor="end" textLength="66.4" lengthAdjust="spacingAndGlyphs">VDD_CORE</text>
<text x="343" y="814.89" fill="#000000" stroke="#000000" font-size="12" textLength="19.42" lengthAdjust="spacingAndGlyphs">V12</text>
<text x="327.5" y="836.62" fill="#004080" stroke="#004080" font-size="12" text-anchor="end" textLength="66.4" lengthAdjust="spacingAndGlyphs">VDD_CORE</text>
<text x="343" y="828.22" fill="#000000" stroke="#000000" font-size="12" textLength="19.42" lengthAdjust="spacingAndGlyphs">V14</text>
<text x="327.5" y="849.95" fill="#004080" stroke="#004080" font-size="12" text-anchor="end" textLength="66.4" lengthAdjust="spacingAndGlyphs">VDD_CORE</text>
<text x="343" y="841.55" fill="#000000" stroke="#000000" font-size="12" textLength="19.42" lengthAdjust="spacingAndGlyphs">V16</text>
<text x="327.5" y="863.29" fill="#004080" stroke="#004080" font-size="12" text-anchor="end" textLength="66.4" lengthAdjust="spacingAndGlyphs">VDD_CORE</text>
<text x="343" y="854.89" fill="#000000" stroke="#000000" font-size="12" textLength="19.42" lengthAdjust="spacingAndGlyphs">V19</text>
<text x="327.5" y="876.62" fill="#004080" stroke="#004080" font-size="12" text-anchor="end" textLength="66.4" lengthAdjust="spacingAndGlyphs">VDD_CORE</text>
<text x="343" y="868.22" fill="#000000" stroke="#000000" font-size="12" textLength="22.45" lengthAdjust="spacingAndGlyphs">W19</text>
<text x="327.5" y="889.95" fill="#004080" stroke="#004080" font-size="12" text-anchor="end" textLength="66.4" lengthAdjust="spacingAndGlyphs">VDD_CORE</text>
<text x="343" y="881.55" fill="#000000" stroke="#000000" font-size="12" textLength="19.42" lengthAdjust="spacingAndGlyphs">Y20</text>
<text x="327.5" y="903.28" fill="#004080" stroke="#004080" font-size="12" text-anchor="end" textLength="66.4" lengthAdjust="spacingAndGlyphs">VDD_CORE</text>
<text x="343" y="894.88" fill="#000000" stroke="#000000" font-size="12" textLength="19.42" lengthAdjust="spacingAndGlyphs">Y21</text>
<text x="327.5" y="929.95" fill="#004080" stroke="#004080" font-size="12" text-anchor="end" textLength="89" lengthAdjust="spacingAndGlyphs">VDD_CANUART</text>
<text x="343" y="921.55" fill="#000000" stroke="#000000" font-size="12" textLength="12.14" lengthAdjust="spacingAndGlyphs">J8</text>
<text x="456.4" y="920" fill="#ff0000" stroke="#ff0000" font-size="12" textLength="84.4" lengthAdjust="spacingAndGlyphs">VDD_CANUART</text>
<text x="327.5" y="969.95" fill="#004080" stroke="#004080" font-size="12" text-anchor="end" textLength="74" lengthAdjust="spacingAndGlyphs">VDDR_CORE</text>
<text x="343" y="961.55" fill="#000000" stroke="#000000" font-size="12" textLength="21.24" lengthAdjust="spacingAndGlyphs">M13</text>
<text x="327.5" y="983.28" fill="#004080" stroke="#004080" font-size="12" text-anchor="end" textLength="74" lengthAdjust="spacingAndGlyphs">VDDR_CORE</text>
<text x="343" y="974.88" fill="#000000" stroke="#000000" font-size="12" textLength="21.24" lengthAdjust="spacingAndGlyphs">M19</text>
<text x="327.5" y="996.62" fill="#004080" stroke="#004080" font-size="12" text-anchor="end" textLength="74" lengthAdjust="spacingAndGlyphs">VDDR_CORE</text>
<text x="343" y="988.22" fill="#000000" stroke="#000000" font-size="12" textLength="20.03" lengthAdjust="spacingAndGlyphs">N13</text>
<text x="327.5" y="1009.95" fill="#004080" stroke="#004080" font-size="12" text-anchor="end" textLength="74" lengthAdjust="spacingAndGlyphs">VDDR_CORE</text>
<text x="343" y="1001.55" fill="#000000" stroke="#000000" font-size="12" textLength="20.03" lengthAdjust="spacingAndGlyphs">N19</text>
<text x="327.5" y="1023.28" fill="#004080" stroke="#004080" font-size="12" text-anchor="end" textLength="74" lengthAdjust="spacingAndGlyphs">VDDR_CORE</text>
<text x="343" y="1014.88" fill="#000000" stroke="#000000" font-size="12" textLength="20.03" lengthAdjust="spacingAndGlyphs">U10</text>
<text x="327.5" y="1036.62" fill="#004080" stroke="#004080" font-size="12" text-anchor="end" textLength="74" lengthAdjust="spacingAndGlyphs">VDDR_CORE</text>
<text x="343" y="1028.22" fill="#000000" stroke="#000000" font-size="12" textLength="19.42" lengthAdjust="spacingAndGlyphs">V10</text>
<text x="327.5" y="1049.95" fill="#004080" stroke="#004080" font-size="12" text-anchor="end" textLength="74" lengthAdjust="spacingAndGlyphs">VDDR_CORE</text>
<text x="343" y="1041.55" fill="#000000" stroke="#000000" font-size="12" textLength="20.03" lengthAdjust="spacingAndGlyphs">U17</text>
<text x="327.5" y="1063.28" fill="#004080" stroke="#004080" font-size="12" text-anchor="end" textLength="74" lengthAdjust="spacingAndGlyphs">VDDR_CORE</text>
<text x="343" y="1054.88" fill="#000000" stroke="#000000" font-size="12" textLength="19.42" lengthAdjust="spacingAndGlyphs">V17</text>
<text x="327.5" y="1089.95" fill="#004080" stroke="#004080" font-size="12" text-anchor="end" textLength="64" lengthAdjust="spacingAndGlyphs">VDD_MMC0</text>
<text x="343" y="1081.55" fill="#000000" stroke="#000000" font-size="12" textLength="22.45" lengthAdjust="spacingAndGlyphs">W10</text>
<text x="505.13" y="95.5" fill="#000000" stroke="#000000" font-size="12" textLength="6" lengthAdjust="spacingAndGlyphs">1</text>
<text x="583.93" y="95.5" fill="#000000" stroke="#000000" font-size="12" textLength="6.5" lengthAdjust="spacingAndGlyphs">3</text>
<text x="0" y="0" fill="#000000" stroke="#000000" font-size="12" transform="translate(544.83,126.9) rotate(-90)" textLength="7" lengthAdjust="spacingAndGlyphs">2</text>
<text x="507.43" y="68.6" fill="#000080" stroke="#000080" font-size="12" textLength="26.11" lengthAdjust="spacingAndGlyphs">C399</text>
<text x="548.13" y="68.6" fill="#000080" stroke="#000080" font-size="12" textLength="25.48" lengthAdjust="spacingAndGlyphs">10uF</text>
<text x="507.83" y="81.9" fill="#800000" stroke="#800000" font-size="12" textLength="85.55" lengthAdjust="spacingAndGlyphs">EMIFIL_0603_3P</text>
<text x="507.83" y="121.9" fill="#000000" stroke="#000000" font-size="12" textLength="23.06" lengthAdjust="spacingAndGlyphs">DNP</text>
<text x="611.8" y="95.5" fill="#000000" stroke="#000000" font-size="12" textLength="6" lengthAdjust="spacingAndGlyphs">1</text>
<text x="690.6" y="95.5" fill="#000000" stroke="#000000" font-size="12" textLength="6.5" lengthAdjust="spacingAndGlyphs">3</text>
<text x="0" y="0" fill="#000000" stroke="#000000" font-size="12" transform="translate(651.5,126.9) rotate(-90)" textLength="7" lengthAdjust="spacingAndGlyphs">2</text>
<text x="614.1" y="68.6" fill="#000080" stroke="#000080" font-size="12" textLength="26.11" lengthAdjust="spacingAndGlyphs">C342</text>
<text x="654.8" y="68.6" fill="#000080" stroke="#000080" font-size="12" textLength="25.48" lengthAdjust="spacingAndGlyphs">10uF</text>
<text x="614.5" y="81.9" fill="#800000" stroke="#800000" font-size="12" textLength="85.55" lengthAdjust="spacingAndGlyphs">EMIFIL_0603_3P</text>
<text x="614.5" y="121.9" fill="#000000" stroke="#000000" font-size="12" textLength="23.06" lengthAdjust="spacingAndGlyphs">DNP</text>
<text x="718.46" y="95.5" fill="#000000" stroke="#000000" font-size="12" textLength="6" lengthAdjust="spacingAndGlyphs">1</text>
<text x="797.26" y="95.5" fill="#000000" stroke="#000000" font-size="12" textLength="6.5" lengthAdjust="spacingAndGlyphs">3</text>
<text x="0" y="0" fill="#000000" stroke="#000000" font-size="12" transform="translate(758.16,126.9) rotate(-90)" textLength="7" lengthAdjust="spacingAndGlyphs">2</text>
<text x="720.76" y="68.6" fill="#000080" stroke="#000080" font-size="12" textLength="26.11" lengthAdjust="spacingAndGlyphs">C344</text>
<text x="761.46" y="68.6" fill="#000080" stroke="#000080" font-size="12" textLength="25.48" lengthAdjust="spacingAndGlyphs">10uF</text>
<text x="721.16" y="81.9" fill="#800000" stroke="#800000" font-size="12" textLength="85.55" lengthAdjust="spacingAndGlyphs">EMIFIL_0603_3P</text>
<text x="721.16" y="121.9" fill="#000000" stroke="#000000" font-size="12" textLength="23.06" lengthAdjust="spacingAndGlyphs">DNP</text>
<text x="838.47" y="95.5" fill="#000000" stroke="#000000" font-size="12" textLength="6" lengthAdjust="spacingAndGlyphs">1</text>
<text x="917.27" y="95.5" fill="#000000" stroke="#000000" font-size="12" textLength="6.5" lengthAdjust="spacingAndGlyphs">3</text>
<text x="0" y="0" fill="#000000" stroke="#000000" font-size="12" transform="translate(878.17,126.9) rotate(-90)" textLength="7" lengthAdjust="spacingAndGlyphs">2</text>
<text x="840.77" y="68.6" fill="#000080" stroke="#000080" font-size="12" textLength="26.11" lengthAdjust="spacingAndGlyphs">C343</text>
<text x="881.47" y="68.6" fill="#000080" stroke="#000080" font-size="12" textLength="25.48" lengthAdjust="spacingAndGlyphs">10uF</text>
<text x="841.17" y="81.9" fill="#800000" stroke="#800000" font-size="12" textLength="85.55" lengthAdjust="spacingAndGlyphs">EMIFIL_0603_3P</text>
<text x="841.17" y="121.9" fill="#000000" stroke="#000000" font-size="12" textLength="23.06" lengthAdjust="spacingAndGlyphs">DNP</text>
<text x="987.5" y="82.2" fill="#000080" stroke="#000080" font-size="12" textLength="20.03" lengthAdjust="spacingAndGlyphs">C83</text>
<text x="987.5" y="95.53" fill="#000080" stroke="#000080" font-size="12" textLength="31.55" lengthAdjust="spacingAndGlyphs">100uF</text>
<text x="987.5" y="108.86" fill="#800000" stroke="#800000" font-size="12" textLength="45.73" lengthAdjust="spacingAndGlyphs">6.3V,X5R</text>
<text x="987.5" y="122.19" fill="#800000" stroke="#800000" font-size="12" textLength="32.18" lengthAdjust="spacingAndGlyphs">C1206</text>
<text x="1054.17" y="82.2" fill="#000080" stroke="#000080" font-size="12" textLength="26.11" lengthAdjust="spacingAndGlyphs">C235</text>
<text x="1054.17" y="95.53" fill="#000080" stroke="#000080" font-size="12" textLength="31.55" lengthAdjust="spacingAndGlyphs">100uF</text>
<text x="1054.17" y="108.86" fill="#800000" stroke="#800000" font-size="12" textLength="45.73" lengthAdjust="spacingAndGlyphs">6.3V,X5R</text>
<text x="1054.17" y="122.19" fill="#800000" stroke="#800000" font-size="12" textLength="32.18" lengthAdjust="spacingAndGlyphs">C1206</text>
<text x="1120.83" y="82.2" fill="#000080" stroke="#000080" font-size="12" textLength="26.11" lengthAdjust="spacingAndGlyphs">C331</text>
<text x="1120.83" y="95.53" fill="#000080" stroke="#000080" font-size="12" textLength="31.55" lengthAdjust="spacingAndGlyphs">100uF</text>
<text x="1120.83" y="108.86" fill="#800000" stroke="#800000" font-size="12" textLength="45.73" lengthAdjust="spacingAndGlyphs">6.3V,X5R</text>
<text x="1120.83" y="122.19" fill="#800000" stroke="#800000" font-size="12" textLength="32.18" lengthAdjust="spacingAndGlyphs">C1206</text>
<text x="1187.5" y="82.2" fill="#000080" stroke="#000080" font-size="12" textLength="26.11" lengthAdjust="spacingAndGlyphs">C234</text>
<text x="1187.5" y="95.53" fill="#000080" stroke="#000080" font-size="12" textLength="31.55" lengthAdjust="spacingAndGlyphs">100uF</text>
<text x="1187.5" y="108.86" fill="#800000" stroke="#800000" font-size="12" textLength="45.73" lengthAdjust="spacingAndGlyphs">6.3V,X5R</text>
<text x="1187.5" y="122.19" fill="#800000" stroke="#800000" font-size="12" textLength="32.18" lengthAdjust="spacingAndGlyphs">C1206</text>
<text x="1187.5" y="135.52" fill="#000000" stroke="#000000" font-size="12" textLength="23.06" lengthAdjust="spacingAndGlyphs">DNP</text>
<text x="1260.3" y="8.7" fill="#000000" stroke="#000000" font-size="12" textLength="62.5" lengthAdjust="spacingAndGlyphs">VDD_CORE</text>
<text x="505.13" y="242.2" fill="#000000" stroke="#000000" font-size="12" textLength="6" lengthAdjust="spacingAndGlyphs">1</text>
<text x="583.93" y="242.2" fill="#000000" stroke="#000000" font-size="12" textLength="6.5" lengthAdjust="spacingAndGlyphs">3</text>
<text x="0" y="0" fill="#000000" stroke="#000000" font-size="12" transform="translate(544.83,273.6) rotate(-90)" textLength="7" lengthAdjust="spacingAndGlyphs">2</text>
<text x="507.43" y="215.3" fill="#000080" stroke="#000080" font-size="12" textLength="26.11" lengthAdjust="spacingAndGlyphs">C358</text>
<text x="548.13" y="215.3" fill="#000080" stroke="#000080" font-size="12" textLength="25.48" lengthAdjust="spacingAndGlyphs">10uF</text>
<text x="507.83" y="228.6" fill="#800000" stroke="#800000" font-size="12" textLength="85.55" lengthAdjust="spacingAndGlyphs">EMIFIL_0603_3P</text>
<text x="611.8" y="242.2" fill="#000000" stroke="#000000" font-size="12" textLength="6" lengthAdjust="spacingAndGlyphs">1</text>
<text x="690.6" y="242.2" fill="#000000" stroke="#000000" font-size="12" textLength="6.5" lengthAdjust="spacingAndGlyphs">3</text>
<text x="0" y="0" fill="#000000" stroke="#000000" font-size="12" transform="translate(651.5,273.6) rotate(-90)" textLength="7" lengthAdjust="spacingAndGlyphs">2</text>
<text x="614.1" y="215.3" fill="#000080" stroke="#000080" font-size="12" textLength="26.11" lengthAdjust="spacingAndGlyphs">C140</text>
<text x="654.8" y="215.3" fill="#000080" stroke="#000080" font-size="12" textLength="25.48" lengthAdjust="spacingAndGlyphs">10uF</text>
<text x="614.5" y="228.6" fill="#800000" stroke="#800000" font-size="12" textLength="85.55" lengthAdjust="spacingAndGlyphs">EMIFIL_0603_3P</text>
<text x="718.46" y="242.2" fill="#000000" stroke="#000000" font-size="12" textLength="6" lengthAdjust="spacingAndGlyphs">1</text>
<text x="797.26" y="242.2" fill="#000000" stroke="#000000" font-size="12" textLength="6.5" lengthAdjust="spacingAndGlyphs">3</text>
<text x="0" y="0" fill="#000000" stroke="#000000" font-size="12" transform="translate(758.16,273.6) rotate(-90)" textLength="7" lengthAdjust="spacingAndGlyphs">2</text>
<text x="720.76" y="215.3" fill="#000080" stroke="#000080" font-size="12" textLength="26.11" lengthAdjust="spacingAndGlyphs">C364</text>
<text x="761.46" y="215.3" fill="#000080" stroke="#000080" font-size="12" textLength="25.48" lengthAdjust="spacingAndGlyphs">10uF</text>
<text x="721.16" y="228.6" fill="#800000" stroke="#800000" font-size="12" textLength="85.55" lengthAdjust="spacingAndGlyphs">EMIFIL_0603_3P</text>
<text x="838.47" y="242.2" fill="#000000" stroke="#000000" font-size="12" textLength="6" lengthAdjust="spacingAndGlyphs">1</text>
<text x="917.27" y="242.2" fill="#000000" stroke="#000000" font-size="12" textLength="6.5" lengthAdjust="spacingAndGlyphs">3</text>
<text x="0" y="0" fill="#000000" stroke="#000000" font-size="12" transform="translate(878.17,273.6) rotate(-90)" textLength="7" lengthAdjust="spacingAndGlyphs">2</text>
<text x="840.77" y="215.3" fill="#000080" stroke="#000080" font-size="12" textLength="26.11" lengthAdjust="spacingAndGlyphs">C401</text>
<text x="881.47" y="215.3" fill="#000080" stroke="#000080" font-size="12" textLength="25.48" lengthAdjust="spacingAndGlyphs">10uF</text>
<text x="841.17" y="228.6" fill="#800000" stroke="#800000" font-size="12" textLength="85.55" lengthAdjust="spacingAndGlyphs">EMIFIL_0603_3P</text>
<text x="945.13" y="242.2" fill="#000000" stroke="#000000" font-size="12" textLength="6" lengthAdjust="spacingAndGlyphs">1</text>
<text x="1023.93" y="242.2" fill="#000000" stroke="#000000" font-size="12" textLength="6.5" lengthAdjust="spacingAndGlyphs">3</text>
<text x="0" y="0" fill="#000000" stroke="#000000" font-size="12" transform="translate(984.83,273.6) rotate(-90)" textLength="7" lengthAdjust="spacingAndGlyphs">2</text>
<text x="947.43" y="215.3" fill="#000080" stroke="#000080" font-size="12" textLength="26.11" lengthAdjust="spacingAndGlyphs">C156</text>
<text x="988.13" y="215.3" fill="#000080" stroke="#000080" font-size="12" textLength="25.48" lengthAdjust="spacingAndGlyphs">10uF</text>
<text x="947.83" y="228.6" fill="#800000" stroke="#800000" font-size="12" textLength="85.55" lengthAdjust="spacingAndGlyphs">EMIFIL_0603_3P</text>
<text x="1051.8" y="242.2" fill="#000000" stroke="#000000" font-size="12" textLength="6" lengthAdjust="spacingAndGlyphs">1</text>
<text x="1130.6" y="242.2" fill="#000000" stroke="#000000" font-size="12" textLength="6.5" lengthAdjust="spacingAndGlyphs">3</text>
<text x="0" y="0" fill="#000000" stroke="#000000" font-size="12" transform="translate(1091.5,273.6) rotate(-90)" textLength="7" lengthAdjust="spacingAndGlyphs">2</text>
<text x="1054.1" y="215.3" fill="#000080" stroke="#000080" font-size="12" textLength="26.11" lengthAdjust="spacingAndGlyphs">C400</text>
<text x="1094.8" y="215.3" fill="#000080" stroke="#000080" font-size="12" textLength="25.48" lengthAdjust="spacingAndGlyphs">10uF</text>
<text x="1054.5" y="228.6" fill="#800000" stroke="#800000" font-size="12" textLength="85.55" lengthAdjust="spacingAndGlyphs">EMIFIL_0603_3P</text>
<text x="505.13" y="376.07" fill="#000000" stroke="#000000" font-size="12" textLength="6" lengthAdjust="spacingAndGlyphs">1</text>
<text x="583.93" y="376.07" fill="#000000" stroke="#000000" font-size="12" textLength="6.5" lengthAdjust="spacingAndGlyphs">3</text>
<text x="0" y="0" fill="#000000" stroke="#000000" font-size="12" transform="translate(544.83,407.47) rotate(-90)" textLength="7" lengthAdjust="spacingAndGlyphs">2</text>
<text x="507.43" y="349.17" fill="#000080" stroke="#000080" font-size="12" textLength="26.11" lengthAdjust="spacingAndGlyphs">C371</text>
<text x="548.13" y="349.17" fill="#000080" stroke="#000080" font-size="12" textLength="19.41" lengthAdjust="spacingAndGlyphs">1uF</text>
<text x="507.83" y="362.47" fill="#800000" stroke="#800000" font-size="12" textLength="85.55" lengthAdjust="spacingAndGlyphs">EMIFIL_0402_3P</text>
<text x="611.8" y="376.07" fill="#000000" stroke="#000000" font-size="12" textLength="6" lengthAdjust="spacingAndGlyphs">1</text>
<text x="690.6" y="376.07" fill="#000000" stroke="#000000" font-size="12" textLength="6.5" lengthAdjust="spacingAndGlyphs">3</text>
<text x="0" y="0" fill="#000000" stroke="#000000" font-size="12" transform="translate(651.5,407.47) rotate(-90)" textLength="7" lengthAdjust="spacingAndGlyphs">2</text>
<text x="614.1" y="349.17" fill="#000080" stroke="#000080" font-size="12" textLength="26.11" lengthAdjust="spacingAndGlyphs">C367</text>
<text x="654.8" y="349.17" fill="#000080" stroke="#000080" font-size="12" textLength="19.41" lengthAdjust="spacingAndGlyphs">1uF</text>
<text x="614.5" y="362.47" fill="#800000" stroke="#800000" font-size="12" textLength="85.55" lengthAdjust="spacingAndGlyphs">EMIFIL_0402_3P</text>
<text x="718.46" y="376.07" fill="#000000" stroke="#000000" font-size="12" textLength="6" lengthAdjust="spacingAndGlyphs">1</text>
<text x="797.26" y="376.07" fill="#000000" stroke="#000000" font-size="12" textLength="6.5" lengthAdjust="spacingAndGlyphs">3</text>
<text x="0" y="0" fill="#000000" stroke="#000000" font-size="12" transform="translate(758.16,407.47) rotate(-90)" textLength="7" lengthAdjust="spacingAndGlyphs">2</text>
<text x="720.76" y="349.17" fill="#000080" stroke="#000080" font-size="12" textLength="26.11" lengthAdjust="spacingAndGlyphs">C350</text>
<text x="761.46" y="349.17" fill="#000080" stroke="#000080" font-size="12" textLength="19.41" lengthAdjust="spacingAndGlyphs">1uF</text>
<text x="721.16" y="362.47" fill="#800000" stroke="#800000" font-size="12" textLength="85.55" lengthAdjust="spacingAndGlyphs">EMIFIL_0402_3P</text>
<text x="838.47" y="376.07" fill="#000000" stroke="#000000" font-size="12" textLength="6" lengthAdjust="spacingAndGlyphs">1</text>
<text x="917.27" y="376.07" fill="#000000" stroke="#000000" font-size="12" textLength="6.5" lengthAdjust="spacingAndGlyphs">3</text>
<text x="0" y="0" fill="#000000" stroke="#000000" font-size="12" transform="translate(878.17,407.47) rotate(-90)" textLength="7" lengthAdjust="spacingAndGlyphs">2</text>
<text x="840.77" y="349.17" fill="#000080" stroke="#000080" font-size="12" textLength="26.11" lengthAdjust="spacingAndGlyphs">C393</text>
<text x="881.47" y="349.17" fill="#000080" stroke="#000080" font-size="12" textLength="19.41" lengthAdjust="spacingAndGlyphs">1uF</text>
<text x="841.17" y="362.47" fill="#800000" stroke="#800000" font-size="12" textLength="85.55" lengthAdjust="spacingAndGlyphs">EMIFIL_0402_3P</text>
<text x="945.13" y="376.07" fill="#000000" stroke="#000000" font-size="12" textLength="6" lengthAdjust="spacingAndGlyphs">1</text>
<text x="1023.93" y="376.07" fill="#000000" stroke="#000000" font-size="12" textLength="6.5" lengthAdjust="spacingAndGlyphs">3</text>
<text x="0" y="0" fill="#000000" stroke="#000000" font-size="12" transform="translate(984.83,407.47) rotate(-90)" textLength="7" lengthAdjust="spacingAndGlyphs">2</text>
<text x="947.43" y="349.17" fill="#000080" stroke="#000080" font-size="12" textLength="26.11" lengthAdjust="spacingAndGlyphs">C398</text>
<text x="988.13" y="349.17" fill="#000080" stroke="#000080" font-size="12" textLength="19.41" lengthAdjust="spacingAndGlyphs">1uF</text>
<text x="947.83" y="362.47" fill="#800000" stroke="#800000" font-size="12" textLength="85.55" lengthAdjust="spacingAndGlyphs">EMIFIL_0402_3P</text>
<text x="1051.8" y="376.07" fill="#000000" stroke="#000000" font-size="12" textLength="6" lengthAdjust="spacingAndGlyphs">1</text>
<text x="1130.6" y="376.07" fill="#000000" stroke="#000000" font-size="12" textLength="6.5" lengthAdjust="spacingAndGlyphs">3</text>
<text x="0" y="0" fill="#000000" stroke="#000000" font-size="12" transform="translate(1091.5,407.47) rotate(-90)" textLength="7" lengthAdjust="spacingAndGlyphs">2</text>
<text x="1054.1" y="349.17" fill="#000080" stroke="#000080" font-size="12" textLength="26.11" lengthAdjust="spacingAndGlyphs">C346</text>
<text x="1094.8" y="349.17" fill="#000080" stroke="#000080" font-size="12" textLength="19.41" lengthAdjust="spacingAndGlyphs">1uF</text>
<text x="1054.5" y="362.47" fill="#800000" stroke="#800000" font-size="12" textLength="85.55" lengthAdjust="spacingAndGlyphs">EMIFIL_0402_3P</text>
<text x="1158.46" y="376.07" fill="#000000" stroke="#000000" font-size="12" textLength="6" lengthAdjust="spacingAndGlyphs">1</text>
<text x="1237.26" y="376.07" fill="#000000" stroke="#000000" font-size="12" textLength="6.5" lengthAdjust="spacingAndGlyphs">3</text>
<text x="0" y="0" fill="#000000" stroke="#000000" font-size="12" transform="translate(1198.16,407.47) rotate(-90)" textLength="7" lengthAdjust="spacingAndGlyphs">2</text>
<text x="1160.76" y="349.17" fill="#000080" stroke="#000080" font-size="12" textLength="26.11" lengthAdjust="spacingAndGlyphs">C394</text>
<text x="1201.46" y="349.17" fill="#000080" stroke="#000080" font-size="12" textLength="19.41" lengthAdjust="spacingAndGlyphs">1uF</text>
<text x="1161.16" y="362.47" fill="#800000" stroke="#800000" font-size="12" textLength="85.55" lengthAdjust="spacingAndGlyphs">EMIFIL_0402_3P</text>
<text x="1265.13" y="376.07" fill="#000000" stroke="#000000" font-size="12" textLength="6" lengthAdjust="spacingAndGlyphs">1</text>
<text x="1343.93" y="376.07" fill="#000000" stroke="#000000" font-size="12" textLength="6.5" lengthAdjust="spacingAndGlyphs">3</text>
<text x="0" y="0" fill="#000000" stroke="#000000" font-size="12" transform="translate(1304.83,407.47) rotate(-90)" textLength="7" lengthAdjust="spacingAndGlyphs">2</text>
<text x="1267.43" y="349.17" fill="#000080" stroke="#000080" font-size="12" textLength="26.11" lengthAdjust="spacingAndGlyphs">C390</text>
<text x="1308.13" y="349.17" fill="#000080" stroke="#000080" font-size="12" textLength="19.41" lengthAdjust="spacingAndGlyphs">1uF</text>
<text x="1267.83" y="362.47" fill="#800000" stroke="#800000" font-size="12" textLength="85.55" lengthAdjust="spacingAndGlyphs">EMIFIL_0402_3P</text>
<text x="505.13" y="509.4" fill="#000000" stroke="#000000" font-size="12" textLength="6" lengthAdjust="spacingAndGlyphs">1</text>
<text x="583.93" y="509.4" fill="#000000" stroke="#000000" font-size="12" textLength="6.5" lengthAdjust="spacingAndGlyphs">3</text>
<text x="0" y="0" fill="#000000" stroke="#000000" font-size="12" transform="translate(544.83,540.8) rotate(-90)" textLength="7" lengthAdjust="spacingAndGlyphs">2</text>
<text x="507.43" y="482.5" fill="#000080" stroke="#000080" font-size="12" textLength="26.11" lengthAdjust="spacingAndGlyphs">C396</text>
<text x="548.13" y="482.5" fill="#000080" stroke="#000080" font-size="12" textLength="19.41" lengthAdjust="spacingAndGlyphs">1uF</text>
<text x="507.83" y="495.8" fill="#800000" stroke="#800000" font-size="12" textLength="85.55" lengthAdjust="spacingAndGlyphs">EMIFIL_0402_3P</text>
<text x="611.8" y="509.4" fill="#000000" stroke="#000000" font-size="12" textLength="6" lengthAdjust="spacingAndGlyphs">1</text>
<text x="690.6" y="509.4" fill="#000000" stroke="#000000" font-size="12" textLength="6.5" lengthAdjust="spacingAndGlyphs">3</text>
<text x="0" y="0" fill="#000000" stroke="#000000" font-size="12" transform="translate(651.5,540.8) rotate(-90)" textLength="7" lengthAdjust="spacingAndGlyphs">2</text>
<text x="614.1" y="482.5" fill="#000080" stroke="#000080" font-size="12" textLength="26.11" lengthAdjust="spacingAndGlyphs">C357</text>
<text x="654.8" y="482.5" fill="#000080" stroke="#000080" font-size="12" textLength="19.41" lengthAdjust="spacingAndGlyphs">1uF</text>
<text x="614.5" y="495.8" fill="#800000" stroke="#800000" font-size="12" textLength="85.55" lengthAdjust="spacingAndGlyphs">EMIFIL_0402_3P</text>
<text x="718.46" y="509.4" fill="#000000" stroke="#000000" font-size="12" textLength="6" lengthAdjust="spacingAndGlyphs">1</text>
<text x="797.26" y="509.4" fill="#000000" stroke="#000000" font-size="12" textLength="6.5" lengthAdjust="spacingAndGlyphs">3</text>
<text x="0" y="0" fill="#000000" stroke="#000000" font-size="12" transform="translate(758.16,540.8) rotate(-90)" textLength="7" lengthAdjust="spacingAndGlyphs">2</text>
<text x="720.76" y="482.5" fill="#000080" stroke="#000080" font-size="12" textLength="26.11" lengthAdjust="spacingAndGlyphs">C359</text>
<text x="761.46" y="482.5" fill="#000080" stroke="#000080" font-size="12" textLength="19.41" lengthAdjust="spacingAndGlyphs">1uF</text>
<text x="721.16" y="495.8" fill="#800000" stroke="#800000" font-size="12" textLength="85.55" lengthAdjust="spacingAndGlyphs">EMIFIL_0402_3P</text>
<text x="838.47" y="509.4" fill="#000000" stroke="#000000" font-size="12" textLength="6" lengthAdjust="spacingAndGlyphs">1</text>
<text x="917.27" y="509.4" fill="#000000" stroke="#000000" font-size="12" textLength="6.5" lengthAdjust="spacingAndGlyphs">3</text>
<text x="0" y="0" fill="#000000" stroke="#000000" font-size="12" transform="translate(878.17,540.8) rotate(-90)" textLength="7" lengthAdjust="spacingAndGlyphs">2</text>
<text x="840.77" y="482.5" fill="#000080" stroke="#000080" font-size="12" textLength="26.11" lengthAdjust="spacingAndGlyphs">C100</text>
<text x="881.47" y="482.5" fill="#000080" stroke="#000080" font-size="12" textLength="19.41" lengthAdjust="spacingAndGlyphs">1uF</text>
<text x="841.17" y="495.8" fill="#800000" stroke="#800000" font-size="12" textLength="85.55" lengthAdjust="spacingAndGlyphs">EMIFIL_0402_3P</text>
<text x="945.13" y="509.4" fill="#000000" stroke="#000000" font-size="12" textLength="6" lengthAdjust="spacingAndGlyphs">1</text>
<text x="1023.93" y="509.4" fill="#000000" stroke="#000000" font-size="12" textLength="6.5" lengthAdjust="spacingAndGlyphs">3</text>
<text x="0" y="0" fill="#000000" stroke="#000000" font-size="12" transform="translate(984.83,540.8) rotate(-90)" textLength="7" lengthAdjust="spacingAndGlyphs">2</text>
<text x="947.43" y="482.5" fill="#000080" stroke="#000080" font-size="12" textLength="26.11" lengthAdjust="spacingAndGlyphs">C127</text>
<text x="988.13" y="482.5" fill="#000080" stroke="#000080" font-size="12" textLength="19.41" lengthAdjust="spacingAndGlyphs">1uF</text>
<text x="947.83" y="495.8" fill="#800000" stroke="#800000" font-size="12" textLength="85.55" lengthAdjust="spacingAndGlyphs">EMIFIL_0402_3P</text>
<text x="1051.8" y="509.4" fill="#000000" stroke="#000000" font-size="12" textLength="6" lengthAdjust="spacingAndGlyphs">1</text>
<text x="1130.6" y="509.4" fill="#000000" stroke="#000000" font-size="12" textLength="6.5" lengthAdjust="spacingAndGlyphs">3</text>
<text x="0" y="0" fill="#000000" stroke="#000000" font-size="12" transform="translate(1091.5,540.8) rotate(-90)" textLength="7" lengthAdjust="spacingAndGlyphs">2</text>
<text x="1054.1" y="482.5" fill="#000080" stroke="#000080" font-size="12" textLength="25.51" lengthAdjust="spacingAndGlyphs">C116</text>
<text x="1094.8" y="482.5" fill="#000080" stroke="#000080" font-size="12" textLength="19.41" lengthAdjust="spacingAndGlyphs">1uF</text>
<text x="1054.5" y="495.8" fill="#800000" stroke="#800000" font-size="12" textLength="85.55" lengthAdjust="spacingAndGlyphs">EMIFIL_0402_3P</text>
<text x="1158.46" y="509.4" fill="#000000" stroke="#000000" font-size="12" textLength="6" lengthAdjust="spacingAndGlyphs">1</text>
<text x="1237.26" y="509.4" fill="#000000" stroke="#000000" font-size="12" textLength="6.5" lengthAdjust="spacingAndGlyphs">3</text>
<text x="0" y="0" fill="#000000" stroke="#000000" font-size="12" transform="translate(1198.16,540.8) rotate(-90)" textLength="7" lengthAdjust="spacingAndGlyphs">2</text>
<text x="1160.76" y="482.5" fill="#000080" stroke="#000080" font-size="12" textLength="26.11" lengthAdjust="spacingAndGlyphs">C160</text>
<text x="1201.46" y="482.5" fill="#000080" stroke="#000080" font-size="12" textLength="19.41" lengthAdjust="spacingAndGlyphs">1uF</text>
<text x="1161.16" y="495.8" fill="#800000" stroke="#800000" font-size="12" textLength="85.55" lengthAdjust="spacingAndGlyphs">EMIFIL_0402_3P</text>
<text x="1265.13" y="509.4" fill="#000000" stroke="#000000" font-size="12" textLength="6" lengthAdjust="spacingAndGlyphs">1</text>
<text x="1343.93" y="509.4" fill="#000000" stroke="#000000" font-size="12" textLength="6.5" lengthAdjust="spacingAndGlyphs">3</text>
<text x="0" y="0" fill="#000000" stroke="#000000" font-size="12" transform="translate(1304.83,540.8) rotate(-90)" textLength="7" lengthAdjust="spacingAndGlyphs">2</text>
<text x="1267.43" y="482.5" fill="#000080" stroke="#000080" font-size="12" textLength="26.11" lengthAdjust="spacingAndGlyphs">C105</text>
<text x="1308.13" y="482.5" fill="#000080" stroke="#000080" font-size="12" textLength="19.41" lengthAdjust="spacingAndGlyphs">1uF</text>
<text x="1267.83" y="495.8" fill="#800000" stroke="#800000" font-size="12" textLength="85.55" lengthAdjust="spacingAndGlyphs">EMIFIL_0402_3P</text>
<text x="505.13" y="642.73" fill="#000000" stroke="#000000" font-size="12" textLength="6" lengthAdjust="spacingAndGlyphs">1</text>
<text x="583.93" y="642.73" fill="#000000" stroke="#000000" font-size="12" textLength="6.5" lengthAdjust="spacingAndGlyphs">3</text>
<text x="0" y="0" fill="#000000" stroke="#000000" font-size="12" transform="translate(544.83,674.13) rotate(-90)" textLength="7" lengthAdjust="spacingAndGlyphs">2</text>
<text x="507.43" y="615.83" fill="#000080" stroke="#000080" font-size="12" textLength="26.11" lengthAdjust="spacingAndGlyphs">C347</text>
<text x="548.13" y="615.83" fill="#000080" stroke="#000080" font-size="12" textLength="19.41" lengthAdjust="spacingAndGlyphs">1uF</text>
<text x="507.83" y="629.13" fill="#800000" stroke="#800000" font-size="12" textLength="85.55" lengthAdjust="spacingAndGlyphs">EMIFIL_0402_3P</text>
<text x="611.8" y="642.73" fill="#000000" stroke="#000000" font-size="12" textLength="6" lengthAdjust="spacingAndGlyphs">1</text>
<text x="690.6" y="642.73" fill="#000000" stroke="#000000" font-size="12" textLength="6.5" lengthAdjust="spacingAndGlyphs">3</text>
<text x="0" y="0" fill="#000000" stroke="#000000" font-size="12" transform="translate(651.5,674.13) rotate(-90)" textLength="7" lengthAdjust="spacingAndGlyphs">2</text>
<text x="614.1" y="615.83" fill="#000080" stroke="#000080" font-size="12" textLength="26.11" lengthAdjust="spacingAndGlyphs">C149</text>
<text x="654.8" y="615.83" fill="#000080" stroke="#000080" font-size="12" textLength="19.41" lengthAdjust="spacingAndGlyphs">1uF</text>
<text x="614.5" y="629.13" fill="#800000" stroke="#800000" font-size="12" textLength="85.55" lengthAdjust="spacingAndGlyphs">EMIFIL_0402_3P</text>
<text x="718.46" y="642.73" fill="#000000" stroke="#000000" font-size="12" textLength="6" lengthAdjust="spacingAndGlyphs">1</text>
<text x="797.26" y="642.73" fill="#000000" stroke="#000000" font-size="12" textLength="6.5" lengthAdjust="spacingAndGlyphs">3</text>
<text x="0" y="0" fill="#000000" stroke="#000000" font-size="12" transform="translate(758.16,674.13) rotate(-90)" textLength="7" lengthAdjust="spacingAndGlyphs">2</text>
<text x="720.76" y="615.83" fill="#000080" stroke="#000080" font-size="12" textLength="26.11" lengthAdjust="spacingAndGlyphs">C365</text>
<text x="761.46" y="615.83" fill="#000080" stroke="#000080" font-size="12" textLength="19.41" lengthAdjust="spacingAndGlyphs">1uF</text>
<text x="721.16" y="629.13" fill="#800000" stroke="#800000" font-size="12" textLength="85.55" lengthAdjust="spacingAndGlyphs">EMIFIL_0402_3P</text>
<text x="838.47" y="642.73" fill="#000000" stroke="#000000" font-size="12" textLength="6" lengthAdjust="spacingAndGlyphs">1</text>
<text x="917.27" y="642.73" fill="#000000" stroke="#000000" font-size="12" textLength="6.5" lengthAdjust="spacingAndGlyphs">3</text>
<text x="0" y="0" fill="#000000" stroke="#000000" font-size="12" transform="translate(878.17,674.13) rotate(-90)" textLength="7" lengthAdjust="spacingAndGlyphs">2</text>
<text x="840.77" y="615.83" fill="#000080" stroke="#000080" font-size="12" textLength="26.11" lengthAdjust="spacingAndGlyphs">C370</text>
<text x="881.47" y="615.83" fill="#000080" stroke="#000080" font-size="12" textLength="19.41" lengthAdjust="spacingAndGlyphs">1uF</text>
<text x="841.17" y="629.13" fill="#800000" stroke="#800000" font-size="12" textLength="85.55" lengthAdjust="spacingAndGlyphs">EMIFIL_0402_3P</text>
<text x="945.13" y="642.73" fill="#000000" stroke="#000000" font-size="12" textLength="6" lengthAdjust="spacingAndGlyphs">1</text>
<text x="1023.93" y="642.73" fill="#000000" stroke="#000000" font-size="12" textLength="6.5" lengthAdjust="spacingAndGlyphs">3</text>
<text x="0" y="0" fill="#000000" stroke="#000000" font-size="12" transform="translate(984.83,674.13) rotate(-90)" textLength="7" lengthAdjust="spacingAndGlyphs">2</text>
<text x="947.43" y="615.83" fill="#000080" stroke="#000080" font-size="12" textLength="26.11" lengthAdjust="spacingAndGlyphs">C367</text>
<text x="988.13" y="615.83" fill="#000080" stroke="#000080" font-size="12" textLength="19.41" lengthAdjust="spacingAndGlyphs">1uF</text>
<text x="947.83" y="629.13" fill="#800000" stroke="#800000" font-size="12" textLength="85.55" lengthAdjust="spacingAndGlyphs">EMIFIL_0402_3P</text>
<text x="1051.8" y="642.73" fill="#000000" stroke="#000000" font-size="12" textLength="6" lengthAdjust="spacingAndGlyphs">1</text>
<text x="1130.6" y="642.73" fill="#000000" stroke="#000000" font-size="12" textLength="6.5" lengthAdjust="spacingAndGlyphs">3</text>
<text x="0" y="0" fill="#000000" stroke="#000000" font-size="12" transform="translate(1091.5,674.13) rotate(-90)" textLength="7" lengthAdjust="spacingAndGlyphs">2</text>
<text x="1054.1" y="615.83" fill="#000080" stroke="#000080" font-size="12" textLength="26.11" lengthAdjust="spacingAndGlyphs">C389</text>
<text x="1094.8" y="615.83" fill="#000080" stroke="#000080" font-size="12" textLength="19.41" lengthAdjust="spacingAndGlyphs">1uF</text>
<text x="1054.5" y="629.13" fill="#800000" stroke="#800000" font-size="12" textLength="85.55" lengthAdjust="spacingAndGlyphs">EMIFIL_0402_3P</text>
<text x="1158.46" y="642.73" fill="#000000" stroke="#000000" font-size="12" textLength="6" lengthAdjust="spacingAndGlyphs">1</text>
<text x="1237.26" y="642.73" fill="#000000" stroke="#000000" font-size="12" textLength="6.5" lengthAdjust="spacingAndGlyphs">3</text>
<text x="0" y="0" fill="#000000" stroke="#000000" font-size="12" transform="translate(1198.16,674.13) rotate(-90)" textLength="7" lengthAdjust="spacingAndGlyphs">2</text>
<text x="1160.76" y="615.83" fill="#000080" stroke="#000080" font-size="12" textLength="26.11" lengthAdjust="spacingAndGlyphs">C388</text>
<text x="1201.46" y="615.83" fill="#000080" stroke="#000080" font-size="12" textLength="19.41" lengthAdjust="spacingAndGlyphs">1uF</text>
<text x="1161.16" y="629.13" fill="#800000" stroke="#800000" font-size="12" textLength="85.55" lengthAdjust="spacingAndGlyphs">EMIFIL_0402_3P</text>
<text x="1265.13" y="642.73" fill="#000000" stroke="#000000" font-size="12" textLength="6" lengthAdjust="spacingAndGlyphs">1</text>
<text x="1343.93" y="642.73" fill="#000000" stroke="#000000" font-size="12" textLength="6.5" lengthAdjust="spacingAndGlyphs">3</text>
<text x="0" y="0" fill="#000000" stroke="#000000" font-size="12" transform="translate(1304.83,674.13) rotate(-90)" textLength="7" lengthAdjust="spacingAndGlyphs">2</text>
<text x="1267.43" y="615.83" fill="#000080" stroke="#000080" font-size="12" textLength="26.11" lengthAdjust="spacingAndGlyphs">C395</text>
<text x="1308.13" y="615.83" fill="#000080" stroke="#000080" font-size="12" textLength="19.41" lengthAdjust="spacingAndGlyphs">1uF</text>
<text x="1267.83" y="629.13" fill="#800000" stroke="#800000" font-size="12" textLength="85.55" lengthAdjust="spacingAndGlyphs">EMIFIL_0402_3P</text>
<text x="505.13" y="776.06" fill="#000000" stroke="#000000" font-size="12" textLength="6" lengthAdjust="spacingAndGlyphs">1</text>
<text x="583.93" y="776.06" fill="#000000" stroke="#000000" font-size="12" textLength="6.5" lengthAdjust="spacingAndGlyphs">3</text>
<text x="0" y="0" fill="#000000" stroke="#000000" font-size="12" transform="translate(544.83,807.46) rotate(-90)" textLength="7" lengthAdjust="spacingAndGlyphs">2</text>
<text x="507.43" y="749.16" fill="#000080" stroke="#000080" font-size="12" textLength="26.11" lengthAdjust="spacingAndGlyphs">C349</text>
<text x="548.13" y="749.16" fill="#000080" stroke="#000080" font-size="12" textLength="19.41" lengthAdjust="spacingAndGlyphs">1uF</text>
<text x="507.83" y="762.46" fill="#800000" stroke="#800000" font-size="12" textLength="85.55" lengthAdjust="spacingAndGlyphs">EMIFIL_0402_3P</text>
<text x="611.8" y="776.06" fill="#000000" stroke="#000000" font-size="12" textLength="6" lengthAdjust="spacingAndGlyphs">1</text>
<text x="690.6" y="776.06" fill="#000000" stroke="#000000" font-size="12" textLength="6.5" lengthAdjust="spacingAndGlyphs">3</text>
<text x="0" y="0" fill="#000000" stroke="#000000" font-size="12" transform="translate(651.5,807.46) rotate(-90)" textLength="7" lengthAdjust="spacingAndGlyphs">2</text>
<text x="614.1" y="749.16" fill="#000080" stroke="#000080" font-size="12" textLength="26.11" lengthAdjust="spacingAndGlyphs">C153</text>
<text x="654.8" y="749.16" fill="#000080" stroke="#000080" font-size="12" textLength="19.41" lengthAdjust="spacingAndGlyphs">1uF</text>
<text x="614.5" y="762.46" fill="#800000" stroke="#800000" font-size="12" textLength="85.55" lengthAdjust="spacingAndGlyphs">EMIFIL_0402_3P</text>
<text x="718.46" y="776.06" fill="#000000" stroke="#000000" font-size="12" textLength="6" lengthAdjust="spacingAndGlyphs">1</text>
<text x="797.26" y="776.06" fill="#000000" stroke="#000000" font-size="12" textLength="6.5" lengthAdjust="spacingAndGlyphs">3</text>
<text x="0" y="0" fill="#000000" stroke="#000000" font-size="12" transform="translate(758.16,807.46) rotate(-90)" textLength="7" lengthAdjust="spacingAndGlyphs">2</text>
<text x="720.76" y="749.16" fill="#000080" stroke="#000080" font-size="12" textLength="26.11" lengthAdjust="spacingAndGlyphs">C170</text>
<text x="761.46" y="749.16" fill="#000080" stroke="#000080" font-size="12" textLength="19.41" lengthAdjust="spacingAndGlyphs">1uF</text>
<text x="721.16" y="762.46" fill="#800000" stroke="#800000" font-size="12" textLength="85.55" lengthAdjust="spacingAndGlyphs">EMIFIL_0402_3P</text>
<text x="838.47" y="776.06" fill="#000000" stroke="#000000" font-size="12" textLength="6" lengthAdjust="spacingAndGlyphs">1</text>
<text x="917.27" y="776.06" fill="#000000" stroke="#000000" font-size="12" textLength="6.5" lengthAdjust="spacingAndGlyphs">3</text>
<text x="0" y="0" fill="#000000" stroke="#000000" font-size="12" transform="translate(878.17,807.46) rotate(-90)" textLength="7" lengthAdjust="spacingAndGlyphs">2</text>
<text x="840.77" y="749.16" fill="#000080" stroke="#000080" font-size="12" textLength="26.11" lengthAdjust="spacingAndGlyphs">C366</text>
<text x="881.47" y="749.16" fill="#000080" stroke="#000080" font-size="12" textLength="19.41" lengthAdjust="spacingAndGlyphs">1uF</text>
<text x="841.17" y="762.46" fill="#800000" stroke="#800000" font-size="12" textLength="85.55" lengthAdjust="spacingAndGlyphs">EMIFIL_0402_3P</text>
<text x="945.13" y="776.06" fill="#000000" stroke="#000000" font-size="12" textLength="6" lengthAdjust="spacingAndGlyphs">1</text>
<text x="1023.93" y="776.06" fill="#000000" stroke="#000000" font-size="12" textLength="6.5" lengthAdjust="spacingAndGlyphs">3</text>
<text x="0" y="0" fill="#000000" stroke="#000000" font-size="12" transform="translate(984.83,807.46) rotate(-90)" textLength="7" lengthAdjust="spacingAndGlyphs">2</text>
<text x="947.43" y="749.16" fill="#000080" stroke="#000080" font-size="12" textLength="26.11" lengthAdjust="spacingAndGlyphs">C143</text>
<text x="988.13" y="749.16" fill="#000080" stroke="#000080" font-size="12" textLength="19.41" lengthAdjust="spacingAndGlyphs">1uF</text>
<text x="947.83" y="762.46" fill="#800000" stroke="#800000" font-size="12" textLength="85.55" lengthAdjust="spacingAndGlyphs">EMIFIL_0402_3P</text>
<text x="1051.8" y="776.06" fill="#000000" stroke="#000000" font-size="12" textLength="6" lengthAdjust="spacingAndGlyphs">1</text>
<text x="1130.6" y="776.06" fill="#000000" stroke="#000000" font-size="12" textLength="6.5" lengthAdjust="spacingAndGlyphs">3</text>
<text x="0" y="0" fill="#000000" stroke="#000000" font-size="12" transform="translate(1091.5,807.46) rotate(-90)" textLength="7" lengthAdjust="spacingAndGlyphs">2</text>
<text x="1054.1" y="749.16" fill="#000080" stroke="#000080" font-size="12" textLength="26.11" lengthAdjust="spacingAndGlyphs">C121</text>
<text x="1094.8" y="749.16" fill="#000080" stroke="#000080" font-size="12" textLength="19.41" lengthAdjust="spacingAndGlyphs">1uF</text>
<text x="1054.5" y="762.46" fill="#800000" stroke="#800000" font-size="12" textLength="85.55" lengthAdjust="spacingAndGlyphs">EMIFIL_0402_3P</text>
<text x="1158.46" y="776.06" fill="#000000" stroke="#000000" font-size="12" textLength="6" lengthAdjust="spacingAndGlyphs">1</text>
<text x="1237.26" y="776.06" fill="#000000" stroke="#000000" font-size="12" textLength="6.5" lengthAdjust="spacingAndGlyphs">3</text>
<text x="0" y="0" fill="#000000" stroke="#000000" font-size="12" transform="translate(1198.16,807.46) rotate(-90)" textLength="7" lengthAdjust="spacingAndGlyphs">2</text>
<text x="1160.76" y="749.16" fill="#000080" stroke="#000080" font-size="12" textLength="26.11" lengthAdjust="spacingAndGlyphs">C123</text>
<text x="1201.46" y="749.16" fill="#000080" stroke="#000080" font-size="12" textLength="19.41" lengthAdjust="spacingAndGlyphs">1uF</text>
<text x="1161.16" y="762.46" fill="#800000" stroke="#800000" font-size="12" textLength="85.55" lengthAdjust="spacingAndGlyphs">EMIFIL_0402_3P</text>
<text x="1265.13" y="776.06" fill="#000000" stroke="#000000" font-size="12" textLength="6" lengthAdjust="spacingAndGlyphs">1</text>
<text x="1343.93" y="776.06" fill="#000000" stroke="#000000" font-size="12" textLength="6.5" lengthAdjust="spacingAndGlyphs">3</text>
<text x="0" y="0" fill="#000000" stroke="#000000" font-size="12" transform="translate(1304.83,807.46) rotate(-90)" textLength="7" lengthAdjust="spacingAndGlyphs">2</text>
<text x="1267.43" y="749.16" fill="#000080" stroke="#000080" font-size="12" textLength="26.11" lengthAdjust="spacingAndGlyphs">C134</text>
<text x="1308.13" y="749.16" fill="#000080" stroke="#000080" font-size="12" textLength="19.41" lengthAdjust="spacingAndGlyphs">1uF</text>
<text x="1267.83" y="762.46" fill="#800000" stroke="#800000" font-size="12" textLength="85.55" lengthAdjust="spacingAndGlyphs">EMIFIL_0402_3P</text>
<text x="727.3" y="895.7" fill="#000080" stroke="#000080" font-size="12" textLength="26.11" lengthAdjust="spacingAndGlyphs">C210</text>
<text x="727.3" y="909.03" fill="#000080" stroke="#000080" font-size="12" textLength="31.55" lengthAdjust="spacingAndGlyphs">100nF</text>
<text x="727.3" y="922.36" fill="#800000" stroke="#800000" font-size="12" textLength="42.7" lengthAdjust="spacingAndGlyphs">10V,X5R</text>
<text x="727.3" y="935.69" fill="#800000" stroke="#800000" font-size="12" textLength="32.18" lengthAdjust="spacingAndGlyphs">C0201</text>
<text x="793.87" y="895.7" fill="#000080" stroke="#000080" font-size="12" textLength="26.11" lengthAdjust="spacingAndGlyphs">C214</text>
<text x="793.87" y="909.03" fill="#000080" stroke="#000080" font-size="12" textLength="31.55" lengthAdjust="spacingAndGlyphs">100nF</text>
<text x="793.87" y="922.36" fill="#800000" stroke="#800000" font-size="12" textLength="42.7" lengthAdjust="spacingAndGlyphs">10V,X5R</text>
<text x="793.87" y="935.69" fill="#800000" stroke="#800000" font-size="12" textLength="32.18" lengthAdjust="spacingAndGlyphs">C0201</text>
<text x="860.44" y="895.7" fill="#000080" stroke="#000080" font-size="12" textLength="26.11" lengthAdjust="spacingAndGlyphs">C144</text>
<text x="860.44" y="909.03" fill="#000080" stroke="#000080" font-size="12" textLength="31.55" lengthAdjust="spacingAndGlyphs">100nF</text>
<text x="860.44" y="922.36" fill="#800000" stroke="#800000" font-size="12" textLength="42.7" lengthAdjust="spacingAndGlyphs">10V,X5R</text>
<text x="860.44" y="935.69" fill="#800000" stroke="#800000" font-size="12" textLength="32.18" lengthAdjust="spacingAndGlyphs">C0201</text>
<text x="927.01" y="895.7" fill="#000080" stroke="#000080" font-size="12" textLength="26.11" lengthAdjust="spacingAndGlyphs">C212</text>
<text x="927.01" y="909.03" fill="#000080" stroke="#000080" font-size="12" textLength="31.55" lengthAdjust="spacingAndGlyphs">100nF</text>
<text x="927.01" y="922.36" fill="#800000" stroke="#800000" font-size="12" textLength="42.7" lengthAdjust="spacingAndGlyphs">10V,X5R</text>
<text x="927.01" y="935.69" fill="#800000" stroke="#800000" font-size="12" textLength="32.18" lengthAdjust="spacingAndGlyphs">C0201</text>
<text x="993.58" y="895.7" fill="#000080" stroke="#000080" font-size="12" textLength="26.11" lengthAdjust="spacingAndGlyphs">C103</text>
<text x="993.58" y="909.03" fill="#000080" stroke="#000080" font-size="12" textLength="31.55" lengthAdjust="spacingAndGlyphs">100nF</text>
<text x="993.58" y="922.36" fill="#800000" stroke="#800000" font-size="12" textLength="42.7" lengthAdjust="spacingAndGlyphs">10V,X5R</text>
<text x="993.58" y="935.69" fill="#800000" stroke="#800000" font-size="12" textLength="32.18" lengthAdjust="spacingAndGlyphs">C0201</text>
<text x="1060.15" y="895.7" fill="#000080" stroke="#000080" font-size="12" textLength="26.11" lengthAdjust="spacingAndGlyphs">C213</text>
<text x="1060.15" y="909.03" fill="#000080" stroke="#000080" font-size="12" textLength="31.55" lengthAdjust="spacingAndGlyphs">100nF</text>
<text x="1060.15" y="922.36" fill="#800000" stroke="#800000" font-size="12" textLength="42.7" lengthAdjust="spacingAndGlyphs">10V,X5R</text>
<text x="1060.15" y="935.69" fill="#800000" stroke="#800000" font-size="12" textLength="32.18" lengthAdjust="spacingAndGlyphs">C0201</text>
<text x="1126.72" y="895.7" fill="#000080" stroke="#000080" font-size="12" textLength="25.51" lengthAdjust="spacingAndGlyphs">C211</text>
<text x="1126.72" y="909.03" fill="#000080" stroke="#000080" font-size="12" textLength="31.55" lengthAdjust="spacingAndGlyphs">100nF</text>
<text x="1126.72" y="922.36" fill="#800000" stroke="#800000" font-size="12" textLength="42.7" lengthAdjust="spacingAndGlyphs">10V,X5R</text>
<text x="1126.72" y="935.69" fill="#800000" stroke="#800000" font-size="12" textLength="32.18" lengthAdjust="spacingAndGlyphs">C0201</text>
<text x="1193.29" y="895.7" fill="#000080" stroke="#000080" font-size="12" textLength="26.11" lengthAdjust="spacingAndGlyphs">C215</text>
<text x="1193.29" y="909.03" fill="#000080" stroke="#000080" font-size="12" textLength="31.55" lengthAdjust="spacingAndGlyphs">100nF</text>
<text x="1193.29" y="922.36" fill="#800000" stroke="#800000" font-size="12" textLength="42.7" lengthAdjust="spacingAndGlyphs">10V,X5R</text>
<text x="1193.29" y="935.69" fill="#800000" stroke="#800000" font-size="12" textLength="32.18" lengthAdjust="spacingAndGlyphs">C0201</text>
<text x="1259.86" y="895.7" fill="#000080" stroke="#000080" font-size="12" textLength="26.11" lengthAdjust="spacingAndGlyphs">C136</text>
<text x="1259.86" y="909.03" fill="#000080" stroke="#000080" font-size="12" textLength="31.55" lengthAdjust="spacingAndGlyphs">100nF</text>
<text x="1259.86" y="922.36" fill="#800000" stroke="#800000" font-size="12" textLength="42.7" lengthAdjust="spacingAndGlyphs">10V,X5R</text>
<text x="1259.86" y="935.69" fill="#800000" stroke="#800000" font-size="12" textLength="32.18" lengthAdjust="spacingAndGlyphs">C0201</text>
<text x="1326.43" y="895.7" fill="#000080" stroke="#000080" font-size="12" textLength="25.51" lengthAdjust="spacingAndGlyphs">C119</text>
<text x="1326.43" y="909.03" fill="#000080" stroke="#000080" font-size="12" textLength="31.55" lengthAdjust="spacingAndGlyphs">100nF</text>
<text x="1326.43" y="922.36" fill="#800000" stroke="#800000" font-size="12" textLength="42.7" lengthAdjust="spacingAndGlyphs">10V,X5R</text>
<text x="1326.43" y="935.69" fill="#800000" stroke="#800000" font-size="12" textLength="32.18" lengthAdjust="spacingAndGlyphs">C0201</text>
<text x="467.2" y="962.2" fill="#000080" stroke="#000080" font-size="12" textLength="20.03" lengthAdjust="spacingAndGlyphs">C97</text>
<text x="467.2" y="975.53" fill="#000080" stroke="#000080" font-size="12" textLength="31.55" lengthAdjust="spacingAndGlyphs">100nF</text>
<text x="467.2" y="988.86" fill="#800000" stroke="#800000" font-size="12" textLength="42.7" lengthAdjust="spacingAndGlyphs">10V,X5R</text>
<text x="467.2" y="1002.19" fill="#800000" stroke="#800000" font-size="12" textLength="32.18" lengthAdjust="spacingAndGlyphs">C0201</text>
<text x="812.9" y="1007.6" fill="#000000" stroke="#000000" font-size="12" textLength="62.1" lengthAdjust="spacingAndGlyphs">VDD_CORE</text>
<text x="640.8" y="1042.5" fill="#000080" stroke="#000080" font-size="12" textLength="26.11" lengthAdjust="spacingAndGlyphs">R233</text>
<text x="641" y="1055.3" fill="#800000" stroke="#800000" font-size="12" textLength="32.18" lengthAdjust="spacingAndGlyphs">R0201</text>
<text x="734" y="1042.5" fill="#000080" stroke="#000080" font-size="12" textLength="13.96" lengthAdjust="spacingAndGlyphs">0R</text>
<text x="734" y="1055.3" fill="#800000" stroke="#800000" font-size="12" textLength="15.78" lengthAdjust="spacingAndGlyphs">1%</text>
<text x="263" y="1146.8" fill="#000000" stroke="#000000" font-size="12" textLength="63" lengthAdjust="spacingAndGlyphs">VDD_CORE</text>
<text x="307.2" y="1202.2" fill="#000080" stroke="#000080" font-size="12" textLength="26.11" lengthAdjust="spacingAndGlyphs">C107</text>
<text x="307.2" y="1215.53" fill="#000080" stroke="#000080" font-size="12" textLength="31.55" lengthAdjust="spacingAndGlyphs">100nF</text>
<text x="307.2" y="1228.86" fill="#800000" stroke="#800000" font-size="12" textLength="42.7" lengthAdjust="spacingAndGlyphs">10V,X5R</text>
<text x="307.2" y="1242.19" fill="#800000" stroke="#800000" font-size="12" textLength="32.18" lengthAdjust="spacingAndGlyphs">C0201</text>
<text x="480.6" y="1202.2" fill="#000080" stroke="#000080" font-size="12" textLength="26.11" lengthAdjust="spacingAndGlyphs">C130</text>
<text x="480.6" y="1215.53" fill="#000080" stroke="#000080" font-size="12" textLength="31.55" lengthAdjust="spacingAndGlyphs">100nF</text>
<text x="480.6" y="1228.86" fill="#800000" stroke="#800000" font-size="12" textLength="42.7" lengthAdjust="spacingAndGlyphs">10V,X5R</text>
<text x="480.6" y="1242.19" fill="#800000" stroke="#800000" font-size="12" textLength="32.18" lengthAdjust="spacingAndGlyphs">C0201</text>
<text x="560.6" y="1202.2" fill="#000080" stroke="#000080" font-size="12" textLength="26.11" lengthAdjust="spacingAndGlyphs">C164</text>
<text x="560.6" y="1215.53" fill="#000080" stroke="#000080" font-size="12" textLength="31.55" lengthAdjust="spacingAndGlyphs">100nF</text>
<text x="560.6" y="1228.86" fill="#800000" stroke="#800000" font-size="12" textLength="42.7" lengthAdjust="spacingAndGlyphs">10V,X5R</text>
<text x="560.6" y="1242.19" fill="#800000" stroke="#800000" font-size="12" textLength="32.18" lengthAdjust="spacingAndGlyphs">C0201</text>
<text x="633.8" y="1202.2" fill="#000080" stroke="#000080" font-size="12" textLength="26.11" lengthAdjust="spacingAndGlyphs">C392</text>
<text x="633.8" y="1215.53" fill="#000080" stroke="#000080" font-size="12" textLength="31.55" lengthAdjust="spacingAndGlyphs">100nF</text>
<text x="633.8" y="1228.86" fill="#800000" stroke="#800000" font-size="12" textLength="42.7" lengthAdjust="spacingAndGlyphs">10V,X5R</text>
<text x="633.8" y="1242.19" fill="#800000" stroke="#800000" font-size="12" textLength="32.18" lengthAdjust="spacingAndGlyphs">C0201</text>
<text x="713.7" y="1202.2" fill="#000080" stroke="#000080" font-size="12" textLength="26.11" lengthAdjust="spacingAndGlyphs">C385</text>
<text x="713.7" y="1215.53" fill="#000080" stroke="#000080" font-size="12" textLength="31.55" lengthAdjust="spacingAndGlyphs">100nF</text>
<text x="713.7" y="1228.86" fill="#800000" stroke="#800000" font-size="12" textLength="42.7" lengthAdjust="spacingAndGlyphs">10V,X5R</text>
<text x="713.7" y="1242.19" fill="#800000" stroke="#800000" font-size="12" textLength="32.18" lengthAdjust="spacingAndGlyphs">C0201</text>
<text x="909.8" y="1146" fill="#000000" stroke="#000000" font-size="12" textLength="70.7" lengthAdjust="spacingAndGlyphs">VDDR_CORE</text>
<text x="1081.5" y="1202.7" fill="#000080" stroke="#000080" font-size="12" textLength="26.11" lengthAdjust="spacingAndGlyphs">C384</text>
<text x="1081.5" y="1216.03" fill="#000080" stroke="#000080" font-size="12" textLength="19.41" lengthAdjust="spacingAndGlyphs">1uF</text>
<text x="1081.5" y="1229.36" fill="#800000" stroke="#800000" font-size="12" textLength="42.7" lengthAdjust="spacingAndGlyphs">10V,X5R</text>
<text x="1081.5" y="1242.69" fill="#800000" stroke="#800000" font-size="12" textLength="32.18" lengthAdjust="spacingAndGlyphs">C0402</text>
<text x="1160.8" y="1202.7" fill="#000080" stroke="#000080" font-size="12" textLength="26.11" lengthAdjust="spacingAndGlyphs">C397</text>
<text x="1160.8" y="1216.03" fill="#000080" stroke="#000080" font-size="12" textLength="25.48" lengthAdjust="spacingAndGlyphs">22uF</text>
<text x="1160.8" y="1229.36" fill="#800000" stroke="#800000" font-size="12" textLength="42.7" lengthAdjust="spacingAndGlyphs">10V,X5R</text>
<text x="1160.8" y="1242.69" fill="#800000" stroke="#800000" font-size="12" textLength="32.18" lengthAdjust="spacingAndGlyphs">C0805</text>
<text x="1330.4" y="1146.6" fill="#000000" stroke="#000000" font-size="12" textLength="62.6" lengthAdjust="spacingAndGlyphs">VDD_CORE</text>
<text x="1228" y="1175.4" fill="#000080" stroke="#000080" font-size="12" textLength="25.3" lengthAdjust="spacingAndGlyphs">FB27</text>
<text x="1228" y="1188.4" fill="#800000" stroke="#800000" font-size="12" textLength="29.6" lengthAdjust="spacingAndGlyphs">L0603</text>
<text x="1294.8" y="1175.4" fill="#000080" stroke="#000080" font-size="12" textLength="25.5" lengthAdjust="spacingAndGlyphs">120R</text>
<text x="1294.8" y="1188.4" fill="#7a0036" stroke="#7a0036" font-size="12" textLength="13" lengthAdjust="spacingAndGlyphs">2A</text>
<text x="486.8" y="1322.2" fill="#000080" stroke="#000080" font-size="12" textLength="26.11" lengthAdjust="spacingAndGlyphs">C161</text>
<text x="486.8" y="1335.53" fill="#000080" stroke="#000080" font-size="12" textLength="31.55" lengthAdjust="spacingAndGlyphs">100nF</text>
<text x="486.8" y="1348.86" fill="#800000" stroke="#800000" font-size="12" textLength="42.7" lengthAdjust="spacingAndGlyphs">10V,X5R</text>
<text x="486.8" y="1362.19" fill="#800000" stroke="#800000" font-size="12" textLength="32.18" lengthAdjust="spacingAndGlyphs">C0201</text>
<text x="566.8" y="1322.2" fill="#000080" stroke="#000080" font-size="12" textLength="26.11" lengthAdjust="spacingAndGlyphs">C206</text>
<text x="566.8" y="1335.53" fill="#000080" stroke="#000080" font-size="12" textLength="31.55" lengthAdjust="spacingAndGlyphs">100nF</text>
<text x="566.8" y="1348.86" fill="#800000" stroke="#800000" font-size="12" textLength="42.7" lengthAdjust="spacingAndGlyphs">10V,X5R</text>
<text x="566.8" y="1362.19" fill="#800000" stroke="#800000" font-size="12" textLength="32.18" lengthAdjust="spacingAndGlyphs">C0201</text>
<text x="640.2" y="1322.2" fill="#000080" stroke="#000080" font-size="12" textLength="26.11" lengthAdjust="spacingAndGlyphs">C204</text>
<text x="640.2" y="1335.53" fill="#000080" stroke="#000080" font-size="12" textLength="31.55" lengthAdjust="spacingAndGlyphs">100nF</text>
<text x="640.2" y="1348.86" fill="#800000" stroke="#800000" font-size="12" textLength="42.7" lengthAdjust="spacingAndGlyphs">10V,X5R</text>
<text x="640.2" y="1362.19" fill="#800000" stroke="#800000" font-size="12" textLength="32.18" lengthAdjust="spacingAndGlyphs">C0201</text>
<text x="720.2" y="1322.2" fill="#000080" stroke="#000080" font-size="12" textLength="26.11" lengthAdjust="spacingAndGlyphs">C108</text>
<text x="720.2" y="1335.53" fill="#000080" stroke="#000080" font-size="12" textLength="31.55" lengthAdjust="spacingAndGlyphs">100nF</text>
<text x="720.2" y="1348.86" fill="#800000" stroke="#800000" font-size="12" textLength="42.7" lengthAdjust="spacingAndGlyphs">10V,X5R</text>
<text x="720.2" y="1362.19" fill="#800000" stroke="#800000" font-size="12" textLength="32.18" lengthAdjust="spacingAndGlyphs">C0201</text>
<text x="438.46" y="1456.1" fill="#000000" stroke="#000000" font-size="12" textLength="6" lengthAdjust="spacingAndGlyphs">1</text>
<text x="517.26" y="1456.1" fill="#000000" stroke="#000000" font-size="12" textLength="6.5" lengthAdjust="spacingAndGlyphs">3</text>
<text x="0" y="0" fill="#000000" stroke="#000000" font-size="12" transform="translate(478.16,1487.5) rotate(-90)" textLength="7" lengthAdjust="spacingAndGlyphs">2</text>
<text x="440.76" y="1429.2" fill="#000080" stroke="#000080" font-size="12" textLength="26.11" lengthAdjust="spacingAndGlyphs">C380</text>
<text x="481.46" y="1429.2" fill="#000080" stroke="#000080" font-size="12" textLength="19.41" lengthAdjust="spacingAndGlyphs">1uF</text>
<text x="441.16" y="1442.5" fill="#800000" stroke="#800000" font-size="12" textLength="85.55" lengthAdjust="spacingAndGlyphs">EMIFIL_0402_3P</text>
<text x="545.13" y="1456.1" fill="#000000" stroke="#000000" font-size="12" textLength="6" lengthAdjust="spacingAndGlyphs">1</text>
<text x="623.93" y="1456.1" fill="#000000" stroke="#000000" font-size="12" textLength="6.5" lengthAdjust="spacingAndGlyphs">3</text>
<text x="0" y="0" fill="#000000" stroke="#000000" font-size="12" transform="translate(584.83,1487.5) rotate(-90)" textLength="7" lengthAdjust="spacingAndGlyphs">2</text>
<text x="547.43" y="1429.2" fill="#000080" stroke="#000080" font-size="12" textLength="26.11" lengthAdjust="spacingAndGlyphs">C383</text>
<text x="588.13" y="1429.2" fill="#000080" stroke="#000080" font-size="12" textLength="19.41" lengthAdjust="spacingAndGlyphs">1uF</text>
<text x="547.83" y="1442.5" fill="#800000" stroke="#800000" font-size="12" textLength="85.55" lengthAdjust="spacingAndGlyphs">EMIFIL_0402_3P</text>
<text x="651.8" y="1456.1" fill="#000000" stroke="#000000" font-size="12" textLength="6" lengthAdjust="spacingAndGlyphs">1</text>
<text x="730.6" y="1456.1" fill="#000000" stroke="#000000" font-size="12" textLength="6.5" lengthAdjust="spacingAndGlyphs">3</text>
<text x="0" y="0" fill="#000000" stroke="#000000" font-size="12" transform="translate(691.5,1487.5) rotate(-90)" textLength="7" lengthAdjust="spacingAndGlyphs">2</text>
<text x="654.1" y="1429.2" fill="#000080" stroke="#000080" font-size="12" textLength="26.11" lengthAdjust="spacingAndGlyphs">C391</text>
<text x="694.8" y="1429.2" fill="#000080" stroke="#000080" font-size="12" textLength="19.41" lengthAdjust="spacingAndGlyphs">1uF</text>
<text x="654.5" y="1442.5" fill="#800000" stroke="#800000" font-size="12" textLength="85.55" lengthAdjust="spacingAndGlyphs">EMIFIL_0402_3P</text>
<text x="771.8" y="1456.1" fill="#000000" stroke="#000000" font-size="12" textLength="6" lengthAdjust="spacingAndGlyphs">1</text>
<text x="850.6" y="1456.1" fill="#000000" stroke="#000000" font-size="12" textLength="6.5" lengthAdjust="spacingAndGlyphs">3</text>
<text x="0" y="0" fill="#000000" stroke="#000000" font-size="12" transform="translate(811.5,1487.5) rotate(-90)" textLength="7" lengthAdjust="spacingAndGlyphs">2</text>
<text x="774.1" y="1429.2" fill="#000080" stroke="#000080" font-size="12" textLength="26.11" lengthAdjust="spacingAndGlyphs">C381</text>
<text x="814.8" y="1429.2" fill="#000080" stroke="#000080" font-size="12" textLength="19.41" lengthAdjust="spacingAndGlyphs">1uF</text>
<text x="774.5" y="1442.5" fill="#800000" stroke="#800000" font-size="12" textLength="85.55" lengthAdjust="spacingAndGlyphs">EMIFIL_0402_3P</text>
<text x="878.46" y="1456.1" fill="#000000" stroke="#000000" font-size="12" textLength="6" lengthAdjust="spacingAndGlyphs">1</text>
<text x="957.26" y="1456.1" fill="#000000" stroke="#000000" font-size="12" textLength="6.5" lengthAdjust="spacingAndGlyphs">3</text>
<text x="0" y="0" fill="#000000" stroke="#000000" font-size="12" transform="translate(918.16,1487.5) rotate(-90)" textLength="7" lengthAdjust="spacingAndGlyphs">2</text>
<text x="880.76" y="1429.2" fill="#000080" stroke="#000080" font-size="12" textLength="26.11" lengthAdjust="spacingAndGlyphs">C382</text>
<text x="921.46" y="1429.2" fill="#000080" stroke="#000080" font-size="12" textLength="19.41" lengthAdjust="spacingAndGlyphs">1uF</text>
<text x="881.16" y="1442.5" fill="#800000" stroke="#800000" font-size="12" textLength="85.55" lengthAdjust="spacingAndGlyphs">EMIFIL_0402_3P</text></g>
</svg>
</body></html>
